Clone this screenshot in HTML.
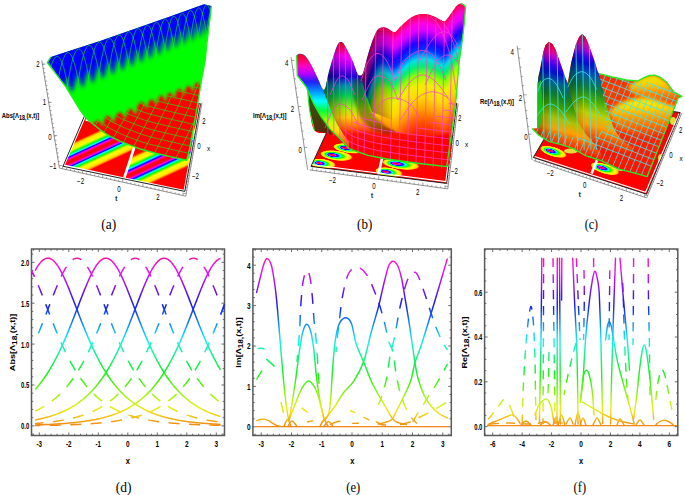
<!DOCTYPE html><html><head><meta charset="utf-8"><style>html,body{margin:0;padding:0;background:#fff;width:685px;height:495px;overflow:hidden}svg{display:block}</style></head><body><svg width="685" height="495" viewBox="0 0 685 495"><defs><linearGradient id="gd" gradientUnits="userSpaceOnUse" x1="0" y1="425.9" x2="0" y2="258.21"><stop offset="0" stop-color="#f28313"/><stop offset="0.04" stop-color="#f2b013"/><stop offset="0.08" stop-color="#f2dd13"/><stop offset="0.12" stop-color="#dbf213"/><stop offset="0.17" stop-color="#aef213"/><stop offset="0.21" stop-color="#81f213"/><stop offset="0.25" stop-color="#54f213"/><stop offset="0.29" stop-color="#28f213"/><stop offset="0.33" stop-color="#13f22c"/><stop offset="0.38" stop-color="#13f259"/><stop offset="0.42" stop-color="#13f286"/><stop offset="0.46" stop-color="#13f2b3"/><stop offset="0.5" stop-color="#13f2e0"/><stop offset="0.54" stop-color="#13d8f2"/><stop offset="0.58" stop-color="#13abf2"/><stop offset="0.62" stop-color="#137ef2"/><stop offset="0.67" stop-color="#1351f2"/><stop offset="0.71" stop-color="#1324f2"/><stop offset="0.75" stop-color="#2f13f2"/><stop offset="0.79" stop-color="#5c13f2"/><stop offset="0.83" stop-color="#8913f2"/><stop offset="0.88" stop-color="#b613f2"/><stop offset="0.92" stop-color="#e313f2"/><stop offset="0.96" stop-color="#f213d5"/><stop offset="1" stop-color="#f213a8"/></linearGradient><clipPath id="cpd"><rect x="31.5" y="249" width="193" height="186.5"/></clipPath><filter id="bl15" x="-20%" y="-20%" width="140%" height="140%"><feGaussianBlur stdDeviation="1.4"/></filter><filter id="bl22" x="-20%" y="-20%" width="140%" height="140%"><feGaussianBlur stdDeviation="2.1"/></filter><filter id="bl08" x="-20%" y="-20%" width="140%" height="140%"><feGaussianBlur stdDeviation="0.7"/></filter><linearGradient id="sa1" gradientUnits="userSpaceOnUse" x1="79.13" y1="128.78" x2="100.87" y2="176.02"><stop offset="0" stop-color="#ff0000"/><stop offset="0.19" stop-color="#ff0000"/><stop offset="0.21" stop-color="#ff8000"/><stop offset="0.24" stop-color="#ffe500"/><stop offset="0.3" stop-color="#ffff00"/><stop offset="0.33" stop-color="#95ff00"/><stop offset="0.35" stop-color="#00ff00"/><stop offset="0.39" stop-color="#00ffff"/><stop offset="0.41" stop-color="#0000ff"/><stop offset="0.44" stop-color="#ff00ff"/><stop offset="0.47" stop-color="#ff002b"/><stop offset="0.5" stop-color="#ff0000"/><stop offset="0.53" stop-color="#ff002b"/><stop offset="0.56" stop-color="#ff00ff"/><stop offset="0.59" stop-color="#0000ff"/><stop offset="0.61" stop-color="#00ffff"/><stop offset="0.65" stop-color="#00ff00"/><stop offset="0.67" stop-color="#95ff00"/><stop offset="0.7" stop-color="#ffff00"/><stop offset="0.76" stop-color="#ffe500"/><stop offset="0.79" stop-color="#ff8000"/><stop offset="0.81" stop-color="#ff0000"/><stop offset="1" stop-color="#ff0000"/></linearGradient><linearGradient id="sa2" gradientUnits="userSpaceOnUse" x1="139.13" y1="142.38" x2="160.87" y2="189.62"><stop offset="0" stop-color="#ff0000"/><stop offset="0.18" stop-color="#ff0000"/><stop offset="0.21" stop-color="#ff8000"/><stop offset="0.23" stop-color="#ffe500"/><stop offset="0.3" stop-color="#ffff00"/><stop offset="0.32" stop-color="#95ff00"/><stop offset="0.35" stop-color="#00ff00"/><stop offset="0.38" stop-color="#00ffff"/><stop offset="0.41" stop-color="#0000ff"/><stop offset="0.44" stop-color="#ff00ff"/><stop offset="0.47" stop-color="#ff002b"/><stop offset="0.5" stop-color="#ff0000"/><stop offset="0.53" stop-color="#ff002b"/><stop offset="0.56" stop-color="#ff00ff"/><stop offset="0.59" stop-color="#0000ff"/><stop offset="0.62" stop-color="#00ffff"/><stop offset="0.65" stop-color="#00ff00"/><stop offset="0.68" stop-color="#95ff00"/><stop offset="0.7" stop-color="#ffff00"/><stop offset="0.77" stop-color="#ffe500"/><stop offset="0.79" stop-color="#ff8000"/><stop offset="0.82" stop-color="#ff0000"/><stop offset="1" stop-color="#ff0000"/></linearGradient><clipPath id="sfa"><path d="M47.3 62.7 L50.9 56.9 L69.1 50.9 L100 40.9 L170 16.4 L204 4.2 L211.3 6.1 L210 18.2 L207 42.5 L205.2 60 L201.5 80 L197.5 105 L193.5 128 L190 147 L188 155.5 L186.6 160.3 L170.3 156.6 L155.7 153.2 L141.1 149.3 L125.5 143.4 L120.4 141.4 L115.4 138.9 L110.3 136.4 L105.3 133.3 L100.2 129.8 L95.2 125.8 L90.1 121.7 L85.1 116.7 L80 110.1 L74.5 100.9 L65.5 86.4 L54.5 71.8 L47.3 62.7 Z"/></clipPath><clipPath id="rza"><path d="M86 128 L98 120 L99.71 121.2 L101.42 124.5 L103.25 126.75 L104.08 120 L105.79 116.7 L107.5 115.5 L109.75 116.7 L112 120 L114.25 122.75 L115.5 116.5 L117.75 113.2 L120 112 L121.85 113.2 L123.71 116.5 L125.65 119.25 L126.59 113 L128.45 109.7 L130.3 108.5 L132.32 109.7 L134.33 113 L136.4 114.15 L137.47 106.3 L139.48 103 L141.5 101.8 L143.35 103 L145.21 106.3 L147.15 109.4 L148.09 103.5 L149.95 100.2 L151.8 99 L153.49 100.2 L155.18 103.5 L157 105.95 L157.82 99.4 L159.51 96.1 L161.2 94.9 L162.75 96.1 L164.3 99.4 L166 102.55 L166.7 96.7 L168.25 93.4 L169.8 92.2 L171.51 93.4 L173.22 96.7 L175.05 99.3 L175.88 92.9 L177.59 89.6 L179.3 88.4 L180.99 89.6 L182.68 92.9 L184.5 95.85 L185.32 89.8 L187.01 86.5 L188.7 85.3 L190.25 86.5 L191.8 89.8 L193.5 92.6 L194.2 86.4 L195.75 83.1 L197.3 81.9 L198.87 83.1 L200.43 86.4 L202.15 89.2 L202.87 83 L204.43 79.7 L206 78.5 L215 76 L215 170 L150 175 L80 135 Z"/></clipPath><radialGradient id="blobg" fx="0.34" fy="0.5"><stop offset="0" stop-color="#ff0000"/><stop offset="0.1" stop-color="#ff0000"/><stop offset="0.2" stop-color="#ff00ff"/><stop offset="0.31" stop-color="#0000ff"/><stop offset="0.42" stop-color="#00ffff"/><stop offset="0.54" stop-color="#00ff00"/><stop offset="0.66" stop-color="#b0ff00"/><stop offset="0.76" stop-color="#ffff00"/><stop offset="0.9" stop-color="#ffd000"/><stop offset="0.97" stop-color="#ff3000"/><stop offset="1" stop-color="#ff0000"/></radialGradient><clipPath id="flb"><path d="M311 166.4 L446.6 183.4 L456.7 103.3 L337 110 Z"/></clipPath><clipPath id="sfb"><path d="M296.6 55.5 C297.08 55.22 298.38 53.95 299.5 53.8 C300.62 53.65 302.05 53.9 303.3 54.6 C304.55 55.3 305.52 56.02 307 58 C308.48 59.98 310.37 63.08 312.2 66.5 C314.03 69.92 316.28 74.83 318 78.5 C319.72 82.17 321.32 86.92 322.5 88.5 C323.68 90.08 324 91.02 325.1 88 C326.2 84.98 327.6 76.03 329.1 70.4 C330.6 64.77 332.7 58.43 334.1 54.2 C335.5 49.97 336.48 47.02 337.5 45 C338.52 42.98 339.2 42.35 340.2 42.1 C341.2 41.85 342.15 41.82 343.5 43.5 C344.85 45.18 346.67 49.07 348.3 52.2 C349.93 55.33 351.78 58.77 353.3 62.3 C354.82 65.83 356.22 71.2 357.4 73.4 C358.58 75.6 359.45 75.62 360.4 75.5 C361.35 75.38 362 75.62 363.1 72.7 C364.2 69.78 365.65 62.72 367 58 C368.35 53.28 369.5 49.02 371.2 44.4 C372.9 39.78 375.18 33.15 377.2 30.3 C379.22 27.45 381.5 27.6 383.3 27.3 C385.1 27 386.15 27.67 388 28.5 C389.85 29.33 392.4 32.55 394.4 32.3 C396.4 32.05 397.82 29.02 400 27 C402.18 24.98 405 22.12 407.5 20.2 C410 18.28 412.3 16.52 415 15.5 C417.7 14.48 421.2 14.18 423.7 14.1 C426.2 14.02 427.98 14.48 430 15 C432.02 15.52 433.97 16.37 435.8 17.2 C437.63 18.03 439.5 19.33 441 20 C442.5 20.67 443.47 21.78 444.8 21.2 C446.13 20.62 447.78 18.02 449 16.5 C450.22 14.98 450.77 13.93 452.1 12.1 C453.43 10.27 455.48 6.92 457 5.5 C458.52 4.08 460.03 3.72 461.2 3.6 C462.37 3.48 463.28 4.18 464 4.8 C464.72 5.42 465.47 4.07 465.5 7.3 C465.53 10.53 464.92 17.33 464.2 24.2 C463.48 31.07 462 42.53 461.2 48.5 C460.4 54.47 460 54.75 459.4 60 C458.8 65.25 458.13 73.67 457.6 80 C457.07 86.33 457.13 89.67 456.2 98 C455.27 106.33 453.58 118.55 452 130 C450.42 141.45 452.8 161.2 446.7 166.7 C440.6 172.2 425.37 164.28 415.4 163 C405.43 161.72 394.8 160.28 386.9 159 C379 157.72 374.32 157.03 368 155.3 C361.68 153.57 353.52 151.23 349 148.6 C344.48 145.97 343.75 141.68 340.9 139.5 C338.05 137.32 334.32 136.55 331.9 135.5 C329.48 134.45 329.3 134.03 326.4 133.2 C323.5 132.37 317.32 134.37 314.5 130.5 C311.68 126.63 310.7 116.9 309.5 110 C308.3 103.1 309.33 94.85 307.3 89.1 C305.27 83.35 298.97 77.77 297.3 75.5 Z"/></clipPath><linearGradient id="g3b" gradientUnits="userSpaceOnUse" x1="0" y1="12" x2="0" y2="170"><stop offset="0" stop-color="#ff0040"/><stop offset="0.05" stop-color="#ff0090"/><stop offset="0.1" stop-color="#ff00e0"/><stop offset="0.16" stop-color="#c000ff"/><stop offset="0.21" stop-color="#3000ff"/><stop offset="0.25" stop-color="#0020ff"/><stop offset="0.3" stop-color="#0090ff"/><stop offset="0.34" stop-color="#00e0d0"/><stop offset="0.39" stop-color="#00f070"/><stop offset="0.44" stop-color="#80ff00"/><stop offset="0.49" stop-color="#f0f000"/><stop offset="0.56" stop-color="#ffa000"/><stop offset="0.63" stop-color="#ff4000"/><stop offset="0.71" stop-color="#ff0000"/><stop offset="1" stop-color="#ff0000"/></linearGradient><linearGradient id="g2b" gradientUnits="userSpaceOnUse" x1="0" y1="42" x2="0" y2="170"><stop offset="0" stop-color="#e00020"/><stop offset="0.05" stop-color="#ff0070"/><stop offset="0.11" stop-color="#ff00ff"/><stop offset="0.19" stop-color="#a000ff"/><stop offset="0.27" stop-color="#2000d0"/><stop offset="0.34" stop-color="#0090b0"/><stop offset="0.42" stop-color="#00d050"/><stop offset="0.52" stop-color="#a0f000"/><stop offset="0.59" stop-color="#ffd000"/><stop offset="0.66" stop-color="#ff7000"/><stop offset="0.72" stop-color="#ff1000"/><stop offset="1" stop-color="#ff0000"/></linearGradient><linearGradient id="g1b" gradientUnits="userSpaceOnUse" x1="0" y1="54" x2="0" y2="150"><stop offset="0" stop-color="#f00020"/><stop offset="0.06" stop-color="#ff0060"/><stop offset="0.12" stop-color="#ff00c0"/><stop offset="0.2" stop-color="#c000ff"/><stop offset="0.29" stop-color="#2020ff"/><stop offset="0.4" stop-color="#00a0ff"/><stop offset="0.49" stop-color="#00ffff"/><stop offset="0.59" stop-color="#00ff40"/><stop offset="0.71" stop-color="#c0ff00"/><stop offset="0.8" stop-color="#ffe000"/><stop offset="0.89" stop-color="#ff8000"/><stop offset="1" stop-color="#ff2000"/></linearGradient><linearGradient id="gdb" gradientUnits="userSpaceOnUse" x1="0" y1="85" x2="0" y2="132"><stop offset="0" stop-color="#2a5a18"/><stop offset="0.53" stop-color="#3a4a10"/><stop offset="1" stop-color="#5a2a08"/></linearGradient><linearGradient id="shb2" gradientUnits="userSpaceOnUse" x1="322" y1="0" x2="346" y2="0"><stop offset="0" stop-color="#000" stop-opacity="0.5"/><stop offset="1" stop-color="#000" stop-opacity="0"/></linearGradient><linearGradient id="shb3" gradientUnits="userSpaceOnUse" x1="362" y1="0" x2="395" y2="0"><stop offset="0" stop-color="#000" stop-opacity="0.6"/><stop offset="0.5" stop-color="#000" stop-opacity="0.3"/><stop offset="1" stop-color="#000" stop-opacity="0"/></linearGradient><clipPath id="frb"><path d="M343 128 L360 118 L372 112 L387 127 L406 134 L430 122 L446 108 L456 92 L460 175 L330 175 Z"/></clipPath><clipPath id="flc"><path d="M533.3 157.5 L646.6 194.2 L680.2 112.6 L570 95 Z"/></clipPath><clipPath id="sfc"><path d="M537.6 84 L538.5 76 L540 69.4 L543.3 51.7 L545.5 45 L548.9 41.7 L552.5 44 L555.6 49.4 L561.1 65 L565.6 78.3 L568.5 84 L568.2 80.6 L571.1 62.8 L575.6 45 L579 37 L582.2 33.9 L585.5 37 L588.9 45 L594.4 60.6 L597.8 71.7 L599.1 73.7 L612 77 L626.4 80 L637.4 81 L644.6 77.3 L649 75.5 L654.7 75.2 L660 77 L666.5 81.9 L673.8 91.9 L682 96.4 L678.2 98 L647.2 176.6 L634 172.9 L617.9 168.8 L601.7 160.8 L585.6 155.7 L573.4 148.6 L561.3 144.6 L549.2 141.6 L539.1 135.5 L532.1 128.5 L537.5 128.3 Z"/></clipPath><linearGradient id="gp1c" gradientTransform="rotate(16 550 80)" gradientUnits="userSpaceOnUse" x1="0" y1="41" x2="0" y2="144"><stop offset="0" stop-color="#d00030"/><stop offset="0.06" stop-color="#e00050"/><stop offset="0.12" stop-color="#e000a0"/><stop offset="0.17" stop-color="#a000e0"/><stop offset="0.23" stop-color="#4000f0"/><stop offset="0.3" stop-color="#0010d0"/><stop offset="0.39" stop-color="#006090"/><stop offset="0.5" stop-color="#107a30"/><stop offset="0.61" stop-color="#40a000"/><stop offset="0.72" stop-color="#b0c000"/><stop offset="0.82" stop-color="#ffa000"/><stop offset="0.9" stop-color="#ff5000"/><stop offset="1" stop-color="#ff1000"/></linearGradient><linearGradient id="gp2c" gradientTransform="rotate(16 584 75)" gradientUnits="userSpaceOnUse" x1="0" y1="33" x2="0" y2="142"><stop offset="0" stop-color="#d00030"/><stop offset="0.06" stop-color="#e00050"/><stop offset="0.11" stop-color="#e000a0"/><stop offset="0.17" stop-color="#a000e0"/><stop offset="0.22" stop-color="#4000f0"/><stop offset="0.28" stop-color="#0010d0"/><stop offset="0.38" stop-color="#0060a0"/><stop offset="0.49" stop-color="#108040"/><stop offset="0.6" stop-color="#50b000"/><stop offset="0.71" stop-color="#c0d000"/><stop offset="0.81" stop-color="#ffa000"/><stop offset="0.9" stop-color="#ff5000"/><stop offset="1" stop-color="#ff1000"/></linearGradient><linearGradient id="gshc" gradientUnits="userSpaceOnUse" x1="0" y1="70" x2="0" y2="180"><stop offset="0" stop-color="#ff2000"/><stop offset="0.18" stop-color="#ff3a00"/><stop offset="0.45" stop-color="#ff2a00"/><stop offset="1" stop-color="#ff1000"/></linearGradient><linearGradient id="shc1" gradientUnits="userSpaceOnUse" x1="537" y1="0" x2="552" y2="0"><stop offset="0" stop-color="#000" stop-opacity="0.35"/><stop offset="1" stop-color="#000" stop-opacity="0"/></linearGradient><linearGradient id="shc2" gradientUnits="userSpaceOnUse" x1="567" y1="0" x2="586" y2="0"><stop offset="0" stop-color="#000" stop-opacity="0.35"/><stop offset="1" stop-color="#000" stop-opacity="0"/></linearGradient><radialGradient id="bmpc"><stop offset="0" stop-color="#f0f000"/><stop offset="0.45" stop-color="#ffd000"/><stop offset="0.8" stop-color="#ff7000"/><stop offset="1" stop-color="#ff3a00" stop-opacity="0"/></radialGradient><linearGradient id="bm1c" gradientUnits="userSpaceOnUse" x1="0" y1="74" x2="0" y2="102"><stop offset="0" stop-color="#d8f000"/><stop offset="0.36" stop-color="#ffd000"/><stop offset="0.71" stop-color="#ff8000"/><stop offset="1" stop-color="#ff4000"/></linearGradient><linearGradient id="bm2c" gradientUnits="userSpaceOnUse" x1="0" y1="96" x2="0" y2="136"><stop offset="0" stop-color="#f0f000"/><stop offset="0.25" stop-color="#ffe000"/><stop offset="0.5" stop-color="#ffa000"/><stop offset="0.8" stop-color="#ff6000"/><stop offset="1" stop-color="#ff3000"/></linearGradient><clipPath id="shz"><path d="M599 73 L685 90 L685 185 L528 185 L530 126 L560 134 L590 140 L606 128 L604 100 Z"/></clipPath><linearGradient id="ge" gradientUnits="userSpaceOnUse" x1="0" y1="426.8" x2="0" y2="258.33"><stop offset="0" stop-color="#f28313"/><stop offset="0.04" stop-color="#f2b013"/><stop offset="0.08" stop-color="#f2dd13"/><stop offset="0.12" stop-color="#dbf213"/><stop offset="0.17" stop-color="#aef213"/><stop offset="0.21" stop-color="#81f213"/><stop offset="0.25" stop-color="#54f213"/><stop offset="0.29" stop-color="#28f213"/><stop offset="0.33" stop-color="#13f22c"/><stop offset="0.38" stop-color="#13f259"/><stop offset="0.42" stop-color="#13f286"/><stop offset="0.46" stop-color="#13f2b3"/><stop offset="0.5" stop-color="#13f2e0"/><stop offset="0.54" stop-color="#13d8f2"/><stop offset="0.58" stop-color="#13abf2"/><stop offset="0.62" stop-color="#137ef2"/><stop offset="0.67" stop-color="#1351f2"/><stop offset="0.71" stop-color="#1324f2"/><stop offset="0.75" stop-color="#2f13f2"/><stop offset="0.79" stop-color="#5c13f2"/><stop offset="0.83" stop-color="#8913f2"/><stop offset="0.88" stop-color="#b613f2"/><stop offset="0.92" stop-color="#e313f2"/><stop offset="0.96" stop-color="#f213d5"/><stop offset="1" stop-color="#f213a8"/></linearGradient><linearGradient id="gf" gradientUnits="userSpaceOnUse" x1="0" y1="426.6" x2="0" y2="258.2"><stop offset="0" stop-color="#f28313"/><stop offset="0.04" stop-color="#f2b013"/><stop offset="0.08" stop-color="#f2dd13"/><stop offset="0.12" stop-color="#dbf213"/><stop offset="0.17" stop-color="#aef213"/><stop offset="0.21" stop-color="#81f213"/><stop offset="0.25" stop-color="#54f213"/><stop offset="0.29" stop-color="#28f213"/><stop offset="0.33" stop-color="#13f22c"/><stop offset="0.38" stop-color="#13f259"/><stop offset="0.42" stop-color="#13f286"/><stop offset="0.46" stop-color="#13f2b3"/><stop offset="0.5" stop-color="#13f2e0"/><stop offset="0.54" stop-color="#13d8f2"/><stop offset="0.58" stop-color="#13abf2"/><stop offset="0.62" stop-color="#137ef2"/><stop offset="0.67" stop-color="#1351f2"/><stop offset="0.71" stop-color="#1324f2"/><stop offset="0.75" stop-color="#2f13f2"/><stop offset="0.79" stop-color="#5c13f2"/><stop offset="0.83" stop-color="#8913f2"/><stop offset="0.88" stop-color="#b613f2"/><stop offset="0.92" stop-color="#e313f2"/><stop offset="0.96" stop-color="#f213d5"/><stop offset="1" stop-color="#f213a8"/></linearGradient></defs><rect width="685" height="495" fill="#fff"/><g stroke="#5a5a5a" fill="none"><rect x="31.5" y="249" width="193" height="186.5" stroke-width="1.5"/><path d="M33.4 435.5 v-1.8 M33.4 249 v1.8 M39.3 435.5 v-3 M39.3 249 v3 M45.2 435.5 v-1.8 M45.2 249 v1.8 M51.1 435.5 v-1.8 M51.1 249 v1.8 M57 435.5 v-1.8 M57 249 v1.8 M62.9 435.5 v-1.8 M62.9 249 v1.8 M68.8 435.5 v-3 M68.8 249 v3 M74.7 435.5 v-1.8 M74.7 249 v1.8 M80.6 435.5 v-1.8 M80.6 249 v1.8 M86.5 435.5 v-1.8 M86.5 249 v1.8 M92.4 435.5 v-1.8 M92.4 249 v1.8 M98.3 435.5 v-3 M98.3 249 v3 M104.2 435.5 v-1.8 M104.2 249 v1.8 M110.1 435.5 v-1.8 M110.1 249 v1.8 M116 435.5 v-1.8 M116 249 v1.8 M121.9 435.5 v-1.8 M121.9 249 v1.8 M127.8 435.5 v-3 M127.8 249 v3 M133.7 435.5 v-1.8 M133.7 249 v1.8 M139.6 435.5 v-1.8 M139.6 249 v1.8 M145.5 435.5 v-1.8 M145.5 249 v1.8 M151.4 435.5 v-1.8 M151.4 249 v1.8 M157.3 435.5 v-3 M157.3 249 v3 M163.2 435.5 v-1.8 M163.2 249 v1.8 M169.1 435.5 v-1.8 M169.1 249 v1.8 M175 435.5 v-1.8 M175 249 v1.8 M180.9 435.5 v-1.8 M180.9 249 v1.8 M186.8 435.5 v-3 M186.8 249 v3 M192.7 435.5 v-1.8 M192.7 249 v1.8 M198.6 435.5 v-1.8 M198.6 249 v1.8 M204.5 435.5 v-1.8 M204.5 249 v1.8 M210.4 435.5 v-1.8 M210.4 249 v1.8 M216.3 435.5 v-3 M216.3 249 v3 M222.2 435.5 v-1.8 M222.2 249 v1.8 M31.5 434.08 h1.8 M224.5 434.08 h-1.8 M31.5 425.9 h3 M224.5 425.9 h-3 M31.5 417.72 h1.8 M224.5 417.72 h-1.8 M31.5 409.54 h1.8 M224.5 409.54 h-1.8 M31.5 401.36 h1.8 M224.5 401.36 h-1.8 M31.5 393.18 h1.8 M224.5 393.18 h-1.8 M31.5 385 h3 M224.5 385 h-3 M31.5 376.82 h1.8 M224.5 376.82 h-1.8 M31.5 368.64 h1.8 M224.5 368.64 h-1.8 M31.5 360.46 h1.8 M224.5 360.46 h-1.8 M31.5 352.28 h1.8 M224.5 352.28 h-1.8 M31.5 344.1 h3 M224.5 344.1 h-3 M31.5 335.92 h1.8 M224.5 335.92 h-1.8 M31.5 327.74 h1.8 M224.5 327.74 h-1.8 M31.5 319.56 h1.8 M224.5 319.56 h-1.8 M31.5 311.38 h1.8 M224.5 311.38 h-1.8 M31.5 303.2 h3 M224.5 303.2 h-3 M31.5 295.02 h1.8 M224.5 295.02 h-1.8 M31.5 286.84 h1.8 M224.5 286.84 h-1.8 M31.5 278.66 h1.8 M224.5 278.66 h-1.8 M31.5 270.48 h1.8 M224.5 270.48 h-1.8 M31.5 262.3 h3 M224.5 262.3 h-3 M31.5 254.12 h1.8 M224.5 254.12 h-1.8 " stroke-width="0.9"/></g><text x="39.3" y="447" font-size="9.5" text-anchor="middle" font-weight="bold" font-family="'Liberation Sans', sans-serif"  textLength="5.5" lengthAdjust="spacingAndGlyphs">-3</text><text x="68.8" y="447" font-size="9.5" text-anchor="middle" font-weight="bold" font-family="'Liberation Sans', sans-serif"  textLength="5.5" lengthAdjust="spacingAndGlyphs">-2</text><text x="98.3" y="447" font-size="9.5" text-anchor="middle" font-weight="bold" font-family="'Liberation Sans', sans-serif"  textLength="5.5" lengthAdjust="spacingAndGlyphs">-1</text><text x="127.8" y="447" font-size="9.5" text-anchor="middle" font-weight="bold" font-family="'Liberation Sans', sans-serif"  textLength="3.6" lengthAdjust="spacingAndGlyphs">0</text><text x="157.3" y="447" font-size="9.5" text-anchor="middle" font-weight="bold" font-family="'Liberation Sans', sans-serif"  textLength="3.6" lengthAdjust="spacingAndGlyphs">1</text><text x="186.8" y="447" font-size="9.5" text-anchor="middle" font-weight="bold" font-family="'Liberation Sans', sans-serif"  textLength="3.6" lengthAdjust="spacingAndGlyphs">2</text><text x="216.3" y="447" font-size="9.5" text-anchor="middle" font-weight="bold" font-family="'Liberation Sans', sans-serif"  textLength="3.6" lengthAdjust="spacingAndGlyphs">3</text><text x="29.2" y="429.3" font-size="9.5" text-anchor="end" font-weight="bold" font-family="'Liberation Sans', sans-serif"  textLength="8.2" lengthAdjust="spacingAndGlyphs">0.0</text><text x="29.2" y="388.4" font-size="9.5" text-anchor="end" font-weight="bold" font-family="'Liberation Sans', sans-serif"  textLength="8.2" lengthAdjust="spacingAndGlyphs">0.5</text><text x="29.2" y="347.5" font-size="9.5" text-anchor="end" font-weight="bold" font-family="'Liberation Sans', sans-serif"  textLength="8.2" lengthAdjust="spacingAndGlyphs">1.0</text><text x="29.2" y="306.6" font-size="9.5" text-anchor="end" font-weight="bold" font-family="'Liberation Sans', sans-serif"  textLength="8.2" lengthAdjust="spacingAndGlyphs">1.5</text><text x="29.2" y="265.7" font-size="9.5" text-anchor="end" font-weight="bold" font-family="'Liberation Sans', sans-serif"  textLength="8.2" lengthAdjust="spacingAndGlyphs">2.0</text><text x="127.8" y="463.5" font-size="9" text-anchor="middle" font-weight="bold" font-family="'Liberation Sans', sans-serif"  textLength="4.2" lengthAdjust="spacingAndGlyphs">x</text><text transform="translate(14.6 342.4) rotate(-90)" font-size="7.2" font-weight="bold" text-anchor="middle" font-family="'Liberation Sans', sans-serif" textLength="57.5" lengthAdjust="spacingAndGlyphs">Abs[&#923;<tspan font-size="6.6" dy="2">18,</tspan><tspan dy="-2">(x,t)]</tspan></text><g stroke="#5a5a5a" fill="none"><rect x="252.9" y="249" width="198.4" height="186.5" stroke-width="1.5"/><path d="M255.2 435.5 v-1.8 M255.2 249 v1.8 M261.25 435.5 v-3 M261.25 249 v3 M267.3 435.5 v-1.8 M267.3 249 v1.8 M273.35 435.5 v-1.8 M273.35 249 v1.8 M279.4 435.5 v-1.8 M279.4 249 v1.8 M285.45 435.5 v-1.8 M285.45 249 v1.8 M291.5 435.5 v-3 M291.5 249 v3 M297.55 435.5 v-1.8 M297.55 249 v1.8 M303.6 435.5 v-1.8 M303.6 249 v1.8 M309.65 435.5 v-1.8 M309.65 249 v1.8 M315.7 435.5 v-1.8 M315.7 249 v1.8 M321.75 435.5 v-3 M321.75 249 v3 M327.8 435.5 v-1.8 M327.8 249 v1.8 M333.85 435.5 v-1.8 M333.85 249 v1.8 M339.9 435.5 v-1.8 M339.9 249 v1.8 M345.95 435.5 v-1.8 M345.95 249 v1.8 M352 435.5 v-3 M352 249 v3 M358.05 435.5 v-1.8 M358.05 249 v1.8 M364.1 435.5 v-1.8 M364.1 249 v1.8 M370.15 435.5 v-1.8 M370.15 249 v1.8 M376.2 435.5 v-1.8 M376.2 249 v1.8 M382.25 435.5 v-3 M382.25 249 v3 M388.3 435.5 v-1.8 M388.3 249 v1.8 M394.35 435.5 v-1.8 M394.35 249 v1.8 M400.4 435.5 v-1.8 M400.4 249 v1.8 M406.45 435.5 v-1.8 M406.45 249 v1.8 M412.5 435.5 v-3 M412.5 249 v3 M418.55 435.5 v-1.8 M418.55 249 v1.8 M424.6 435.5 v-1.8 M424.6 249 v1.8 M430.65 435.5 v-1.8 M430.65 249 v1.8 M436.7 435.5 v-1.8 M436.7 249 v1.8 M442.75 435.5 v-3 M442.75 249 v3 M448.8 435.5 v-1.8 M448.8 249 v1.8 M252.9 434.88 h1.8 M451.3 434.88 h-1.8 M252.9 426.8 h3 M451.3 426.8 h-3 M252.9 418.72 h1.8 M451.3 418.72 h-1.8 M252.9 410.64 h1.8 M451.3 410.64 h-1.8 M252.9 402.56 h1.8 M451.3 402.56 h-1.8 M252.9 394.48 h1.8 M451.3 394.48 h-1.8 M252.9 386.4 h3 M451.3 386.4 h-3 M252.9 378.32 h1.8 M451.3 378.32 h-1.8 M252.9 370.24 h1.8 M451.3 370.24 h-1.8 M252.9 362.16 h1.8 M451.3 362.16 h-1.8 M252.9 354.08 h1.8 M451.3 354.08 h-1.8 M252.9 346 h3 M451.3 346 h-3 M252.9 337.92 h1.8 M451.3 337.92 h-1.8 M252.9 329.84 h1.8 M451.3 329.84 h-1.8 M252.9 321.76 h1.8 M451.3 321.76 h-1.8 M252.9 313.68 h1.8 M451.3 313.68 h-1.8 M252.9 305.6 h3 M451.3 305.6 h-3 M252.9 297.52 h1.8 M451.3 297.52 h-1.8 M252.9 289.44 h1.8 M451.3 289.44 h-1.8 M252.9 281.36 h1.8 M451.3 281.36 h-1.8 M252.9 273.28 h1.8 M451.3 273.28 h-1.8 M252.9 265.2 h3 M451.3 265.2 h-3 M252.9 257.12 h1.8 M451.3 257.12 h-1.8 M252.9 249.04 h1.8 M451.3 249.04 h-1.8 " stroke-width="0.9"/></g><text x="261.25" y="447" font-size="9.5" text-anchor="middle" font-weight="bold" font-family="'Liberation Sans', sans-serif"  textLength="5.5" lengthAdjust="spacingAndGlyphs">-3</text><text x="291.5" y="447" font-size="9.5" text-anchor="middle" font-weight="bold" font-family="'Liberation Sans', sans-serif"  textLength="5.5" lengthAdjust="spacingAndGlyphs">-2</text><text x="321.75" y="447" font-size="9.5" text-anchor="middle" font-weight="bold" font-family="'Liberation Sans', sans-serif"  textLength="5.5" lengthAdjust="spacingAndGlyphs">-1</text><text x="352" y="447" font-size="9.5" text-anchor="middle" font-weight="bold" font-family="'Liberation Sans', sans-serif"  textLength="3.6" lengthAdjust="spacingAndGlyphs">0</text><text x="382.25" y="447" font-size="9.5" text-anchor="middle" font-weight="bold" font-family="'Liberation Sans', sans-serif"  textLength="3.6" lengthAdjust="spacingAndGlyphs">1</text><text x="412.5" y="447" font-size="9.5" text-anchor="middle" font-weight="bold" font-family="'Liberation Sans', sans-serif"  textLength="3.6" lengthAdjust="spacingAndGlyphs">2</text><text x="442.75" y="447" font-size="9.5" text-anchor="middle" font-weight="bold" font-family="'Liberation Sans', sans-serif"  textLength="3.6" lengthAdjust="spacingAndGlyphs">3</text><text x="250.6" y="430.2" font-size="9.5" text-anchor="end" font-weight="bold" font-family="'Liberation Sans', sans-serif"  textLength="3.6" lengthAdjust="spacingAndGlyphs">0</text><text x="250.6" y="389.8" font-size="9.5" text-anchor="end" font-weight="bold" font-family="'Liberation Sans', sans-serif"  textLength="3.6" lengthAdjust="spacingAndGlyphs">1</text><text x="250.6" y="349.4" font-size="9.5" text-anchor="end" font-weight="bold" font-family="'Liberation Sans', sans-serif"  textLength="3.6" lengthAdjust="spacingAndGlyphs">2</text><text x="250.6" y="309" font-size="9.5" text-anchor="end" font-weight="bold" font-family="'Liberation Sans', sans-serif"  textLength="3.6" lengthAdjust="spacingAndGlyphs">3</text><text x="250.6" y="268.6" font-size="9.5" text-anchor="end" font-weight="bold" font-family="'Liberation Sans', sans-serif"  textLength="3.6" lengthAdjust="spacingAndGlyphs">4</text><text x="352.3" y="463.5" font-size="9" text-anchor="middle" font-weight="bold" font-family="'Liberation Sans', sans-serif"  textLength="4.2" lengthAdjust="spacingAndGlyphs">x</text><text transform="translate(240.6 342.6) rotate(-90)" font-size="7.2" font-weight="bold" text-anchor="middle" font-family="'Liberation Sans', sans-serif" textLength="50.5" lengthAdjust="spacingAndGlyphs">Im[&#923;<tspan font-size="6.6" dy="2">18,</tspan><tspan dy="-2">(x,t)]</tspan></text><g stroke="#5a5a5a" fill="none"><rect x="484.6" y="249" width="193.2" height="186.5" stroke-width="1.5"/><path d="M485.32 435.5 v-1.8 M485.32 249 v1.8 M492.68 435.5 v-3 M492.68 249 v3 M500.04 435.5 v-1.8 M500.04 249 v1.8 M507.4 435.5 v-1.8 M507.4 249 v1.8 M514.76 435.5 v-1.8 M514.76 249 v1.8 M522.12 435.5 v-3 M522.12 249 v3 M529.48 435.5 v-1.8 M529.48 249 v1.8 M536.84 435.5 v-1.8 M536.84 249 v1.8 M544.2 435.5 v-1.8 M544.2 249 v1.8 M551.56 435.5 v-3 M551.56 249 v3 M558.92 435.5 v-1.8 M558.92 249 v1.8 M566.28 435.5 v-1.8 M566.28 249 v1.8 M573.64 435.5 v-1.8 M573.64 249 v1.8 M581 435.5 v-3 M581 249 v3 M588.36 435.5 v-1.8 M588.36 249 v1.8 M595.72 435.5 v-1.8 M595.72 249 v1.8 M603.08 435.5 v-1.8 M603.08 249 v1.8 M610.44 435.5 v-3 M610.44 249 v3 M617.8 435.5 v-1.8 M617.8 249 v1.8 M625.16 435.5 v-1.8 M625.16 249 v1.8 M632.52 435.5 v-1.8 M632.52 249 v1.8 M639.88 435.5 v-3 M639.88 249 v3 M647.24 435.5 v-1.8 M647.24 249 v1.8 M654.6 435.5 v-1.8 M654.6 249 v1.8 M661.96 435.5 v-1.8 M661.96 249 v1.8 M669.32 435.5 v-3 M669.32 249 v3 M676.68 435.5 v-1.8 M676.68 249 v1.8 M484.6 426.6 h3 M677.8 426.6 h-3 M484.6 415.4 h1.8 M677.8 415.4 h-1.8 M484.6 404.2 h1.8 M677.8 404.2 h-1.8 M484.6 393 h1.8 M677.8 393 h-1.8 M484.6 381.8 h3 M677.8 381.8 h-3 M484.6 370.6 h1.8 M677.8 370.6 h-1.8 M484.6 359.4 h1.8 M677.8 359.4 h-1.8 M484.6 348.2 h1.8 M677.8 348.2 h-1.8 M484.6 337 h3 M677.8 337 h-3 M484.6 325.8 h1.8 M677.8 325.8 h-1.8 M484.6 314.6 h1.8 M677.8 314.6 h-1.8 M484.6 303.4 h1.8 M677.8 303.4 h-1.8 M484.6 292.2 h3 M677.8 292.2 h-3 M484.6 281 h1.8 M677.8 281 h-1.8 M484.6 269.8 h1.8 M677.8 269.8 h-1.8 M484.6 258.6 h1.8 M677.8 258.6 h-1.8 " stroke-width="0.9"/></g><text x="492.68" y="447" font-size="9.5" text-anchor="middle" font-weight="bold" font-family="'Liberation Sans', sans-serif"  textLength="5.5" lengthAdjust="spacingAndGlyphs">-6</text><text x="522.12" y="447" font-size="9.5" text-anchor="middle" font-weight="bold" font-family="'Liberation Sans', sans-serif"  textLength="5.5" lengthAdjust="spacingAndGlyphs">-4</text><text x="551.56" y="447" font-size="9.5" text-anchor="middle" font-weight="bold" font-family="'Liberation Sans', sans-serif"  textLength="5.5" lengthAdjust="spacingAndGlyphs">-2</text><text x="581" y="447" font-size="9.5" text-anchor="middle" font-weight="bold" font-family="'Liberation Sans', sans-serif"  textLength="3.6" lengthAdjust="spacingAndGlyphs">0</text><text x="610.44" y="447" font-size="9.5" text-anchor="middle" font-weight="bold" font-family="'Liberation Sans', sans-serif"  textLength="3.6" lengthAdjust="spacingAndGlyphs">2</text><text x="639.88" y="447" font-size="9.5" text-anchor="middle" font-weight="bold" font-family="'Liberation Sans', sans-serif"  textLength="3.6" lengthAdjust="spacingAndGlyphs">4</text><text x="669.32" y="447" font-size="9.5" text-anchor="middle" font-weight="bold" font-family="'Liberation Sans', sans-serif"  textLength="3.6" lengthAdjust="spacingAndGlyphs">6</text><text x="482.4" y="430" font-size="9.5" text-anchor="end" font-weight="bold" font-family="'Liberation Sans', sans-serif"  textLength="8.2" lengthAdjust="spacingAndGlyphs">0.0</text><text x="482.4" y="385.2" font-size="9.5" text-anchor="end" font-weight="bold" font-family="'Liberation Sans', sans-serif"  textLength="8.2" lengthAdjust="spacingAndGlyphs">0.2</text><text x="482.4" y="340.4" font-size="9.5" text-anchor="end" font-weight="bold" font-family="'Liberation Sans', sans-serif"  textLength="8.2" lengthAdjust="spacingAndGlyphs">0.4</text><text x="482.4" y="295.6" font-size="9.5" text-anchor="end" font-weight="bold" font-family="'Liberation Sans', sans-serif"  textLength="8.2" lengthAdjust="spacingAndGlyphs">0.6</text><text x="581.2" y="463.5" font-size="9" text-anchor="middle" font-weight="bold" font-family="'Liberation Sans', sans-serif"  textLength="4.2" lengthAdjust="spacingAndGlyphs">x</text><text transform="translate(467.2 342.5) rotate(-90)" font-size="7.2" font-weight="bold" text-anchor="middle" font-family="'Liberation Sans', sans-serif" textLength="52" lengthAdjust="spacingAndGlyphs">Re[&#923;<tspan font-size="6.6" dy="2">18,</tspan><tspan dy="-2">(x,t)]</tspan></text><text x="108.75" y="228.6" font-size="14.5" text-anchor="middle" font-weight="normal" font-family="'Liberation Serif', serif"  textLength="14.9" lengthAdjust="spacingAndGlyphs">(a)</text><text x="364.7" y="228.6" font-size="14.5" text-anchor="middle" font-weight="normal" font-family="'Liberation Serif', serif"  textLength="15.2" lengthAdjust="spacingAndGlyphs">(b)</text><text x="591.45" y="228.6" font-size="14.5" text-anchor="middle" font-weight="normal" font-family="'Liberation Serif', serif"  textLength="13.3" lengthAdjust="spacingAndGlyphs">(c)</text><text x="123.6" y="492" font-size="14.5" text-anchor="middle" font-weight="normal" font-family="'Liberation Serif', serif"  textLength="15.8" lengthAdjust="spacingAndGlyphs">(d)</text><text x="353.3" y="492" font-size="14.5" text-anchor="middle" font-weight="normal" font-family="'Liberation Serif', serif"  textLength="14" lengthAdjust="spacingAndGlyphs">(e)</text><text x="579.85" y="492" font-size="14.5" text-anchor="middle" font-weight="normal" font-family="'Liberation Serif', serif"  textLength="12.5" lengthAdjust="spacingAndGlyphs">(f)</text><g fill="none" stroke="url(#gd)" stroke-width="1.5" stroke-linejoin="round"><path d="M35.12 270.61 L36.29 268.56 L37.45 266.66 L38.62 264.93 L39.79 263.38 L40.95 262.02 L42.12 260.86 L43.28 259.9 L44.45 259.15 L45.61 258.62 L46.78 258.3 L47.95 258.21 L49.11 258.34 L50.28 258.69 L51.44 259.25 L52.61 260.04 L53.77 261.03 L54.94 262.22 L56.11 263.61 L57.27 265.19 L58.44 266.95 L59.6 268.87 L60.77 270.95 L61.94 273.17 L63.1 275.53 L64.27 278.01 L65.43 280.59 L66.6 283.28 L67.76 286.04 L68.93 288.88 L70.1 291.78 L71.26 294.73 L72.43 297.72 L73.59 300.74 L74.76 303.78 L75.92 306.82 L77.09 309.87 L78.26 312.91 L79.42 315.94 L80.59 318.95 L81.75 321.93 L82.92 324.88 L84.08 327.79 L85.25 330.66 L86.42 333.49 L87.58 336.27 L88.75 338.99 L89.91 341.67 L91.08 344.29 L92.24 346.85 L93.41 349.36 L94.58 351.8 L95.74 354.19 L96.91 356.52 L98.07 358.78 L99.24 360.99 L100.4 363.13 L101.57 365.22 L102.74 367.25 L103.9 369.22 L105.07 371.13 L106.23 372.98 L107.4 374.78 L108.57 376.52 L109.73 378.21 L110.9 379.85 L112.06 381.43 L113.23 382.96 L114.39 384.45 L115.56 385.89 L116.73 387.27 L117.89 388.62 L119.06 389.92 L120.22 391.17 L121.39 392.39 L122.55 393.56 L123.72 394.7 L124.89 395.79 L126.05 396.85 L127.22 397.87 L128.38 398.86 L129.55 399.81 L130.71 400.73 L131.88 401.62 L133.05 402.48 L134.21 403.31 L135.38 404.11 L136.54 404.88 L137.71 405.63 L138.87 406.34 L140.04 407.04 L141.21 407.71 L142.37 408.35 L143.54 408.98 L144.7 409.58 L145.87 410.16 L147.03 410.72 L148.2 411.26 L149.37 411.78 L150.53 412.28 L151.7 412.77 L152.86 413.23 L154.03 413.68 L155.2 414.12 L156.36 414.54 L157.53 414.94 L158.69 415.33 L159.86 415.71 L161.02 416.07 L162.19 416.42 L163.36 416.76 L164.52 417.09 L165.69 417.4 L166.85 417.7 L168.02 418 L169.18 418.28 L170.35 418.55 L171.52 418.81 L172.68 419.07 L173.85 419.31 L175.01 419.54 L176.18 419.77 L177.34 419.99 L178.51 420.2 L179.68 420.4 L180.84 420.6 L182.01 420.79 L183.17 420.97 L184.34 421.15 L185.5 421.32 L186.67 421.48 L187.84 421.64 L189 421.79 L190.17 421.94 L191.33 422.08 L192.5 422.22 L193.66 422.35 L194.83 422.47 L196 422.6 L197.16 422.71 L198.33 422.83 L199.49 422.94 L200.66 423.04 L201.83 423.14 L202.99 423.24 L204.16 423.34 L205.32 423.43 L206.49 423.52 L207.65 423.6 L208.82 423.68 L209.99 423.76 L211.15 423.84 L212.32 423.91 L213.48 423.98 L214.65 424.05 L215.81 424.12 L216.98 424.18 L218.15 424.24 L219.31 424.3 L220.48 424.36"/><path d="M35.12 389.53 L36.29 388.21 L37.45 386.86 L38.62 385.45 L39.79 384 L40.95 382.5 L42.12 380.95 L43.28 379.35 L44.45 377.7 L45.61 376 L46.78 374.24 L47.95 372.42 L49.11 370.55 L50.28 368.62 L51.44 366.64 L52.61 364.59 L53.77 362.49 L54.94 360.32 L56.11 358.1 L57.27 355.81 L58.44 353.47 L59.6 351.07 L60.77 348.6 L61.94 346.08 L63.1 343.5 L64.27 340.86 L65.43 338.17 L66.6 335.42 L67.76 332.63 L68.93 329.79 L70.1 326.9 L71.26 323.98 L72.43 321.02 L73.59 318.03 L74.76 315.02 L75.92 311.99 L77.09 308.94 L78.26 305.89 L79.42 302.85 L80.59 299.82 L81.75 296.81 L82.92 293.83 L84.08 290.9 L85.25 288.01 L86.42 285.19 L87.58 282.45 L88.75 279.8 L89.91 277.24 L91.08 274.8 L92.24 272.48 L93.41 270.3 L94.58 268.27 L95.74 266.39 L96.91 264.69 L98.07 263.17 L99.24 261.84 L100.4 260.7 L101.57 259.78 L102.74 259.06 L103.9 258.56 L105.07 258.28 L106.23 258.22 L107.4 258.38 L108.57 258.76 L109.73 259.36 L110.9 260.17 L112.06 261.19 L113.23 262.42 L114.39 263.83 L115.56 265.44 L116.73 267.22 L117.89 269.17 L119.06 271.27 L120.22 273.51 L121.39 275.89 L122.55 278.38 L123.72 280.99 L124.89 283.68 L126.05 286.46 L127.22 289.31 L128.38 292.22 L129.55 295.17 L130.71 298.17 L131.88 301.19 L133.05 304.23 L134.21 307.27 L135.38 310.32 L136.54 313.36 L137.71 316.38 L138.87 319.39 L140.04 322.36 L141.21 325.31 L142.37 328.21 L143.54 331.08 L144.7 333.9 L145.87 336.67 L147.03 339.39 L148.2 342.06 L149.37 344.67 L150.53 347.23 L151.7 349.72 L152.86 352.16 L154.03 354.54 L155.2 356.86 L156.36 359.11 L157.53 361.31 L158.69 363.45 L159.86 365.52 L161.02 367.54 L162.19 369.5 L163.36 371.41 L164.52 373.25 L165.69 375.04 L166.85 376.77 L168.02 378.46 L169.18 380.08 L170.35 381.66 L171.52 383.19 L172.68 384.66 L173.85 386.09 L175.01 387.48 L176.18 388.81 L177.34 390.11 L178.51 391.36 L179.68 392.56 L180.84 393.73 L182.01 394.86 L183.17 395.95 L184.34 397 L185.5 398.02 L186.67 399 L187.84 399.95 L189 400.87 L190.17 401.75 L191.33 402.61 L192.5 403.43 L193.66 404.22 L194.83 404.99 L196 405.73 L197.16 406.45 L198.33 407.14 L199.49 407.8 L200.66 408.45 L201.83 409.07 L202.99 409.66 L204.16 410.24 L205.32 410.8 L206.49 411.34 L207.65 411.85 L208.82 412.35 L209.99 412.84 L211.15 413.3 L212.32 413.75 L213.48 414.18 L214.65 414.6 L215.81 415 L216.98 415.39 L218.15 415.76 L219.31 416.13 L220.48 416.47"/><path d="M35.12 419.89 L36.29 419.67 L37.45 419.44 L38.62 419.2 L39.79 418.95 L40.95 418.7 L42.12 418.43 L43.28 418.15 L44.45 417.87 L45.61 417.57 L46.78 417.26 L47.95 416.94 L49.11 416.61 L50.28 416.27 L51.44 415.91 L52.61 415.54 L53.77 415.16 L54.94 414.76 L56.11 414.35 L57.27 413.92 L58.44 413.48 L59.6 413.02 L60.77 412.55 L61.94 412.06 L63.1 411.55 L64.27 411.02 L65.43 410.47 L66.6 409.9 L67.76 409.31 L68.93 408.7 L70.1 408.06 L71.26 407.41 L72.43 406.73 L73.59 406.02 L74.76 405.29 L75.92 404.53 L77.09 403.75 L78.26 402.94 L79.42 402.1 L80.59 401.22 L81.75 400.32 L82.92 399.39 L84.08 398.42 L85.25 397.41 L86.42 396.38 L87.58 395.3 L88.75 394.19 L89.91 393.04 L91.08 391.84 L92.24 390.61 L93.41 389.34 L94.58 388.02 L95.74 386.65 L96.91 385.24 L98.07 383.78 L99.24 382.28 L100.4 380.72 L101.57 379.11 L102.74 377.45 L103.9 375.74 L105.07 373.97 L106.23 372.15 L107.4 370.27 L108.57 368.33 L109.73 366.34 L110.9 364.28 L112.06 362.17 L113.23 360 L114.39 357.77 L115.56 355.47 L116.73 353.12 L117.89 350.7 L119.06 348.23 L120.22 345.7 L121.39 343.11 L122.55 340.47 L123.72 337.77 L124.89 335.01 L126.05 332.21 L127.22 329.37 L128.38 326.47 L129.55 323.55 L130.71 320.58 L131.88 317.59 L133.05 314.57 L134.21 311.54 L135.38 308.49 L136.54 305.44 L137.71 302.4 L138.87 299.37 L140.04 296.37 L141.21 293.39 L142.37 290.47 L143.54 287.59 L144.7 284.78 L145.87 282.05 L147.03 279.41 L148.2 276.87 L149.37 274.45 L150.53 272.15 L151.7 269.99 L152.86 267.98 L154.03 266.13 L155.2 264.45 L156.36 262.96 L157.53 261.66 L158.69 260.55 L159.86 259.66 L161.02 258.97 L162.19 258.5 L163.36 258.25 L164.52 258.23 L165.69 258.42 L166.85 258.83 L168.02 259.46 L169.18 260.31 L170.35 261.36 L171.52 262.61 L172.68 264.06 L173.85 265.69 L175.01 267.5 L176.18 269.47 L177.34 271.59 L178.51 273.86 L179.68 276.25 L180.84 278.76 L182.01 281.38 L183.17 284.09 L184.34 286.88 L185.5 289.74 L186.67 292.65 L187.84 295.61 L189 298.61 L190.17 301.64 L191.33 304.68 L192.5 307.72 L193.66 310.77 L194.83 313.81 L196 316.83 L197.16 319.83 L198.33 322.8 L199.49 325.74 L200.66 328.64 L201.83 331.5 L202.99 334.31 L204.16 337.08 L205.32 339.79 L206.49 342.45 L207.65 345.05 L208.82 347.6 L209.99 350.09 L211.15 352.52 L212.32 354.88 L213.48 357.19 L214.65 359.44 L215.81 361.63 L216.98 363.76 L218.15 365.83 L219.31 367.84 L220.48 369.79"/><path d="M35.12 424.92 L36.29 424.88 L37.45 424.84 L38.62 424.81 L39.79 424.77 L40.95 424.72 L42.12 424.68 L43.28 424.63 L44.45 424.59 L45.61 424.54 L46.78 424.49 L47.95 424.44 L49.11 424.38 L50.28 424.33 L51.44 424.27 L52.61 424.21 L53.77 424.14 L54.94 424.08 L56.11 424.01 L57.27 423.94 L58.44 423.87 L59.6 423.79 L60.77 423.72 L61.94 423.64 L63.1 423.55 L64.27 423.47 L65.43 423.38 L66.6 423.28 L67.76 423.18 L68.93 423.08 L70.1 422.98 L71.26 422.87 L72.43 422.76 L73.59 422.64 L74.76 422.52 L75.92 422.4 L77.09 422.27 L78.26 422.13 L79.42 421.99 L80.59 421.85 L81.75 421.7 L82.92 421.54 L84.08 421.38 L85.25 421.22 L86.42 421.04 L87.58 420.86 L88.75 420.68 L89.91 420.48 L91.08 420.28 L92.24 420.08 L93.41 419.86 L94.58 419.64 L95.74 419.4 L96.91 419.16 L98.07 418.92 L99.24 418.66 L100.4 418.39 L101.57 418.11 L102.74 417.82 L103.9 417.52 L105.07 417.21 L106.23 416.89 L107.4 416.56 L108.57 416.22 L109.73 415.86 L110.9 415.49 L112.06 415.1 L113.23 414.7 L114.39 414.29 L115.56 413.86 L116.73 413.42 L117.89 412.95 L119.06 412.48 L120.22 411.98 L121.39 411.47 L122.55 410.94 L123.72 410.38 L124.89 409.81 L126.05 409.22 L127.22 408.61 L128.38 407.97 L129.55 407.31 L130.71 406.62 L131.88 405.92 L133.05 405.18 L134.21 404.42 L135.38 403.63 L136.54 402.82 L137.71 401.97 L138.87 401.09 L140.04 400.19 L141.21 399.25 L142.37 398.27 L143.54 397.26 L144.7 396.22 L145.87 395.14 L147.03 394.02 L148.2 392.86 L149.37 391.66 L150.53 390.43 L151.7 389.14 L152.86 387.82 L154.03 386.45 L155.2 385.03 L156.36 383.56 L157.53 382.05 L158.69 380.49 L159.86 378.87 L161.02 377.2 L162.19 375.48 L163.36 373.71 L164.52 371.88 L165.69 369.99 L166.85 368.04 L168.02 366.04 L169.18 363.98 L170.35 361.85 L171.52 359.67 L172.68 357.43 L173.85 355.13 L175.01 352.76 L176.18 350.34 L177.34 347.86 L178.51 345.32 L179.68 342.72 L180.84 340.07 L182.01 337.36 L183.17 334.6 L184.34 331.79 L185.5 328.94 L186.67 326.04 L187.84 323.11 L189 320.14 L190.17 317.14 L191.33 314.12 L192.5 311.09 L193.66 308.04 L194.83 304.99 L196 301.95 L197.16 298.93 L198.33 295.93 L199.49 292.96 L200.66 290.04 L201.83 287.17 L202.99 284.37 L204.16 281.66 L205.32 279.03 L206.49 276.51 L207.65 274.1 L208.82 271.82 L209.99 269.68 L211.15 267.7 L212.32 265.87 L213.48 264.22 L214.65 262.76 L215.81 261.48 L216.98 260.41 L218.15 259.54 L219.31 258.89 L220.48 258.45"/></g><g fill="none" stroke="url(#gd)" stroke-width="1.5" stroke-dasharray="11 9.5" stroke-dashoffset="6.4" stroke-linejoin="round" clip-path="url(#cpd)"><path d="M18.65 258.21 L19.39 258.25 L20.13 258.39 L20.87 258.61 L21.61 258.92 L22.35 259.32 L23.09 259.8 L23.83 260.37 L24.56 261.02 L25.3 261.76 L26.04 262.57 L26.78 263.46 L27.52 264.43 L28.26 265.47 L29 266.58 L29.74 267.76 L30.48 269.01 L31.22 270.31 L31.96 271.68 L32.7 273.11 L33.44 274.58 L34.18 276.11 L34.91 277.69 L35.65 279.31 L36.39 280.97 L37.13 282.67 L37.87 284.4 L38.61 286.17 L39.35 287.96 L40.09 289.79 L40.83 291.63 L41.57 293.49 L42.31 295.38 L43.05 297.27 L43.79 299.18 L44.53 301.1 L45.26 303.02 L46 304.95 L46.74 306.89 L47.48 308.82 L48.22 310.75 L48.96 312.68 L49.7 314.6 L50.44 316.52 L51.18 318.42 L51.92 320.32 L52.66 322.2 L53.4 324.08 L54.14 325.93 L54.88 327.78 L55.61 329.6 L56.35 331.41 L57.09 333.2 L57.83 334.97 L58.57 336.73 L59.31 338.46 L60.05 340.17 L60.79 341.85 L61.53 343.52 L62.27 345.16 L63.01 346.78 L63.75 348.38 L64.49 349.95 L65.23 351.5 L65.96 353.03 L66.7 354.53 L67.44 356 L68.18 357.46 L68.92 358.89 L69.66 360.29 L70.4 361.67 L71.14 363.03 L71.88 364.36 L72.62 365.67 L73.36 366.95 L74.1 368.21 L74.84 369.45 L75.58 370.66 L76.31 371.85 L77.05 373.02 L77.79 374.17 L78.53 375.29 L79.27 376.39 L80.01 377.47 L80.75 378.53 L81.49 379.57 L82.23 380.58 L82.97 381.58 L83.71 382.55 L84.45 383.51 L85.19 384.45 L85.93 385.36 L86.66 386.26 L87.4 387.14 L88.14 388 L88.88 388.84 L89.62 389.67 L90.36 390.47 L91.1 391.26 L91.84 392.04 L92.58 392.79 L93.32 393.53 L94.06 394.26 L94.8 394.97 L95.54 395.66 L96.28 396.34 L97.02 397 L97.75 397.65 L98.49 398.28 L99.23 398.91 L99.97 399.51 L100.71 400.11 L101.45 400.69 L102.19 401.26 L102.93 401.81 L103.67 402.36 L104.41 402.89 L105.15 403.41 L105.89 403.92 L106.63 404.41 L107.37 404.9 L108.1 405.37 L108.84 405.84 L109.58 406.29 L110.32 406.74 L111.06 407.17 L111.8 407.59 L112.54 408.01 L113.28 408.41 L114.02 408.81 L114.76 409.2 L115.5 409.58 L116.24 409.95 L116.98 410.31 L117.72 410.66 L118.45 411.01 L119.19 411.35 L119.93 411.68 L120.67 412 L121.41 412.32 L122.15 412.63 L122.89 412.93 L123.63 413.22 L124.37 413.51 L125.11 413.79 L125.85 414.07 L126.59 414.34 L127.33 414.6 L128.07 414.86 L128.8 415.11 L129.54 415.35 L130.28 415.59 L131.02 415.83 L131.76 416.06 L132.5 416.28 L133.24 416.5 L133.98 416.71 L134.72 416.92 L135.46 417.13 L136.2 417.33 L136.94 417.52 L137.68 417.71 L138.42 417.9 L139.15 418.08 L139.89 418.26 L140.63 418.43 L141.37 418.6 L142.11 418.77 L142.85 418.93 L143.59 419.09 L144.33 419.25 L145.07 419.4 L145.81 419.54 L146.55 419.69 L147.29 419.83 L148.03 419.97 L148.77 420.1 L149.5 420.24 L150.24 420.37 L150.98 420.49 L151.72 420.61 L152.46 420.73 L153.2 420.85 L153.94 420.97 L154.68 421.08 L155.42 421.19 L156.16 421.3 L156.9 421.4 L157.64 421.5 L158.38 421.6 L159.12 421.7 L159.85 421.8 L160.59 421.89 L161.33 421.98 L162.07 422.07 L162.81 422.16 L163.55 422.24 L164.29 422.33 L165.03 422.41 L165.77 422.49 L166.51 422.57 L167.25 422.64 L167.99 422.72 L168.73 422.79 L169.47 422.86 L170.21 422.93 L170.94 423 L171.68 423.06 L172.42 423.13 L173.16 423.19 L173.9 423.25 L174.64 423.31 L175.38 423.37 L176.12 423.43 L176.86 423.49 L177.6 423.54 L178.34 423.59 L179.08 423.65 L179.82 423.7 L180.56 423.75 L181.29 423.8 L182.03 423.85 L182.77 423.89 L183.51 423.94 L184.25 423.98 L184.99 424.03 L185.73 424.07 L186.47 424.11 L187.21 424.15 L187.95 424.19 L188.69 424.23 L189.43 424.27 L190.17 424.31 L190.91 424.34 L191.64 424.38 L192.38 424.41 L193.12 424.45 L193.86 424.48 L194.6 424.51 L195.34 424.54 L196.08 424.57 L196.82 424.6 L197.56 424.63 L198.3 424.66 L199.04 424.69 L199.78 424.72 L200.52 424.75 L201.26 424.77 L201.99 424.8 L202.73 424.82 L203.47 424.85 L204.21 424.87 L204.95 424.89 L205.69 424.92 L206.43 424.94 L207.17 424.96 L207.91 424.98 L208.65 425 L209.39 425.02 L210.13 425.04 L210.87 425.06 L211.61 425.08 L212.34 425.1 L213.08 425.12 L213.82 425.14 L214.56 425.16 L215.3 425.17 L216.04 425.19 L216.78 425.2 L217.52 425.22 L218.26 425.24 L219 425.25 L219.74 425.27 L220.48 425.28"/><path d="M18.65 258.21 L19.4 258.26 L20.15 258.39 L20.9 258.62 L21.65 258.94 L22.39 259.35 L23.14 259.84 L23.89 260.43 L24.64 261.09 L25.39 261.85 L26.14 262.68 L26.89 263.59 L27.64 264.58 L28.38 265.65 L29.13 266.79 L29.88 268 L30.63 269.27 L31.38 270.61 L32.13 272.01 L32.88 273.46 L33.63 274.97 L34.37 276.53 L35.12 278.14"/><path d="M76.91 258.21 L77.65 258.25 L78.39 258.39 L79.13 258.61 L79.87 258.92 L80.61 259.32 L81.35 259.8 L82.09 260.37 L82.83 261.03 L83.57 261.76 L84.31 262.58 L85.05 263.47 L85.79 264.44 L86.53 265.48 L87.27 266.6 L88.01 267.78 L88.75 269.03 L89.49 270.34 L90.23 271.71 L90.97 273.13 L91.71 274.61 L92.45 276.14 L93.19 277.72 L93.93 279.35 L94.67 281.01 L95.41 282.71 L96.15 284.45 L96.89 286.22 L97.63 288.01 L98.37 289.84 L99.11 291.68 L99.85 293.55 L100.59 295.44 L101.33 297.33 L102.07 299.24 L102.81 301.16 L103.55 303.09 L104.29 305.02 L105.03 306.96 L105.77 308.89 L106.51 310.83 L107.25 312.76 L107.99 314.68 L108.73 316.6 L109.47 318.51 L110.21 320.4 L110.95 322.29 L111.69 324.16 L112.43 326.02 L113.17 327.87 L113.91 329.69 L114.65 331.5 L115.39 333.29 L116.13 335.07 L116.87 336.82 L117.61 338.55 L118.35 340.26 L119.09 341.95 L119.83 343.61 L120.57 345.26 L121.31 346.88 L122.05 348.47 L122.79 350.05 L123.53 351.6 L124.27 353.12 L125.01 354.62 L125.75 356.1 L126.49 357.55 L127.23 358.98 L127.97 360.38 L128.71 361.76 L129.45 363.12 L130.19 364.45 L130.93 365.76 L131.67 367.04 L132.41 368.3 L133.15 369.54 L133.89 370.75 L134.63 371.94 L135.37 373.11 L136.11 374.26 L136.85 375.38 L137.59 376.48 L138.33 377.56 L139.07 378.62 L139.81 379.65 L140.55 380.67 L141.29 381.66 L142.03 382.64 L142.77 383.59 L143.51 384.53 L144.25 385.44 L144.99 386.34 L145.73 387.22 L146.47 388.08 L147.21 388.92 L147.95 389.74 L148.69 390.55 L149.43 391.34 L150.17 392.11 L150.91 392.87 L151.65 393.6 L152.39 394.33 L153.13 395.04 L153.87 395.73 L154.61 396.41 L155.35 397.07 L156.09 397.72 L156.83 398.35 L157.58 398.97 L158.32 399.58 L159.06 400.17 L159.8 400.75 L160.54 401.32 L161.28 401.87 L162.02 402.42 L162.76 402.95 L163.5 403.47 L164.24 403.97 L164.98 404.47 L165.72 404.96 L166.46 405.43 L167.2 405.89 L167.94 406.35 L168.68 406.79 L169.42 407.22 L170.16 407.65 L170.9 408.06 L171.64 408.47 L172.38 408.86 L173.12 409.25 L173.86 409.63 L174.6 410 L175.34 410.36 L176.08 410.71 L176.82 411.05 L177.56 411.39 L178.3 411.72 L179.04 412.04 L179.78 412.36 L180.52 412.67 L181.26 412.97 L182 413.26 L182.74 413.55 L183.48 413.83 L184.22 414.11 L184.96 414.37 L185.7 414.64 L186.44 414.89 L187.18 415.14 L187.92 415.39 L188.66 415.63 L189.4 415.86 L190.14 416.09 L190.88 416.31 L191.62 416.53 L192.36 416.75 L193.1 416.95 L193.84 417.16 L194.58 417.36 L195.32 417.55 L196.06 417.74 L196.8 417.93 L197.54 418.11 L198.28 418.29 L199.02 418.46 L199.76 418.63 L200.5 418.8 L201.24 418.96 L201.98 419.12 L202.72 419.27 L203.46 419.42 L204.2 419.57 L204.94 419.71 L205.68 419.85 L206.42 419.99 L207.16 420.13 L207.9 420.26 L208.64 420.39 L209.38 420.51 L210.12 420.64 L210.86 420.76 L211.6 420.87 L212.34 420.99 L213.08 421.1 L213.82 421.21 L214.56 421.32 L215.3 421.42 L216.04 421.52 L216.78 421.62 L217.52 421.72 L218.26 421.82 L219 421.91 L219.74 422 L220.48 422.09"/><path d="M76.91 258.21 L76.17 258.26 L75.42 258.39 L74.67 258.62 L73.93 258.93 L73.18 259.34 L72.44 259.83 L71.69 260.41 L70.94 261.07 L70.2 261.82 L69.45 262.65 L68.7 263.56 L67.96 264.54 L67.21 265.6 L66.47 266.73 L65.72 267.93 L64.97 269.2 L64.23 270.53 L63.48 271.92 L62.73 273.37 L61.99 274.87 L61.24 276.42 L60.5 278.02 L59.75 279.66 L59 281.35 L58.26 283.07 L57.51 284.83 L56.76 286.62 L56.02 288.44 L55.27 290.29 L54.53 292.15 L53.78 294.04 L53.03 295.94 L52.29 297.86 L51.54 299.79 L50.79 301.73 L50.05 303.68 L49.3 305.62 L48.56 307.58 L47.81 309.53 L47.06 311.47 L46.32 313.42 L45.57 315.36 L44.82 317.29 L44.08 319.21 L43.33 321.12 L42.59 323.02 L41.84 324.9 L41.09 326.77 L40.35 328.62 L39.6 330.46 L38.85 332.27 L38.11 334.07 L37.36 335.85 L36.62 337.61 L35.87 339.34 L35.12 341.06"/><path d="M135.18 258.21 L135.92 258.25 L136.66 258.39 L137.4 258.61 L138.14 258.93 L138.88 259.33 L139.63 259.81 L140.37 260.38 L141.11 261.04 L141.85 261.78 L142.59 262.6 L143.33 263.5 L144.08 264.47 L144.82 265.52 L145.56 266.64 L146.3 267.82 L147.04 269.08 L147.78 270.39 L148.53 271.77 L149.27 273.2 L150.01 274.68 L150.75 276.22 L151.49 277.81 L152.24 279.43 L152.98 281.1 L153.72 282.81 L154.46 284.56 L155.2 286.33 L155.94 288.13 L156.69 289.96 L157.43 291.82 L158.17 293.69 L158.91 295.58 L159.65 297.48 L160.39 299.4 L161.14 301.32 L161.88 303.25 L162.62 305.19 L163.36 307.13 L164.1 309.07 L164.85 311.01 L165.59 312.94 L166.33 314.87 L167.07 316.79 L167.81 318.7 L168.55 320.6 L169.3 322.49 L170.04 324.37 L170.78 326.23 L171.52 328.08 L172.26 329.91 L173 331.72 L173.75 333.51 L174.49 335.28 L175.23 337.04 L175.97 338.77 L176.71 340.48 L177.46 342.17 L178.2 343.84 L178.94 345.48 L179.68 347.1 L180.42 348.7 L181.16 350.27 L181.91 351.82 L182.65 353.35 L183.39 354.85 L184.13 356.33 L184.87 357.78 L185.61 359.21 L186.36 360.61 L187.1 361.99 L187.84 363.34 L188.58 364.67 L189.32 365.98 L190.06 367.26 L190.81 368.52 L191.55 369.76 L192.29 370.97 L193.03 372.16 L193.77 373.32 L194.52 374.47 L195.26 375.59 L196 376.69 L196.74 377.77 L197.48 378.82 L198.22 379.86 L198.97 380.87 L199.71 381.86 L200.45 382.84 L201.19 383.79 L201.93 384.72 L202.67 385.64 L203.42 386.53 L204.16 387.41 L204.9 388.26 L205.64 389.1 L206.38 389.93 L207.13 390.73 L207.87 391.52 L208.61 392.29 L209.35 393.04 L210.09 393.78 L210.83 394.5 L211.58 395.2 L212.32 395.9 L213.06 396.57 L213.8 397.23 L214.54 397.88 L215.28 398.51 L216.03 399.13 L216.77 399.73 L217.51 400.32 L218.25 400.9 L218.99 401.47 L219.74 402.02 L220.48 402.56"/><path d="M135.18 258.21 L134.43 258.25 L133.69 258.39 L132.95 258.61 L132.21 258.92 L131.47 259.32 L130.73 259.81 L129.99 260.38 L129.25 261.04 L128.5 261.77 L127.76 262.59 L127.02 263.49 L126.28 264.46 L125.54 265.51 L124.8 266.62 L124.06 267.81 L123.32 269.06 L122.58 270.37 L121.83 271.74 L121.09 273.17 L120.35 274.66 L119.61 276.19 L118.87 277.78 L118.13 279.4 L117.39 281.07 L116.65 282.78 L115.91 284.52 L115.16 286.29 L114.42 288.09 L113.68 289.92 L112.94 291.77 L112.2 293.64 L111.46 295.53 L110.72 297.43 L109.98 299.34 L109.24 301.26 L108.49 303.19 L107.75 305.13 L107.01 307.07 L106.27 309 L105.53 310.94 L104.79 312.87 L104.05 314.8 L103.31 316.72 L102.57 318.63 L101.82 320.53 L101.08 322.42 L100.34 324.29 L99.6 326.15 L98.86 328 L98.12 329.83 L97.38 331.64 L96.64 333.43 L95.9 335.21 L95.15 336.96 L94.41 338.69 L93.67 340.4 L92.93 342.09 L92.19 343.76 L91.45 345.4 L90.71 347.02 L89.97 348.62 L89.23 350.19 L88.48 351.74 L87.74 353.27 L87 354.77 L86.26 356.24 L85.52 357.7 L84.78 359.12 L84.04 360.53 L83.3 361.91 L82.56 363.26 L81.81 364.59 L81.07 365.9 L80.33 367.18 L79.59 368.44 L78.85 369.68 L78.11 370.89 L77.37 372.08 L76.63 373.25 L75.88 374.39 L75.14 375.51 L74.4 376.61 L73.66 377.69 L72.92 378.75 L72.18 379.78 L71.44 380.8 L70.7 381.79 L69.96 382.76 L69.21 383.72 L68.47 384.65 L67.73 385.57 L66.99 386.46 L66.25 387.34 L65.51 388.2 L64.77 389.04 L64.03 389.86 L63.29 390.66 L62.54 391.45 L61.8 392.22 L61.06 392.98 L60.32 393.71 L59.58 394.44 L58.84 395.14 L58.1 395.83 L57.36 396.51 L56.62 397.17 L55.87 397.82 L55.13 398.45 L54.39 399.07 L53.65 399.68 L52.91 400.27 L52.17 400.85 L51.43 401.41 L50.69 401.97 L49.95 402.51 L49.2 403.04 L48.46 403.56 L47.72 404.06 L46.98 404.56 L46.24 405.04 L45.5 405.51 L44.76 405.98 L44.02 406.43 L43.28 406.87 L42.53 407.3 L41.79 407.72 L41.05 408.14 L40.31 408.54 L39.57 408.94 L38.83 409.32 L38.09 409.7 L37.35 410.07 L36.61 410.43 L35.86 410.78 L35.12 411.12"/><path d="M193.44 258.21 L194.19 258.26 L194.94 258.39 L195.69 258.62 L196.44 258.94 L197.19 259.35 L197.94 259.85 L198.7 260.44 L199.45 261.11 L200.2 261.87 L200.95 262.71 L201.7 263.63 L202.45 264.62 L203.2 265.7 L203.95 266.84 L204.7 268.05 L205.46 269.34 L206.21 270.68 L206.96 272.09 L207.71 273.55 L208.46 275.07 L209.21 276.64 L209.96 278.25 L210.71 279.91 L211.46 281.62 L212.21 283.36 L212.97 285.13 L213.72 286.94 L214.47 288.78 L215.22 290.64 L215.97 292.52 L216.72 294.42 L217.47 296.34 L218.22 298.28 L218.97 300.22 L219.73 302.17 L220.48 304.13"/><path d="M193.44 258.21 L192.7 258.25 L191.96 258.39 L191.22 258.61 L190.48 258.92 L189.74 259.32 L189 259.8 L188.26 260.37 L187.52 261.03 L186.78 261.76 L186.04 262.58 L185.3 263.47 L184.56 264.44 L183.82 265.48 L183.08 266.59 L182.34 267.77 L181.6 269.02 L180.86 270.33 L180.12 271.7 L179.38 273.12 L178.64 274.6 L177.9 276.13 L177.16 277.71 L176.42 279.33 L175.68 281 L174.94 282.7 L174.2 284.43 L173.46 286.2 L172.72 288 L171.98 289.82 L171.24 291.67 L170.5 293.53 L169.76 295.42 L169.02 297.31 L168.28 299.22 L167.54 301.14 L166.81 303.07 L166.07 305 L165.33 306.93 L164.59 308.87 L163.85 310.8 L163.11 312.73 L162.37 314.65 L161.63 316.57 L160.89 318.48 L160.15 320.38 L159.41 322.26 L158.67 324.14 L157.93 325.99 L157.19 327.84 L156.45 329.66 L155.71 331.47 L154.97 333.26 L154.23 335.04 L153.49 336.79 L152.75 338.52 L152.01 340.23 L151.27 341.92 L150.53 343.58 L149.79 345.23 L149.05 346.85 L148.31 348.44 L147.57 350.02 L146.83 351.57 L146.09 353.09 L145.35 354.59 L144.61 356.07 L143.87 357.52 L143.13 358.95 L142.39 360.35 L141.65 361.73 L140.91 363.09 L140.17 364.42 L139.43 365.73 L138.69 367.01 L137.95 368.27 L137.21 369.51 L136.47 370.72 L135.73 371.91 L134.99 373.08 L134.25 374.23 L133.51 375.35 L132.77 376.45 L132.04 377.53 L131.3 378.59 L130.56 379.63 L129.82 380.64 L129.08 381.64 L128.34 382.61 L127.6 383.57 L126.86 384.5 L126.12 385.42 L125.38 386.31 L124.64 387.19 L123.9 388.05 L123.16 388.89 L122.42 389.72 L121.68 390.52 L120.94 391.31 L120.2 392.09 L119.46 392.84 L118.72 393.58 L117.98 394.31 L117.24 395.01 L116.5 395.71 L115.76 396.38 L115.02 397.05 L114.28 397.7 L113.54 398.33 L112.8 398.95 L112.06 399.56 L111.32 400.15 L110.58 400.73 L109.84 401.3 L109.1 401.85 L108.36 402.4 L107.62 402.93 L106.88 403.45 L106.14 403.96 L105.4 404.45 L104.66 404.94 L103.92 405.41 L103.18 405.88 L102.44 406.33 L101.7 406.77 L100.96 407.21 L100.22 407.63 L99.48 408.04 L98.74 408.45 L98 408.84 L97.27 409.23 L96.53 409.61 L95.79 409.98 L95.05 410.34 L94.31 410.69 L93.57 411.04 L92.83 411.38 L92.09 411.71 L91.35 412.03 L90.61 412.35 L89.87 412.65 L89.13 412.95 L88.39 413.25 L87.65 413.54 L86.91 413.82 L86.17 414.09 L85.43 414.36 L84.69 414.62 L83.95 414.88 L83.21 415.13 L82.47 415.38 L81.73 415.62 L80.99 415.85 L80.25 416.08 L79.51 416.3 L78.77 416.52 L78.03 416.74 L77.29 416.94 L76.55 417.15 L75.81 417.35 L75.07 417.54 L74.33 417.73 L73.59 417.92 L72.85 418.1 L72.11 418.28 L71.37 418.45 L70.63 418.62 L69.89 418.79 L69.15 418.95 L68.41 419.11 L67.67 419.26 L66.93 419.41 L66.19 419.56 L65.45 419.71 L64.71 419.85 L63.97 419.99 L63.23 420.12 L62.5 420.25 L61.76 420.38 L61.02 420.51 L60.28 420.63 L59.54 420.75 L58.8 420.87 L58.06 420.98 L57.32 421.09 L56.58 421.2 L55.84 421.31 L55.1 421.41 L54.36 421.52 L53.62 421.62 L52.88 421.71 L52.14 421.81 L51.4 421.9 L50.66 421.99 L49.92 422.08 L49.18 422.17 L48.44 422.26 L47.7 422.34 L46.96 422.42 L46.22 422.5 L45.48 422.58 L44.74 422.65 L44 422.73 L43.26 422.8 L42.52 422.87 L41.78 422.94 L41.04 423.01 L40.3 423.07 L39.56 423.14 L38.82 423.2 L38.08 423.26 L37.34 423.32 L36.6 423.38 L35.86 423.44 L35.12 423.49"/><path d="M251.7 258.21 L250.96 258.26 L250.21 258.39 L249.47 258.61 L248.73 258.93 L247.98 259.33 L247.24 259.82 L246.5 260.39 L245.75 261.05 L245.01 261.8 L244.27 262.62 L243.52 263.52 L242.78 264.5 L242.04 265.55 L241.29 266.67 L240.55 267.86 L239.81 269.12 L239.06 270.44 L238.32 271.82 L237.58 273.26 L236.83 274.75 L236.09 276.29 L235.35 277.88 L234.6 279.52 L233.86 281.19 L233.11 282.91 L232.37 284.66 L231.63 286.44 L230.88 288.25 L230.14 290.08 L229.4 291.94 L228.65 293.82 L227.91 295.71 L227.17 297.62 L226.42 299.54 L225.68 301.47 L224.94 303.41 L224.19 305.35 L223.45 307.29 L222.71 309.24 L221.96 311.18 L221.22 313.12 L220.48 315.05"/><path d="M251.7 258.21 L250.96 258.25 L250.22 258.39 L249.48 258.61 L248.74 258.92 L248 259.32 L247.26 259.8 L246.53 260.37 L245.79 261.02 L245.05 261.76 L244.31 262.57 L243.57 263.46 L242.83 264.43 L242.09 265.47 L241.35 266.58 L240.61 267.76 L239.87 269 L239.13 270.31 L238.39 271.68 L237.66 273.1 L236.92 274.58 L236.18 276.11 L235.44 277.68 L234.7 279.3 L233.96 280.96 L233.22 282.66 L232.48 284.4 L231.74 286.16 L231 287.96 L230.26 289.78 L229.52 291.62 L228.79 293.48 L228.05 295.37 L227.31 297.26 L226.57 299.17 L225.83 301.09 L225.09 303.01 L224.35 304.94 L223.61 306.87 L222.87 308.81 L222.13 310.74 L221.39 312.66 L220.65 314.59 L219.92 316.5 L219.18 318.41 L218.44 320.31 L217.7 322.19 L216.96 324.06 L216.22 325.92 L215.48 327.76 L214.74 329.59 L214 331.4 L213.26 333.19 L212.52 334.96 L211.78 336.71 L211.05 338.44 L210.31 340.15 L209.57 341.84 L208.83 343.5 L208.09 345.15 L207.35 346.77 L206.61 348.36 L205.87 349.94 L205.13 351.49 L204.39 353.01 L203.65 354.51 L202.91 355.99 L202.18 357.44 L201.44 358.87 L200.7 360.27 L199.96 361.65 L199.22 363.01 L198.48 364.34 L197.74 365.65 L197 366.93 L196.26 368.19 L195.52 369.43 L194.78 370.65 L194.04 371.84 L193.31 373.01 L192.57 374.15 L191.83 375.28 L191.09 376.38 L190.35 377.46 L189.61 378.52 L188.87 379.55 L188.13 380.57 L187.39 381.56 L186.65 382.54 L185.91 383.5 L185.17 384.43 L184.44 385.35 L183.7 386.25 L182.96 387.12 L182.22 387.99 L181.48 388.83 L180.74 389.65 L180 390.46 L179.26 391.25 L178.52 392.02 L177.78 392.78 L177.04 393.52 L176.3 394.24 L175.57 394.95 L174.83 395.65 L174.09 396.33 L173.35 396.99 L172.61 397.64 L171.87 398.27 L171.13 398.89 L170.39 399.5 L169.65 400.1 L168.91 400.68 L168.17 401.25 L167.43 401.8 L166.7 402.35 L165.96 402.88 L165.22 403.4 L164.48 403.91 L163.74 404.4 L163 404.89 L162.26 405.36 L161.52 405.83 L160.78 406.28 L160.04 406.73 L159.3 407.16 L158.56 407.59 L157.83 408 L157.09 408.41 L156.35 408.8 L155.61 409.19 L154.87 409.57 L154.13 409.94 L153.39 410.3 L152.65 410.66 L151.91 411 L151.17 411.34 L150.43 411.67 L149.69 411.99 L148.96 412.31 L148.22 412.62 L147.48 412.92 L146.74 413.21 L146 413.5 L145.26 413.78 L144.52 414.06 L143.78 414.33 L143.04 414.59 L142.3 414.85 L141.56 415.1 L140.82 415.35 L140.09 415.59 L139.35 415.82 L138.61 416.05 L137.87 416.27 L137.13 416.49 L136.39 416.71 L135.65 416.92 L134.91 417.12 L134.17 417.32 L133.43 417.52 L132.69 417.71 L131.95 417.89 L131.22 418.08 L130.48 418.25 L129.74 418.43 L129 418.6 L128.26 418.76 L127.52 418.93 L126.78 419.09 L126.04 419.24 L125.3 419.39 L124.56 419.54 L123.82 419.69 L123.08 419.83 L122.35 419.97 L121.61 420.1 L120.87 420.23 L120.13 420.36 L119.39 420.49 L118.65 420.61 L117.91 420.73 L117.17 420.85 L116.43 420.96 L115.69 421.08 L114.95 421.19 L114.21 421.29 L113.48 421.4 L112.74 421.5 L112 421.6 L111.26 421.7 L110.52 421.8 L109.78 421.89 L109.04 421.98 L108.3 422.07 L107.56 422.16 L106.82 422.24 L106.08 422.33 L105.34 422.41 L104.61 422.49 L103.87 422.56 L103.13 422.64 L102.39 422.71 L101.65 422.79 L100.91 422.86 L100.17 422.93 L99.43 422.99 L98.69 423.06 L97.95 423.13 L97.21 423.19 L96.47 423.25 L95.74 423.31 L95 423.37 L94.26 423.43 L93.52 423.48 L92.78 423.54 L92.04 423.59 L91.3 423.65 L90.56 423.7 L89.82 423.75 L89.08 423.8 L88.34 423.84 L87.6 423.89 L86.86 423.94 L86.13 423.98 L85.39 424.03 L84.65 424.07 L83.91 424.11 L83.17 424.15 L82.43 424.19 L81.69 424.23 L80.95 424.27 L80.21 424.3 L79.47 424.34 L78.73 424.38 L77.99 424.41 L77.26 424.45 L76.52 424.48 L75.78 424.51 L75.04 424.54 L74.3 424.57 L73.56 424.6 L72.82 424.63 L72.08 424.66 L71.34 424.69 L70.6 424.72 L69.86 424.74 L69.12 424.77 L68.39 424.8 L67.65 424.82 L66.91 424.85 L66.17 424.87 L65.43 424.89 L64.69 424.92 L63.95 424.94 L63.21 424.96 L62.47 424.98 L61.73 425 L60.99 425.02 L60.25 425.04 L59.52 425.06 L58.78 425.08 L58.04 425.1 L57.3 425.12 L56.56 425.14 L55.82 425.15 L55.08 425.17 L54.34 425.19 L53.6 425.2 L52.86 425.22 L52.12 425.24 L51.38 425.25 L50.65 425.27 L49.91 425.28 L49.17 425.29 L48.43 425.31 L47.69 425.32 L46.95 425.33 L46.21 425.35 L45.47 425.36 L44.73 425.37 L43.99 425.38 L43.25 425.4 L42.51 425.41 L41.78 425.42 L41.04 425.43 L40.3 425.44 L39.56 425.45 L38.82 425.46 L38.08 425.47 L37.34 425.48 L36.6 425.49 L35.86 425.5 L35.12 425.51"/></g><g><path d="M63 166.3 L184.8 191.4 L200.6 103.8 L90.4 102 Z" fill="#fff" stroke="#222" stroke-width="1"/><path d="M65 164.7 L124.4 177.5 L150 99 L91.8 103 Z" fill="url(#sa1)"/><path d="M124.4 177.5 L183.7 189.7 L199.3 104.6 L150 99 Z" fill="url(#sa2)"/><path d="M124.4 177.5 L150 99" stroke="#fff" stroke-width="2.6"/><path d="M85.6 119.8 L98 122.4" fill="none" stroke="#fff" stroke-width="1.8"/><path d="M41.8 60.5 L59.4 168.1 M59.4 168.1 L185.8 196.2 M185.8 196.2 L202 102.6" stroke="#777" stroke-width="0.8" fill="none"/><path d="M42.41 64.2 h3 M48.65 102.4 h3 M54.08 135.6 h3 M58.99 165.6 h3 M42.41 64.2 h1.6 M43.1 68.42 h1.6 M43.79 72.65 h1.6 M44.48 76.88 h1.6 M45.17 81.1 h1.6 M45.86 85.33 h1.6 M46.55 89.55 h1.6 M47.24 93.78 h1.6 M47.93 98 h1.6 M48.62 102.22 h1.6 M49.32 106.45 h1.6 M50.01 110.67 h1.6 M50.7 114.9 h1.6 M51.39 119.12 h1.6 M52.08 123.35 h1.6 M52.77 127.57 h1.6 M53.46 131.8 h1.6 M54.15 136.03 h1.6 M54.84 140.25 h1.6 M55.54 144.47 h1.6 M56.23 148.7 h1.6 M56.92 152.92 h1.6 M57.61 157.15 h1.6 M58.3 161.38 h1.6 M62.5 168.8 l0 -3 M66.52 169.69 l0 -1.6 M70.53 170.59 l0 -1.6 M74.55 171.48 l0 -1.6 M78.57 172.37 l0 -1.6 M82.58 173.27 l0 -3 M86.6 174.16 l0 -1.6 M90.62 175.05 l0 -1.6 M94.63 175.95 l0 -1.6 M98.65 176.84 l0 -1.6 M102.67 177.73 l0 -3 M106.68 178.63 l0 -1.6 M110.7 179.52 l0 -1.6 M114.72 180.41 l0 -1.6 M118.73 181.31 l0 -1.6 M122.75 182.2 l0 -3 M126.77 183.09 l0 -1.6 M130.78 183.99 l0 -1.6 M134.8 184.88 l0 -1.6 M138.82 185.77 l0 -1.6 M142.83 186.67 l0 -3 M146.85 187.56 l0 -1.6 M150.87 188.45 l0 -1.6 M154.88 189.35 l0 -1.6 M158.9 190.24 l0 -1.6 M162.92 191.13 l0 -3 M166.93 192.03 l0 -1.6 M170.95 192.92 l0 -1.6 M174.97 193.81 l0 -1.6 M178.98 194.71 l0 -1.6 M183 195.6 l0 -3 M186.3 193.4 l-3 0 M186.81 190.44 l-1.6 0 M187.32 187.48 l-1.6 0 M187.83 184.52 l-1.6 0 M188.34 181.56 l-1.6 0 M188.85 178.6 l-3 0 M189.36 175.64 l-1.6 0 M189.87 172.68 l-1.6 0 M190.38 169.72 l-1.6 0 M190.89 166.76 l-1.6 0 M191.4 163.8 l-3 0 M191.91 160.84 l-1.6 0 M192.42 157.88 l-1.6 0 M192.93 154.92 l-1.6 0 M193.44 151.96 l-1.6 0 M193.95 149 l-3 0 M194.46 146.04 l-1.6 0 M194.97 143.08 l-1.6 0 M195.48 140.12 l-1.6 0 M195.99 137.16 l-1.6 0 M196.5 134.2 l-3 0 M197.01 131.24 l-1.6 0 M197.52 128.28 l-1.6 0 M198.03 125.32 l-1.6 0 M198.54 122.36 l-1.6 0 M199.05 119.4 l-3 0 M199.56 116.44 l-1.6 0 M200.07 113.48 l-1.6 0 M200.58 110.52 l-1.6 0 M201.09 107.56 l-1.6 0 M201.6 104.6 l-3 0 " stroke="#777" stroke-width="0.7" fill="none"/><text x="37.9" y="66.6" font-size="8.5" text-anchor="middle" font-family="'Liberation Sans', sans-serif" textLength="3.4" lengthAdjust="spacingAndGlyphs">2</text><text x="44.5" y="105" font-size="8.5" text-anchor="middle" font-family="'Liberation Sans', sans-serif" textLength="3.4" lengthAdjust="spacingAndGlyphs">1</text><text x="50" y="140.2" font-size="8.5" text-anchor="middle" font-family="'Liberation Sans', sans-serif" textLength="3.4" lengthAdjust="spacingAndGlyphs">0</text><text x="53" y="169" font-size="8.5" text-anchor="middle" font-family="'Liberation Sans', sans-serif" textLength="7" lengthAdjust="spacingAndGlyphs">&#8722;1</text><text x="80.6" y="184" font-size="8.5" text-anchor="middle" font-family="'Liberation Sans', sans-serif" textLength="7" lengthAdjust="spacingAndGlyphs">&#8722;2</text><text x="118.9" y="191.6" font-size="8.5" text-anchor="middle" font-family="'Liberation Sans', sans-serif" textLength="3.4" lengthAdjust="spacingAndGlyphs">0</text><text x="158" y="199.8" font-size="8.5" text-anchor="middle" font-family="'Liberation Sans', sans-serif" textLength="3.4" lengthAdjust="spacingAndGlyphs">2</text><text x="116.3" y="200.6" font-size="7.6" text-anchor="middle" font-family="'Liberation Sans', sans-serif" textLength="2.6" lengthAdjust="spacingAndGlyphs">t</text><text x="203.9" y="123.7" font-size="8.5" text-anchor="middle" font-family="'Liberation Sans', sans-serif" textLength="3.4" lengthAdjust="spacingAndGlyphs">2</text><text x="199" y="149" font-size="8.5" text-anchor="middle" font-family="'Liberation Sans', sans-serif" textLength="3.4" lengthAdjust="spacingAndGlyphs">0</text><text x="195.4" y="179.4" font-size="8.5" text-anchor="middle" font-family="'Liberation Sans', sans-serif" textLength="7" lengthAdjust="spacingAndGlyphs">&#8722;2</text><text x="208.6" y="151.4" font-size="7.6" text-anchor="middle" font-family="'Liberation Sans', sans-serif" textLength="3.2" lengthAdjust="spacingAndGlyphs">x</text><text x="20.5" y="117.6" font-size="7" font-weight="bold" text-anchor="middle" font-family="'Liberation Sans', sans-serif" textLength="37.5" lengthAdjust="spacingAndGlyphs">Abs[&#923;<tspan font-size="6.4" dy="2">18,</tspan><tspan dy="-2">(x,t)]</tspan></text><path d="M47.3 62.7 L50.9 56.9 L69.1 50.9 L100 40.9 L170 16.4 L204 4.2 L211.3 6.1 L210 18.2 L207 42.5 L205.2 60 L201.5 80 L197.5 105 L193.5 128 L190 147 L188 155.5 L186.6 160.3 L170.3 156.6 L155.7 153.2 L141.1 149.3 L125.5 143.4 L120.4 141.4 L115.4 138.9 L110.3 136.4 L105.3 133.3 L100.2 129.8 L95.2 125.8 L90.1 121.7 L85.1 116.7 L80 110.1 L74.5 100.9 L65.5 86.4 L54.5 71.8 L47.3 62.7 Z" fill="#00ff00"/><g clip-path="url(#sfa)"><path d="M30 34.91 L225 -31.98 L225 10.6 L211 16.52 L209.16 25.3 L208.01 31.78 L207 35.21 L205.99 32.64 L204.84 27.12 L203.4 19.73 L201.8 28.41 L200.61 34.91 L199.58 38.35 L198.54 35.79 L197.35 30.29 L195.86 22.92 L194.22 31.62 L193 38.13 L191.93 41.59 L190.85 39.04 L189.63 33.56 L188.1 26.21 L186.41 34.92 L185.15 41.45 L184.05 44.92 L182.95 42.38 L181.69 36.92 L180.11 29.58 L178.38 38.32 L177.08 44.86 L175.95 48.34 L174.82 45.82 L173.52 40.37 L171.9 33.06 L170.12 41.81 L168.79 48.37 L167.63 51.87 L166.46 49.36 L165.13 43.92 L163.46 36.63 L161.64 45.4 L160.27 51.98 L159.08 55.48 L157.88 52.99 L156.51 47.57 L154.8 40.29 L152.93 49.08 L151.53 55.67 L150.3 59.19 L149.07 56.71 L147.67 51.31 L145.91 44.05 L144 52.86 L142.56 59.47 L141.3 63 L140.04 60.53 L138.6 55.14 L136.8 47.91 L134.84 56.73 L133.37 63.36 L132.08 66.9 L130.78 64.45 L129.31 59.07 L127.46 51.85 L125.46 60.7 L123.95 67.34 L122.63 70.9 L121.3 68.46 L119.79 63.1 L117.9 55.9 L115.85 64.77 L114.3 71.42 L112.95 74.99 L111.6 72.57 L110.05 67.22 L108.11 60.04 L106.02 68.92 L104.44 75.59 L103.05 79.18 L101.66 76.77 L100.08 71.44 L98.1 64.28 L95.96 73.18 L94.34 79.86 L92.93 83.46 L91.51 81.06 L89.89 75.75 L87.86 68.61 L85.68 77.53 L84.02 84.23 L82.58 87.84 L81.13 85.46 L79.47 80.16 L77.4 73.03 L75.17 81.97 L73.48 88.69 L72 92.32 L70.52 89.94 L68.83 84.66 L66.71 77.55 L64.44 86.51 L62.71 93.24 L61.2 96.88 L59.69 94.52 L57.96 89.25 L55.8 82.17 L30 95 Z" fill="#0000ff" filter="url(#bl22)"/><path d="M86 128 L98 120 L99.71 121.2 L101.42 124.5 L103.25 126.75 L104.08 120 L105.79 116.7 L107.5 115.5 L109.75 116.7 L112 120 L114.25 122.75 L115.5 116.5 L117.75 113.2 L120 112 L121.85 113.2 L123.71 116.5 L125.65 119.25 L126.59 113 L128.45 109.7 L130.3 108.5 L132.32 109.7 L134.33 113 L136.4 114.15 L137.47 106.3 L139.48 103 L141.5 101.8 L143.35 103 L145.21 106.3 L147.15 109.4 L148.09 103.5 L149.95 100.2 L151.8 99 L153.49 100.2 L155.18 103.5 L157 105.95 L157.82 99.4 L159.51 96.1 L161.2 94.9 L162.75 96.1 L164.3 99.4 L166 102.55 L166.7 96.7 L168.25 93.4 L169.8 92.2 L171.51 93.4 L173.22 96.7 L175.05 99.3 L175.88 92.9 L177.59 89.6 L179.3 88.4 L180.99 89.6 L182.68 92.9 L184.5 95.85 L185.32 89.8 L187.01 86.5 L188.7 85.3 L190.25 86.5 L191.8 89.8 L193.5 92.6 L194.2 86.4 L195.75 83.1 L197.3 81.9 L198.87 83.1 L200.43 86.4 L202.15 89.2 L202.87 83 L204.43 79.7 L206 78.5 L215 76 L215 170 L150 175 L80 135 Z" fill="#ff0000" filter="url(#bl15)"/><path d="M30.45 121.76 C30.71 119.81 31.49 113.76 32.01 110.07 C32.52 106.38 33.04 102.89 33.56 99.61 C34.08 96.32 34.6 93.25 35.12 90.38 C35.63 87.5 36.15 84.84 36.67 82.38 C37.19 79.91 37.71 77.66 38.23 75.61 C38.74 73.56 39.26 71.71 39.78 70.07 C40.3 68.43 40.82 66.99 41.34 65.76 C41.85 64.53 42.37 63.5 42.89 62.68 C43.41 61.86 43.93 61.25 44.45 60.84 C44.96 60.43 45.48 60.22 46 60.22 C46.52 60.22 47.04 60.43 47.55 60.84 C48.07 61.25 48.59 61.86 49.11 62.68 C49.63 63.5 50.15 64.53 50.66 65.76 C51.18 66.99 51.7 68.43 52.22 70.07 C52.74 71.71 53.26 73.56 53.77 75.61 C54.29 77.66 54.81 79.91 55.33 82.38 C55.85 84.84 56.37 87.5 56.88 90.38 C57.4 93.25 57.92 96.32 58.44 99.61 C58.96 102.89 59.48 106.38 59.99 110.07 C60.51 113.76 61.29 119.81 61.55 121.76 M41.9 117.93 C42.15 115.98 42.92 109.93 43.42 106.24 C43.93 102.55 44.44 99.06 44.95 95.78 C45.46 92.5 45.97 89.42 46.48 86.55 C46.98 83.68 47.49 81.01 48 78.55 C48.51 76.09 49.02 73.83 49.53 71.78 C50.04 69.73 50.55 67.88 51.05 66.24 C51.56 64.6 52.07 63.16 52.58 61.93 C53.09 60.7 53.6 59.68 54.11 58.86 C54.61 58.04 55.12 57.42 55.63 57.01 C56.14 56.6 56.65 56.39 57.16 56.39 C57.67 56.39 58.17 56.6 58.68 57.01 C59.19 57.42 59.7 58.04 60.21 58.86 C60.72 59.68 61.23 60.7 61.74 61.93 C62.24 63.16 62.75 64.6 63.26 66.24 C63.77 67.88 64.28 69.73 64.79 71.78 C65.3 73.83 65.8 76.09 66.31 78.55 C66.82 81.01 67.33 83.68 67.84 86.55 C68.35 89.42 68.86 92.5 69.37 95.78 C69.87 99.06 70.38 102.55 70.89 106.24 C71.4 109.93 72.16 115.98 72.42 117.93 M53.1 114.19 C53.35 112.24 54.1 106.19 54.6 102.5 C55.1 98.8 55.6 95.32 56.1 92.03 C56.6 88.75 57.1 85.67 57.6 82.8 C58.09 79.93 58.59 77.26 59.09 74.8 C59.59 72.34 60.09 70.08 60.59 68.03 C61.09 65.98 61.59 64.14 62.09 62.5 C62.59 60.85 63.09 59.42 63.59 58.19 C64.09 56.96 64.58 55.93 65.08 55.11 C65.58 54.29 66.08 53.67 66.58 53.26 C67.08 52.85 67.58 52.65 68.08 52.65 C68.58 52.65 69.08 52.85 69.58 53.26 C70.08 53.67 70.58 54.29 71.07 55.11 C71.57 55.93 72.07 56.96 72.57 58.19 C73.07 59.42 73.57 60.85 74.07 62.5 C74.57 64.14 75.07 65.98 75.57 68.03 C76.07 70.08 76.57 72.34 77.07 74.8 C77.56 77.26 78.06 79.93 78.56 82.8 C79.06 85.67 79.56 88.75 80.06 92.03 C80.56 95.32 81.06 98.8 81.56 102.5 C82.06 106.19 82.81 112.24 83.06 114.19 M64.07 110.52 C64.31 108.57 65.05 102.52 65.54 98.83 C66.03 95.14 66.52 91.65 67.01 88.37 C67.5 85.08 67.99 82.01 68.48 79.14 C68.97 76.26 69.46 73.6 69.95 71.14 C70.44 68.67 70.93 66.42 71.42 64.37 C71.91 62.32 72.4 60.47 72.89 58.83 C73.38 57.19 73.87 55.75 74.36 54.52 C74.85 53.29 75.34 52.26 75.83 51.44 C76.32 50.62 76.81 50.01 77.3 49.6 C77.79 49.19 78.28 48.98 78.77 48.98 C79.26 48.98 79.75 49.19 80.24 49.6 C80.73 50.01 81.22 50.62 81.71 51.44 C82.2 52.26 82.69 53.29 83.18 54.52 C83.67 55.75 84.16 57.19 84.65 58.83 C85.14 60.47 85.63 62.32 86.12 64.37 C86.61 66.42 87.1 68.67 87.59 71.14 C88.08 73.6 88.57 76.26 89.06 79.14 C89.55 82.01 90.04 85.08 90.53 88.37 C91.02 91.65 91.51 95.14 92 98.83 C92.49 102.52 93.22 108.57 93.47 110.52 M74.8 106.93 C75.04 104.98 75.77 98.93 76.25 95.24 C76.73 91.55 77.21 88.06 77.69 84.78 C78.17 81.5 78.65 78.42 79.13 75.55 C79.61 72.68 80.09 70.01 80.58 67.55 C81.06 65.09 81.54 62.83 82.02 60.78 C82.5 58.73 82.98 56.88 83.46 55.24 C83.94 53.6 84.42 52.16 84.9 50.93 C85.39 49.7 85.87 48.68 86.35 47.85 C86.83 47.03 87.31 46.42 87.79 46.01 C88.27 45.6 88.75 45.39 89.23 45.39 C89.71 45.39 90.19 45.6 90.68 46.01 C91.16 46.42 91.64 47.03 92.12 47.85 C92.6 48.68 93.08 49.7 93.56 50.93 C94.04 52.16 94.52 53.6 95 55.24 C95.49 56.88 95.97 58.73 96.45 60.78 C96.93 62.83 97.41 65.09 97.89 67.55 C98.37 70.01 98.85 72.68 99.33 75.55 C99.81 78.42 100.3 81.5 100.78 84.78 C101.26 88.06 101.74 91.55 102.22 95.24 C102.7 98.93 103.42 104.98 103.66 106.93 M85.31 103.42 C85.55 101.47 86.26 95.42 86.73 91.73 C87.2 88.03 87.67 84.55 88.14 81.26 C88.62 77.98 89.09 74.91 89.56 72.03 C90.03 69.16 90.5 66.5 90.98 64.03 C91.45 61.57 91.92 59.32 92.39 57.26 C92.86 55.21 93.34 53.37 93.81 51.73 C94.28 50.09 94.75 48.65 95.23 47.42 C95.7 46.19 96.17 45.16 96.64 44.34 C97.11 43.52 97.59 42.91 98.06 42.5 C98.53 42.09 99 41.88 99.47 41.88 C99.95 41.88 100.42 42.09 100.89 42.5 C101.36 42.91 101.84 43.52 102.31 44.34 C102.78 45.16 103.25 46.19 103.72 47.42 C104.2 48.65 104.67 50.09 105.14 51.73 C105.61 53.37 106.08 55.21 106.56 57.26 C107.03 59.32 107.5 61.57 107.97 64.03 C108.45 66.5 108.92 69.16 109.39 72.03 C109.86 74.91 110.33 77.98 110.81 81.26 C111.28 84.55 111.75 88.03 112.22 91.73 C112.69 95.42 113.4 101.47 113.64 103.42 M95.6 99.98 C95.83 98.03 96.52 91.98 96.99 88.29 C97.45 84.6 97.91 81.11 98.38 77.83 C98.84 74.54 99.3 71.47 99.77 68.6 C100.23 65.72 100.69 63.06 101.16 60.6 C101.62 58.13 102.08 55.88 102.55 53.83 C103.01 51.77 103.47 49.93 103.94 48.29 C104.4 46.65 104.87 45.21 105.33 43.98 C105.79 42.75 106.26 41.72 106.72 40.9 C107.18 40.08 107.65 39.47 108.11 39.06 C108.57 38.65 109.04 38.44 109.5 38.44 C109.96 38.44 110.43 38.65 110.89 39.06 C111.35 39.47 111.82 40.08 112.28 40.9 C112.74 41.72 113.21 42.75 113.67 43.98 C114.14 45.21 114.6 46.65 115.06 48.29 C115.53 49.93 115.99 51.77 116.45 53.83 C116.92 55.88 117.38 58.13 117.84 60.6 C118.31 63.06 118.77 65.72 119.23 68.6 C119.7 71.47 120.16 74.54 120.62 77.83 C121.09 81.11 121.55 84.6 122.01 88.29 C122.48 91.98 123.17 98.03 123.4 99.98 M105.66 96.61 C105.89 94.67 106.57 88.61 107.03 84.92 C107.48 81.23 107.94 77.74 108.39 74.46 C108.85 71.18 109.3 68.1 109.76 65.23 C110.21 62.36 110.67 59.69 111.12 57.23 C111.58 54.77 112.03 52.51 112.49 50.46 C112.94 48.41 113.4 46.56 113.85 44.92 C114.31 43.28 114.76 41.84 115.22 40.61 C115.67 39.38 116.13 38.36 116.58 37.54 C117.04 36.72 117.49 36.1 117.95 35.69 C118.4 35.28 118.86 35.08 119.31 35.08 C119.77 35.08 120.22 35.28 120.68 35.69 C121.13 36.1 121.59 36.72 122.04 37.54 C122.5 38.36 122.95 39.38 123.41 40.61 C123.86 41.84 124.32 43.28 124.77 44.92 C125.23 46.56 125.68 48.41 126.14 50.46 C126.59 52.51 127.05 54.77 127.5 57.23 C127.96 59.69 128.41 62.36 128.87 65.23 C129.32 68.1 129.78 71.18 130.23 74.46 C130.69 77.74 131.14 81.23 131.6 84.92 C132.05 88.61 132.74 94.67 132.96 96.61 M115.52 93.32 C115.74 91.37 116.41 85.32 116.86 81.63 C117.3 77.93 117.75 74.45 118.2 71.17 C118.64 67.88 119.09 64.81 119.54 61.93 C119.98 59.06 120.43 56.4 120.88 53.93 C121.32 51.47 121.77 49.22 122.22 47.17 C122.66 45.11 123.11 43.27 123.56 41.63 C124 39.99 124.45 38.55 124.9 37.32 C125.34 36.09 125.79 35.06 126.24 34.24 C126.68 33.42 127.13 32.81 127.58 32.4 C128.02 31.99 128.47 31.78 128.92 31.78 C129.36 31.78 129.81 31.99 130.26 32.4 C130.71 32.81 131.15 33.42 131.6 34.24 C132.05 35.06 132.49 36.09 132.94 37.32 C133.39 38.55 133.83 39.99 134.28 41.63 C134.73 43.27 135.17 45.11 135.62 47.17 C136.07 49.22 136.51 51.47 136.96 53.93 C137.41 56.4 137.85 59.06 138.3 61.93 C138.75 64.81 139.19 67.88 139.64 71.17 C140.09 74.45 140.53 77.93 140.98 81.63 C141.43 85.32 142.1 91.37 142.32 93.32 M125.16 90.09 C125.38 88.15 126.04 82.09 126.48 78.4 C126.92 74.71 127.35 71.22 127.79 67.94 C128.23 64.66 128.67 61.58 129.11 58.71 C129.55 55.84 129.99 53.17 130.42 50.71 C130.86 48.25 131.3 45.99 131.74 43.94 C132.18 41.89 132.62 40.04 133.06 38.4 C133.5 36.76 133.93 35.33 134.37 34.09 C134.81 32.86 135.25 31.84 135.69 31.02 C136.13 30.2 136.57 29.58 137 29.17 C137.44 28.76 137.88 28.56 138.32 28.56 C138.76 28.56 139.2 28.76 139.64 29.17 C140.07 29.58 140.51 30.2 140.95 31.02 C141.39 31.84 141.83 32.86 142.27 34.09 C142.71 35.33 143.14 36.76 143.58 38.4 C144.02 40.04 144.46 41.89 144.9 43.94 C145.34 45.99 145.78 48.25 146.22 50.71 C146.65 53.17 147.09 55.84 147.53 58.71 C147.97 61.58 148.41 64.66 148.85 67.94 C149.29 71.22 149.72 74.71 150.16 78.4 C150.6 82.09 151.26 88.15 151.48 90.09 M134.6 86.94 C134.82 84.99 135.46 78.94 135.89 75.25 C136.32 71.55 136.76 68.07 137.19 64.78 C137.62 61.5 138.05 58.43 138.48 55.55 C138.91 52.68 139.34 50.02 139.77 47.55 C140.2 45.09 140.63 42.84 141.06 40.78 C141.49 38.73 141.92 36.89 142.35 35.25 C142.79 33.6 143.22 32.17 143.65 30.94 C144.08 29.71 144.51 28.68 144.94 27.86 C145.37 27.04 145.8 26.43 146.23 26.02 C146.66 25.6 147.09 25.4 147.52 25.4 C147.95 25.4 148.38 25.6 148.81 26.02 C149.25 26.43 149.68 27.04 150.11 27.86 C150.54 28.68 150.97 29.71 151.4 30.94 C151.83 32.17 152.26 33.6 152.69 35.25 C153.12 36.89 153.55 38.73 153.98 40.78 C154.41 42.84 154.84 45.09 155.27 47.55 C155.71 50.02 156.14 52.68 156.57 55.55 C157 58.43 157.43 61.5 157.86 64.78 C158.29 68.07 158.72 71.55 159.15 75.25 C159.58 78.94 160.23 84.99 160.44 86.94 M143.84 83.85 C144.05 81.9 144.69 75.85 145.11 72.16 C145.53 68.46 145.96 64.98 146.38 61.69 C146.8 58.41 147.23 55.34 147.65 52.46 C148.07 49.59 148.49 46.93 148.92 44.46 C149.34 42 149.76 39.75 150.19 37.69 C150.61 35.64 151.03 33.8 151.46 32.16 C151.88 30.52 152.3 29.08 152.72 27.85 C153.15 26.62 153.57 25.59 153.99 24.77 C154.42 23.95 154.84 23.34 155.26 22.93 C155.68 22.52 156.11 22.31 156.53 22.31 C156.95 22.31 157.38 22.52 157.8 22.93 C158.22 23.34 158.64 23.95 159.07 24.77 C159.49 25.59 159.91 26.62 160.34 27.85 C160.76 29.08 161.18 30.52 161.61 32.16 C162.03 33.8 162.45 35.64 162.87 37.69 C163.3 39.75 163.72 42 164.14 44.46 C164.57 46.93 164.99 49.59 165.41 52.46 C165.83 55.34 166.26 58.41 166.68 61.69 C167.1 64.98 167.53 68.46 167.95 72.16 C168.37 75.85 169.01 81.9 169.22 83.85 M152.89 80.82 C153.1 78.88 153.72 72.82 154.13 69.13 C154.55 65.44 154.96 61.95 155.38 58.67 C155.8 55.39 156.21 52.31 156.63 49.44 C157.04 46.57 157.46 43.9 157.87 41.44 C158.29 38.98 158.7 36.72 159.12 34.67 C159.53 32.62 159.95 30.77 160.36 29.13 C160.78 27.49 161.19 26.06 161.61 24.82 C162.02 23.59 162.44 22.57 162.86 21.75 C163.27 20.93 163.69 20.31 164.1 19.9 C164.52 19.49 164.93 19.29 165.35 19.29 C165.76 19.29 166.18 19.49 166.59 19.9 C167.01 20.31 167.42 20.93 167.84 21.75 C168.25 22.57 168.67 23.59 169.09 24.82 C169.5 26.06 169.92 27.49 170.33 29.13 C170.75 30.77 171.16 32.62 171.58 34.67 C171.99 36.72 172.41 38.98 172.82 41.44 C173.24 43.9 173.65 46.57 174.07 49.44 C174.48 52.31 174.9 55.39 175.31 58.67 C175.73 61.95 176.15 65.44 176.56 69.13 C176.98 72.82 177.6 78.88 177.81 80.82 M161.74 77.86 C161.95 75.92 162.56 69.86 162.97 66.17 C163.37 62.48 163.78 58.99 164.19 55.71 C164.6 52.43 165 49.35 165.41 46.48 C165.82 43.61 166.23 40.94 166.64 38.48 C167.04 36.02 167.45 33.76 167.86 31.71 C168.27 29.66 168.68 27.81 169.08 26.17 C169.49 24.53 169.9 23.09 170.31 21.86 C170.71 20.63 171.12 19.61 171.53 18.79 C171.94 17.97 172.35 17.35 172.75 16.94 C173.16 16.53 173.57 16.33 173.98 16.33 C174.39 16.33 174.79 16.53 175.2 16.94 C175.61 17.35 176.02 17.97 176.42 18.79 C176.83 19.61 177.24 20.63 177.65 21.86 C178.06 23.09 178.46 24.53 178.87 26.17 C179.28 27.81 179.69 29.66 180.1 31.71 C180.5 33.76 180.91 36.02 181.32 38.48 C181.73 40.94 182.13 43.61 182.54 46.48 C182.95 49.35 183.36 52.43 183.77 55.71 C184.17 58.99 184.58 62.48 184.99 66.17 C185.4 69.86 186.01 75.92 186.21 77.86 M170.41 74.97 C170.61 73.02 171.21 66.97 171.61 63.27 C172.01 59.58 172.41 56.09 172.81 52.81 C173.21 49.53 173.61 46.45 174.01 43.58 C174.41 40.71 174.81 38.04 175.21 35.58 C175.62 33.12 176.02 30.86 176.42 28.81 C176.82 26.76 177.22 24.92 177.62 23.27 C178.02 21.63 178.42 20.2 178.82 18.97 C179.22 17.74 179.62 16.71 180.02 15.89 C180.42 15.07 180.82 14.45 181.22 14.04 C181.62 13.63 182.02 13.43 182.43 13.43 C182.83 13.43 183.23 13.63 183.63 14.04 C184.03 14.45 184.43 15.07 184.83 15.89 C185.23 16.71 185.63 17.74 186.03 18.97 C186.43 20.2 186.83 21.63 187.23 23.27 C187.63 24.92 188.03 26.76 188.43 28.81 C188.83 30.86 189.23 33.12 189.64 35.58 C190.04 38.04 190.44 40.71 190.84 43.58 C191.24 46.45 191.64 49.53 192.04 52.81 C192.44 56.09 192.84 59.58 193.24 63.27 C193.64 66.97 194.24 73.02 194.44 74.97 M178.89 72.13 C179.09 70.18 179.68 64.13 180.07 60.44 C180.46 56.75 180.86 53.26 181.25 49.98 C181.64 46.69 182.04 43.62 182.43 40.75 C182.83 37.87 183.22 35.21 183.61 32.75 C184.01 30.28 184.4 28.03 184.79 25.98 C185.19 23.93 185.58 22.08 185.97 20.44 C186.37 18.8 186.76 17.36 187.15 16.13 C187.55 14.9 187.94 13.87 188.33 13.05 C188.73 12.23 189.12 11.62 189.51 11.21 C189.91 10.8 190.3 10.59 190.69 10.59 C191.09 10.59 191.48 10.8 191.87 11.21 C192.27 11.62 192.66 12.23 193.05 13.05 C193.45 13.87 193.84 14.9 194.23 16.13 C194.63 17.36 195.02 18.8 195.42 20.44 C195.81 22.08 196.2 23.93 196.6 25.98 C196.99 28.03 197.38 30.28 197.78 32.75 C198.17 35.21 198.56 37.87 198.96 40.75 C199.35 43.62 199.74 46.69 200.14 49.98 C200.53 53.26 200.92 56.75 201.32 60.44 C201.71 64.13 202.3 70.18 202.5 72.13 M187.19 69.35 C187.39 67.41 187.97 61.35 188.35 57.66 C188.74 53.97 189.13 50.48 189.51 47.2 C189.9 43.92 190.29 40.84 190.67 37.97 C191.06 35.1 191.44 32.43 191.83 29.97 C192.22 27.51 192.6 25.25 192.99 23.2 C193.38 21.15 193.76 19.3 194.15 17.66 C194.54 16.02 194.92 14.59 195.31 13.35 C195.7 12.12 196.08 11.1 196.47 10.28 C196.86 9.46 197.24 8.84 197.63 8.43 C198.01 8.02 198.4 7.82 198.79 7.82 C199.17 7.82 199.56 8.02 199.95 8.43 C200.33 8.84 200.72 9.46 201.11 10.28 C201.49 11.1 201.88 12.12 202.27 13.35 C202.65 14.59 203.04 16.02 203.42 17.66 C203.81 19.3 204.2 21.15 204.58 23.2 C204.97 25.25 205.36 27.51 205.74 29.97 C206.13 32.43 206.52 35.1 206.9 37.97 C207.29 40.84 207.68 43.92 208.06 47.2 C208.45 50.48 208.84 53.97 209.22 57.66 C209.61 61.35 210.19 67.41 210.38 69.35 M195.32 66.64 C195.51 64.69 196.08 58.64 196.46 54.94 C196.84 51.25 197.22 47.77 197.6 44.48 C197.98 41.2 198.36 38.12 198.74 35.25 C199.12 32.38 199.5 29.71 199.88 27.25 C200.26 24.79 200.64 22.53 201.02 20.48 C201.39 18.43 201.77 16.59 202.15 14.94 C202.53 13.3 202.91 11.87 203.29 10.64 C203.67 9.41 204.05 8.38 204.43 7.56 C204.81 6.74 205.19 6.12 205.57 5.71 C205.95 5.3 206.33 5.1 206.71 5.1 C207.09 5.1 207.47 5.3 207.85 5.71 C208.23 6.12 208.61 6.74 208.99 7.56 C209.37 8.38 209.75 9.41 210.13 10.64 C210.51 11.87 210.89 13.3 211.27 14.94 C211.64 16.59 212.02 18.43 212.4 20.48 C212.78 22.53 213.16 24.79 213.54 27.25 C213.92 29.71 214.3 32.38 214.68 35.25 C215.06 38.12 215.44 41.2 215.82 44.48 C216.2 47.77 216.58 51.25 216.96 54.94 C217.34 58.64 217.91 64.69 218.1 66.64 M203.28 63.98 C203.46 62.03 204.02 55.98 204.39 52.29 C204.77 48.59 205.14 45.11 205.51 41.82 C205.89 38.54 206.26 35.46 206.63 32.59 C207.01 29.72 207.38 27.05 207.75 24.59 C208.12 22.13 208.5 19.87 208.87 17.82 C209.24 15.77 209.62 13.93 209.99 12.29 C210.36 10.64 210.73 9.21 211.11 7.98 C211.48 6.75 211.85 5.72 212.23 4.9 C212.6 4.08 212.97 3.46 213.35 3.05 C213.72 2.64 214.09 2.44 214.46 2.44 C214.84 2.44 215.21 2.64 215.58 3.05 C215.96 3.46 216.33 4.08 216.7 4.9 C217.07 5.72 217.45 6.75 217.82 7.98 C218.19 9.21 218.57 10.64 218.94 12.29 C219.31 13.93 219.68 15.77 220.06 17.82 C220.43 19.87 220.8 22.13 221.18 24.59 C221.55 27.05 221.92 29.72 222.3 32.59 C222.67 35.46 223.04 38.54 223.41 41.82 C223.79 45.11 224.16 48.59 224.53 52.29 C224.91 55.98 225.47 62.03 225.65 63.98 " fill="none" stroke="#00ff00" stroke-width="0.6"/><path d="M80.9 102.8 C81.75 103.9 84.32 107.47 86 109.4 C87.68 111.33 89.32 112.88 91 114.4 C92.68 115.92 94.42 117.15 96.1 118.5 C97.78 119.85 99.42 121.25 101.1 122.5 C102.78 123.75 104.52 124.9 106.2 126 C107.88 127.1 109.52 128.17 111.2 129.1 C112.88 130.03 114.62 130.77 116.3 131.6 C117.98 132.43 119.62 133.35 121.3 134.1 C122.98 134.85 122.95 134.78 126.4 136.1 C129.85 137.42 136.97 140.37 142 142 C147.03 143.63 151.73 144.68 156.6 145.9 C161.47 147.12 166.05 148.12 171.2 149.3 C176.35 150.48 182.55 151.93 187.5 153 C192.45 154.07 198.67 155.25 200.9 155.7 M81.8 95.5 C82.65 96.6 85.22 100.17 86.9 102.1 C88.58 104.03 90.22 105.58 91.9 107.1 C93.58 108.62 95.32 109.85 97 111.2 C98.68 112.55 100.32 113.95 102 115.2 C103.68 116.45 105.42 117.6 107.1 118.7 C108.78 119.8 110.42 120.87 112.1 121.8 C113.78 122.73 115.52 123.47 117.2 124.3 C118.88 125.13 120.52 126.05 122.2 126.8 C123.88 127.55 123.85 127.48 127.3 128.8 C130.75 130.12 137.87 133.07 142.9 134.7 C147.93 136.33 152.63 137.38 157.5 138.6 C162.37 139.82 166.95 140.82 172.1 142 C177.25 143.18 183.45 144.63 188.4 145.7 C193.35 146.77 199.57 147.95 201.8 148.4 M82.7 88.2 C83.55 89.3 86.12 92.87 87.8 94.8 C89.48 96.73 91.12 98.28 92.8 99.8 C94.48 101.32 96.22 102.55 97.9 103.9 C99.58 105.25 101.22 106.65 102.9 107.9 C104.58 109.15 106.32 110.3 108 111.4 C109.68 112.5 111.32 113.57 113 114.5 C114.68 115.43 116.42 116.17 118.1 117 C119.78 117.83 121.42 118.75 123.1 119.5 C124.78 120.25 124.75 120.18 128.2 121.5 C131.65 122.82 138.77 125.77 143.8 127.4 C148.83 129.03 153.53 130.08 158.4 131.3 C163.27 132.52 167.85 133.52 173 134.7 C178.15 135.88 184.35 137.33 189.3 138.4 C194.25 139.47 200.47 140.65 202.7 141.1 M83.6 80.9 C84.45 82 87.02 85.57 88.7 87.5 C90.38 89.43 92.02 90.98 93.7 92.5 C95.38 94.02 97.12 95.25 98.8 96.6 C100.48 97.95 102.12 99.35 103.8 100.6 C105.48 101.85 107.22 103 108.9 104.1 C110.58 105.2 112.22 106.27 113.9 107.2 C115.58 108.13 117.32 108.87 119 109.7 C120.68 110.53 122.32 111.45 124 112.2 C125.68 112.95 125.65 112.88 129.1 114.2 C132.55 115.52 139.67 118.47 144.7 120.1 C149.73 121.73 154.43 122.78 159.3 124 C164.17 125.22 168.75 126.22 173.9 127.4 C179.05 128.58 185.25 130.03 190.2 131.1 C195.15 132.17 201.37 133.35 203.6 133.8 M84.5 73.6 C85.35 74.7 87.92 78.27 89.6 80.2 C91.28 82.13 92.92 83.68 94.6 85.2 C96.28 86.72 98.02 87.95 99.7 89.3 C101.38 90.65 103.02 92.05 104.7 93.3 C106.38 94.55 108.12 95.7 109.8 96.8 C111.48 97.9 113.12 98.97 114.8 99.9 C116.48 100.83 118.22 101.57 119.9 102.4 C121.58 103.23 123.22 104.15 124.9 104.9 C126.58 105.65 126.55 105.58 130 106.9 C133.45 108.22 140.57 111.17 145.6 112.8 C150.63 114.43 155.33 115.48 160.2 116.7 C165.07 117.92 169.65 118.92 174.8 120.1 C179.95 121.28 186.15 122.73 191.1 123.8 C196.05 124.87 202.27 126.05 204.5 126.5 M85.4 66.3 C86.25 67.4 88.82 70.97 90.5 72.9 C92.18 74.83 93.82 76.38 95.5 77.9 C97.18 79.42 98.92 80.65 100.6 82 C102.28 83.35 103.92 84.75 105.6 86 C107.28 87.25 109.02 88.4 110.7 89.5 C112.38 90.6 114.02 91.67 115.7 92.6 C117.38 93.53 119.12 94.27 120.8 95.1 C122.48 95.93 124.12 96.85 125.8 97.6 C127.48 98.35 127.45 98.28 130.9 99.6 C134.35 100.92 141.47 103.87 146.5 105.5 C151.53 107.13 156.23 108.18 161.1 109.4 C165.97 110.62 170.55 111.62 175.7 112.8 C180.85 113.98 187.05 115.43 192 116.5 C196.95 117.57 203.17 118.75 205.4 119.2 M86.3 59 C87.15 60.1 89.72 63.67 91.4 65.6 C93.08 67.53 94.72 69.08 96.4 70.6 C98.08 72.12 99.82 73.35 101.5 74.7 C103.18 76.05 104.82 77.45 106.5 78.7 C108.18 79.95 109.92 81.1 111.6 82.2 C113.28 83.3 114.92 84.37 116.6 85.3 C118.28 86.23 120.02 86.97 121.7 87.8 C123.38 88.63 125.02 89.55 126.7 90.3 C128.38 91.05 128.35 90.98 131.8 92.3 C135.25 93.62 142.37 96.57 147.4 98.2 C152.43 99.83 157.13 100.88 162 102.1 C166.87 103.32 171.45 104.32 176.6 105.5 C181.75 106.68 187.95 108.13 192.9 109.2 C197.85 110.27 204.07 111.45 206.3 111.9 M87.2 51.7 C88.05 52.8 90.62 56.37 92.3 58.3 C93.98 60.23 95.62 61.78 97.3 63.3 C98.98 64.82 100.72 66.05 102.4 67.4 C104.08 68.75 105.72 70.15 107.4 71.4 C109.08 72.65 110.82 73.8 112.5 74.9 C114.18 76 115.82 77.07 117.5 78 C119.18 78.93 120.92 79.67 122.6 80.5 C124.28 81.33 125.92 82.25 127.6 83 C129.28 83.75 129.25 83.68 132.7 85 C136.15 86.32 143.27 89.27 148.3 90.9 C153.33 92.53 158.03 93.58 162.9 94.8 C167.77 96.02 172.35 97.02 177.5 98.2 C182.65 99.38 188.85 100.83 193.8 101.9 C198.75 102.97 204.97 104.15 207.2 104.6 M88.1 44.4 C88.95 45.5 91.52 49.07 93.2 51 C94.88 52.93 96.52 54.48 98.2 56 C99.88 57.52 101.62 58.75 103.3 60.1 C104.98 61.45 106.62 62.85 108.3 64.1 C109.98 65.35 111.72 66.5 113.4 67.6 C115.08 68.7 116.72 69.77 118.4 70.7 C120.08 71.63 121.82 72.37 123.5 73.2 C125.18 74.03 126.82 74.95 128.5 75.7 C130.18 76.45 130.15 76.38 133.6 77.7 C137.05 79.02 144.17 81.97 149.2 83.6 C154.23 85.23 158.93 86.28 163.8 87.5 C168.67 88.72 173.25 89.72 178.4 90.9 C183.55 92.08 189.75 93.53 194.7 94.6 C199.65 95.67 205.87 96.85 208.1 97.3 M89 37.1 C89.85 38.2 92.42 41.77 94.1 43.7 C95.78 45.63 97.42 47.18 99.1 48.7 C100.78 50.22 102.52 51.45 104.2 52.8 C105.88 54.15 107.52 55.55 109.2 56.8 C110.88 58.05 112.62 59.2 114.3 60.3 C115.98 61.4 117.62 62.47 119.3 63.4 C120.98 64.33 122.72 65.07 124.4 65.9 C126.08 66.73 127.72 67.65 129.4 68.4 C131.08 69.15 131.05 69.08 134.5 70.4 C137.95 71.72 145.07 74.67 150.1 76.3 C155.13 77.93 159.83 78.98 164.7 80.2 C169.57 81.42 174.15 82.42 179.3 83.6 C184.45 84.78 190.65 86.23 195.6 87.3 C200.55 88.37 206.77 89.55 209 90 M89.9 29.8 C90.75 30.9 93.32 34.47 95 36.4 C96.68 38.33 98.32 39.88 100 41.4 C101.68 42.92 103.42 44.15 105.1 45.5 C106.78 46.85 108.42 48.25 110.1 49.5 C111.78 50.75 113.52 51.9 115.2 53 C116.88 54.1 118.52 55.17 120.2 56.1 C121.88 57.03 123.62 57.77 125.3 58.6 C126.98 59.43 128.62 60.35 130.3 61.1 C131.98 61.85 131.95 61.78 135.4 63.1 C138.85 64.42 145.97 67.37 151 69 C156.03 70.63 160.73 71.68 165.6 72.9 C170.47 74.12 175.05 75.12 180.2 76.3 C185.35 77.48 191.55 78.93 196.5 80 C201.45 81.07 207.67 82.25 209.9 82.7 M95.2 125.8 C99.52 118.3 112.87 96.63 121.1 80.8 C129.33 64.97 140.68 39.13 144.6 30.8 M103.96 132.38 C108.2 124.88 121.31 103.22 129.36 87.38 C137.42 71.55 148.48 45.72 152.31 37.38 M113.41 137.93 C117.56 130.43 130.43 108.76 138.31 92.93 C146.19 77.09 156.97 51.26 160.7 42.93 M123.35 142.55 C127.41 135.05 140.04 113.39 147.75 97.55 C155.45 81.72 165.94 55.89 169.58 47.55 M133.59 146.46 C137.58 138.96 149.96 117.29 157.49 101.46 C165.02 85.63 175.23 59.79 178.77 51.46 M143.94 150.06 C147.84 142.56 159.99 120.89 167.34 105.06 C174.7 89.23 184.61 63.39 188.07 55.06 M154.54 152.89 C158.36 145.39 170.26 123.72 177.44 107.89 C184.62 92.06 194.25 66.22 197.61 57.89 M165.21 155.42 C168.95 147.92 180.61 126.25 187.61 110.42 C194.62 94.58 203.96 68.75 207.23 60.42 M175.9 157.87 C179.55 150.37 190.98 128.71 197.8 112.87 C204.63 97.04 213.68 71.21 216.86 62.87 M186.6 160.3 C190.17 152.8 201.35 131.13 208 115.3 C214.65 99.47 223.42 73.63 226.5 65.3 " fill="none" stroke="#00ff00" stroke-width="0.6" clip-path="url(#rza)"/></g><path d="M211.3 6.1 L210 18.2 L207 42.5 L205.2 60 L201.5 80 L197.5 105 L193.5 128 L190 147 L188 155.5 L186.6 160.3 L170.3 156.6 L155.7 153.2 L141.1 149.3 L125.5 143.4 L120.4 141.4 L115.4 138.9 L110.3 136.4 L105.3 133.3 L100.2 129.8 L95.2 125.8 L90.1 121.7 L85.1 116.7 L80 110.1 L74.5 100.9 L65.5 86.4 L54.5 71.8 L47.3 62.7 L50.9 56.9" fill="none" stroke="#22ee22" stroke-width="1.4" stroke-linejoin="round"/></g><g><path d="M311 166.4 L446.6 183.4 L456.7 103.3 L337 110 Z" fill="#ff0000"/><g clip-path="url(#flb)"><ellipse cx="349" cy="148.4" rx="16" ry="5" transform="rotate(7.5 349 148.4)" fill="url(#blobg)"/><ellipse cx="336.5" cy="155.6" rx="16.5" ry="5.1" transform="rotate(7.5 336.5 155.6)" fill="url(#blobg)"/><ellipse cx="322.5" cy="163.6" rx="13.5" ry="4.8" transform="rotate(7.5 322.5 163.6)" fill="url(#blobg)"/><ellipse cx="401" cy="164.3" rx="19" ry="5.3" transform="rotate(7.5 401 164.3)" fill="url(#blobg)"/><ellipse cx="389" cy="172.2" rx="14" ry="4.8" transform="rotate(7.5 389 172.2)" fill="url(#blobg)"/></g><path d="M381.9 158.8 L378.3 175.4" stroke="#fff" stroke-width="2.6"/><path d="M311 166.4 L446.6 183.4 L456.7 103.3 L337 110 Z" fill="none" stroke="#222" stroke-width="1"/><path d="M312.2 164.8 L445.8 181.6 L455.5 104" fill="none" stroke="#fff" stroke-width="1.1"/><path d="M291 57 L307.6 169.8 M309.5 169.9 L447.8 188.9 M447.8 188.9 L458.2 103.3" stroke="#777" stroke-width="0.8" fill="none"/><path d="M291.5 60.4 h3 M298.28 106.5 h3 M304.3 147.4 h3 M292.86 69.62 h1.6 M294.21 78.84 h1.6 M295.57 88.06 h1.6 M296.93 97.28 h1.6 M299.49 114.68 h1.6 M300.69 122.86 h1.6 M301.9 131.04 h1.6 M303.1 139.22 h1.6 M312.27 170.28 l0 -3 M316.69 170.89 l0 -1.6 M321.12 171.5 l0 -1.6 M325.54 172.1 l0 -1.6 M329.97 172.71 l0 -1.6 M334.39 173.32 l0 -3 M338.82 173.93 l0 -1.6 M343.25 174.54 l0 -1.6 M347.67 175.14 l0 -1.6 M352.1 175.75 l0 -1.6 M356.52 176.36 l0 -3 M360.95 176.97 l0 -1.6 M365.37 177.58 l0 -1.6 M369.8 178.18 l0 -1.6 M374.22 178.79 l0 -1.6 M378.65 179.4 l0 -3 M383.08 180.01 l0 -1.6 M387.5 180.62 l0 -1.6 M391.93 181.22 l0 -1.6 M396.35 181.83 l0 -1.6 M400.78 182.44 l0 -3 M405.2 183.05 l0 -1.6 M409.63 183.66 l0 -1.6 M414.05 184.26 l0 -1.6 M418.48 184.87 l0 -1.6 M422.91 185.48 l0 -3 M427.33 186.09 l0 -1.6 M431.76 186.7 l0 -1.6 M436.18 187.3 l0 -1.6 M440.61 187.91 l0 -1.6 M445.03 188.52 l0 -3 M448.11 186.33 l-3 0 M448.44 183.65 l-1.6 0 M448.76 180.97 l-1.6 0 M449.09 178.29 l-1.6 0 M449.42 175.6 l-1.6 0 M449.74 172.92 l-3 0 M450.07 170.24 l-1.6 0 M450.39 167.56 l-1.6 0 M450.72 164.87 l-1.6 0 M451.04 162.19 l-1.6 0 M451.37 159.51 l-3 0 M451.7 156.83 l-1.6 0 M452.02 154.15 l-1.6 0 M452.35 151.46 l-1.6 0 M452.67 148.78 l-1.6 0 M453 146.1 l-3 0 M453.33 143.42 l-1.6 0 M453.65 140.74 l-1.6 0 M453.98 138.05 l-1.6 0 M454.3 135.37 l-1.6 0 M454.63 132.69 l-3 0 M454.96 130.01 l-1.6 0 M455.28 127.33 l-1.6 0 M455.61 124.64 l-1.6 0 M455.93 121.96 l-1.6 0 M456.26 119.28 l-3 0 M456.58 116.6 l-1.6 0 M456.91 113.91 l-1.6 0 M457.24 111.23 l-1.6 0 M457.56 108.55 l-1.6 0 M457.89 105.87 l-3 0 " stroke="#777" stroke-width="0.7" fill="none"/><text x="286.7" y="66.2" font-size="8.5" text-anchor="middle" font-family="'Liberation Sans', sans-serif" textLength="3.4" lengthAdjust="spacingAndGlyphs">4</text><text x="292.4" y="112.3" font-size="8.5" text-anchor="middle" font-family="'Liberation Sans', sans-serif" textLength="3.4" lengthAdjust="spacingAndGlyphs">2</text><text x="300.3" y="153.2" font-size="8.5" text-anchor="middle" font-family="'Liberation Sans', sans-serif" textLength="3.4" lengthAdjust="spacingAndGlyphs">0</text><text x="332.4" y="183.2" font-size="8.5" text-anchor="middle" font-family="'Liberation Sans', sans-serif" textLength="7" lengthAdjust="spacingAndGlyphs">&#8722;2</text><text x="374" y="188.7" font-size="8.5" text-anchor="middle" font-family="'Liberation Sans', sans-serif" textLength="3.4" lengthAdjust="spacingAndGlyphs">0</text><text x="417.8" y="195.2" font-size="8.5" text-anchor="middle" font-family="'Liberation Sans', sans-serif" textLength="3.4" lengthAdjust="spacingAndGlyphs">2</text><text x="372.1" y="198.4" font-size="7.6" text-anchor="middle" font-family="'Liberation Sans', sans-serif" textLength="2.6" lengthAdjust="spacingAndGlyphs">t</text><text x="459.6" y="120.8" font-size="8.5" text-anchor="middle" font-family="'Liberation Sans', sans-serif" textLength="3.4" lengthAdjust="spacingAndGlyphs">2</text><text x="457.3" y="145.9" font-size="8.5" text-anchor="middle" font-family="'Liberation Sans', sans-serif" textLength="3.4" lengthAdjust="spacingAndGlyphs">0</text><text x="454.4" y="174.1" font-size="8.5" text-anchor="middle" font-family="'Liberation Sans', sans-serif" textLength="7" lengthAdjust="spacingAndGlyphs">&#8722;2</text><text x="466.7" y="147" font-size="7.6" text-anchor="middle" font-family="'Liberation Sans', sans-serif" textLength="3.2" lengthAdjust="spacingAndGlyphs">x</text><text x="269.8" y="118.2" font-size="7" font-weight="bold" text-anchor="middle" font-family="'Liberation Sans', sans-serif" textLength="33.6" lengthAdjust="spacingAndGlyphs">Im[&#923;<tspan font-size="6.4" dy="2">18,</tspan><tspan dy="-2">(x,t)]</tspan></text><g clip-path="url(#sfb)"><rect x="290" y="0" width="175" height="175" fill="url(#g3b)"/><g filter="url(#bl08)"><path d="M352 80 L358 77 L361.5 74.5 L363.1 72.7 L367 58 L371.2 44.4 L374.5 35.5 L377.2 30.3 L380 28 L383.3 27.3 L387 28.2 L391 30.8 L394.4 32 L397.5 30 L401 26 L407.5 20.2 L412 17 L417 15 L423.7 14.1 L430 15 L435.8 17.2 L441 20 L444.8 21.2 L449 16.5 L452.1 12.1 L457 5.5 L461.2 3.6 L464 4.8 L467 7 L466 180 L352 180 Z" fill="#ff0054"/><path d="M352 82 L358 79 L361.5 76.5 L363.1 74.7 L367 60 L371.2 46.4 L374.5 37.5 L377.2 32.3 L380 30 L383.3 29.3 L387 30.2 L391 32.8 L394.4 34 L397.5 32 L401 28 L407.5 22.2 L412 19 L417 17 L423.7 16.1 L430 17 L435.8 19.2 L441 22 L444.8 23.2 L449 18.5 L452.1 14.1 L457 7.5 L461.2 5.6 L464 6.8 L467 9 L466 180 L352 180 Z" fill="#ff007c"/><path d="M352 84 L358 81 L361.5 78.5 L363.1 76.7 L367 62 L371.2 48.4 L374.5 39.5 L377.2 34.3 L380 32 L383.3 31.3 L387 32.2 L391 34.8 L394.4 36 L397.5 34 L401 30 L407.5 24.2 L412 21 L417 19 L423.7 18.1 L430 19 L435.8 21.2 L441 24 L444.8 25.2 L449 20.5 L452.1 16.1 L457 9.5 L461.2 7.6 L464 8.8 L467 11 L466 180 L352 180 Z" fill="#ff00a0"/><path d="M352 86 L358 83 L361.5 80.5 L363.1 78.7 L367 64 L371.2 50.4 L374.5 41.5 L377.2 36.3 L380 34 L383.3 33.3 L387 34.2 L391 36.8 L394.4 38 L397.5 36 L401 32 L407.5 26.2 L412 23 L417 21 L423.7 20.1 L430 21 L435.8 23.2 L441 26 L444.8 27.2 L449 22.5 L452.1 18.1 L457 11.5 L461.2 9.6 L464 10.8 L467 13 L466 180 L352 180 Z" fill="#ff00c0"/><path d="M352 88 L358 85 L361.5 82.5 L363.1 80.7 L367 66 L371.2 52.4 L374.5 43.5 L377.2 38.3 L380 36 L383.3 35.3 L387 36.2 L391 38.8 L394.4 40 L397.5 38 L401 34 L407.5 28.2 L412 25 L417 23 L423.7 22.1 L430 23 L435.8 25.2 L441 28 L444.8 29.2 L449 24.5 L452.1 20.1 L457 13.5 L461.2 11.6 L464 12.8 L467 15 L466 180 L352 180 Z" fill="#ff00e0"/><path d="M352 90 L358 87 L361.5 84.5 L363.1 82.7 L367 68 L371.2 54.4 L374.5 45.5 L377.2 40.3 L380 38 L383.3 37.3 L387 38.2 L391 40.8 L394.4 42 L397.5 40 L401 36 L407.5 30.2 L412 27 L417 25 L423.7 24.1 L430 25 L435.8 27.2 L441 30 L444.8 31.2 L449 26.5 L452.1 22.1 L457 15.5 L461.2 13.6 L464 14.8 L467 17 L466 180 L352 180 Z" fill="#f600e9"/><path d="M352 92 L358 89 L361.5 86.5 L363.1 84.7 L367 70 L371.2 56.4 L374.5 47.5 L377.2 42.3 L380 40 L383.3 39.3 L387 40.2 L391 42.8 L394.4 44 L397.5 42 L401 38 L407.5 32.2 L412 29 L417 27 L423.7 26.1 L430 27 L435.8 29.2 L441 32 L444.8 33.2 L449 28.5 L452.1 24.1 L457 17.5 L461.2 15.6 L464 16.8 L467 19 L466 180 L352 180 Z" fill="#ed00f2"/><path d="M352 94 L358 91 L361.5 88.5 L363.1 86.7 L367 72 L371.2 58.4 L374.5 49.5 L377.2 44.3 L380 42 L383.3 41.3 L387 42.2 L391 44.8 L394.4 46 L397.5 44 L401 40 L407.5 34.2 L412 31 L417 29 L423.7 28.1 L430 29 L435.8 31.2 L441 34 L444.8 35.2 L449 30.5 L452.1 26.1 L457 19.5 L461.2 17.6 L464 18.8 L467 21 L466 180 L352 180 Z" fill="#e400fb"/><path d="M352 96 L358 93 L361.5 90.5 L363.1 88.7 L367 74 L371.2 60.4 L374.5 51.5 L377.2 46.3 L380 44 L383.3 43.3 L387 44.2 L391 46.8 L394.4 48 L397.5 46 L401 42 L407.5 36.2 L412 33 L417 31 L423.7 30.1 L430 31 L435.8 33.2 L441 36 L444.8 37.2 L449 32.5 L452.1 28.1 L457 21.5 L461.2 19.6 L464 20.8 L467 23 L466 180 L352 180 Z" fill="#d000ff"/><path d="M352 98 L358 95 L361.5 92.5 L363.1 90.7 L367 76 L371.2 62.4 L374.5 53.5 L377.2 48.3 L380 46 L383.3 45.3 L387 46.2 L391 48.8 L394.4 50 L397.5 48 L401 44 L407.5 38.2 L412 35 L417 33 L423.7 32.1 L430 33 L435.8 35.2 L441 38 L444.8 39.2 L449 34.5 L452.1 30.1 L457 23.5 L461.2 21.6 L464 22.8 L467 25 L466 180 L352 180 Z" fill="#b000ff"/><path d="M352 100 L358 97 L361.5 94.5 L363.1 92.7 L367 78 L371.2 64.4 L374.5 55.5 L377.2 50.3 L380 48 L383.3 47.3 L387 48.2 L391 50.8 L394.4 52 L397.5 50 L401 46 L407.5 40.2 L412 37 L417 35 L423.7 34.1 L430 35 L435.8 37.2 L441 40 L444.8 41.2 L449 36.5 L452.1 32.1 L457 25.5 L461.2 23.6 L464 24.8 L467 27 L466 180 L352 180 Z" fill="#9000ff"/><path d="M352 102 L358 99 L361.5 96.5 L363.1 94.7 L367 80 L371.2 66.4 L374.5 57.5 L377.2 52.3 L380 50 L383.3 49.3 L387 50.2 L391 52.8 L394.4 54 L397.5 52 L401 48 L407.5 42.2 L412 39 L417 37 L423.7 36.1 L430 37 L435.8 39.2 L441 42 L444.8 43.2 L449 38.5 L452.1 34.1 L457 27.5 L461.2 25.6 L464 26.8 L467 29 L466 180 L352 180 Z" fill="#7000ff"/><path d="M352 104 L358 101 L361.5 98.5 L363.1 96.7 L367 82 L371.2 68.4 L374.5 59.5 L377.2 54.3 L380 52 L383.3 51.3 L387 52.2 L391 54.8 L394.4 56 L397.5 54 L401 50 L407.5 44.2 L412 41 L417 39 L423.7 38.1 L430 39 L435.8 41.2 L441 44 L444.8 45.2 L449 40.5 L452.1 36.1 L457 29.5 L461.2 27.6 L464 28.8 L467 31 L466 180 L352 180 Z" fill="#5000ff"/><path d="M352 106 L358 103 L361.5 100.5 L363.1 98.7 L367 84 L371.2 70.4 L374.5 61.5 L377.2 56.3 L380 54 L383.3 53.3 L387 54.2 L391 56.8 L394.4 58 L397.5 56 L401 52 L407.5 46.2 L412 43 L417 41 L423.7 40.1 L430 41 L435.8 43.2 L441 46 L444.8 47.2 L449 42.5 L452.1 38.1 L457 31.5 L461.2 29.6 L464 30.8 L467 33 L466 180 L352 180 Z" fill="#3000ff"/><path d="M352 108 L358 105 L361.5 102.5 L363.1 100.7 L367 86 L371.2 72.4 L374.5 63.5 L377.2 58.3 L380 56 L383.3 55.3 L387 56.2 L391 58.8 L394.4 60 L397.5 58 L401 54 L407.5 48.2 L412 45 L417 43 L423.7 42.1 L430 43 L435.8 45.2 L441 48 L444.8 49.2 L449 44.5 L452.1 40.1 L457 33.5 L461.2 31.6 L464 32.8 L467 35 L466 180 L352 180 Z" fill="#1b07ff"/><path d="M352 110 L358 107 L361.5 104.5 L363.1 102.7 L367 88 L371.2 74.4 L374.5 65.5 L377.2 60.3 L380 58 L383.3 57.3 L387 58.2 L391 60.8 L394.4 62 L397.5 60 L401 56 L407.5 50.2 L412 47 L417 45 L423.7 44.1 L430 45 L435.8 47.2 L441 50 L444.8 51.2 L449 46.5 L452.1 42.1 L457 35.5 L461.2 33.6 L464 34.8 L467 37 L466 180 L352 180 Z" fill="#1215ff"/><path d="M352 112 L358 109 L361.5 106.5 L363.1 104.7 L367 90 L371.2 76.4 L374.5 67.5 L377.2 62.3 L380 60 L383.3 59.3 L387 60.2 L391 62.8 L394.4 64 L397.5 62 L401 58 L407.5 52.2 L412 49 L417 47 L423.7 46.1 L430 47 L435.8 49.2 L441 52 L444.8 53.2 L449 48.5 L452.1 44.1 L457 37.5 L461.2 35.6 L464 36.8 L467 39 L466 180 L352 180 Z" fill="#0922ff"/><path d="M352 114 L358 111 L361.5 108.5 L363.1 106.7 L367 92 L371.2 78.4 L374.5 69.5 L377.2 64.3 L380 62 L383.3 61.3 L387 62.2 L391 64.8 L394.4 66 L397.5 64 L401 60 L407.5 54.2 L412 51 L417 49 L423.7 48.1 L430 49 L435.8 51.2 L441 54 L444.8 55.2 L449 50.5 L452.1 46.1 L457 39.5 L461.2 37.6 L464 38.8 L467 41 L466 180 L352 180 Z" fill="#0030ff"/><path d="M352 116 L358 113 L361.5 110.5 L363.1 108.7 L367 94 L371.2 80.4 L374.5 71.5 L377.2 66.3 L380 64 L383.3 63.3 L387 64.2 L391 66.8 L394.4 68 L397.5 66 L401 62 L407.5 56.2 L412 53 L417 51 L423.7 50.1 L430 51 L435.8 53.2 L441 56 L444.8 57.2 L449 52.5 L452.1 48.1 L457 41.5 L461.2 39.6 L464 40.8 L467 43 L466 180 L352 180 Z" fill="#0056ff"/><path d="M352 118 L358 115 L361.5 112.5 L363.1 110.7 L367 96 L371.2 82.4 L374.5 73.5 L377.2 68.3 L380 66 L383.3 65.3 L387 66.2 L391 68.8 L394.4 70 L397.5 68 L401 64 L407.5 58.2 L412 55 L417 53 L423.7 52.1 L430 53 L435.8 55.2 L441 58 L444.8 59.2 L449 54.5 L452.1 50.1 L457 43.5 L461.2 41.6 L464 42.8 L467 45 L466 180 L352 180 Z" fill="#007dff"/><path d="M352 120 L358 117 L361.5 114.5 L363.1 112.7 L367 98 L371.2 84.4 L374.5 75.5 L377.2 70.3 L380 68 L383.3 67.3 L387 68.2 L391 70.8 L394.4 72 L397.5 70 L401 66 L407.5 60.2 L412 57 L417 55 L423.7 54.1 L430 55 L435.8 57.2 L441 60 L444.8 61.2 L449 56.5 L452.1 52.1 L457 45.5 L461.2 43.6 L464 44.8 L467 47 L466 180 L352 180 Z" fill="#00a0f9"/><path d="M352 122 L358 119 L361.5 116.5 L363.1 114.7 L367 100 L371.2 86.4 L374.5 77.5 L377.2 72.3 L380 70 L383.3 69.3 L387 70.2 L391 72.8 L394.4 74 L397.5 72 L401 68 L407.5 62.2 L412 59 L417 57 L423.7 56.1 L430 57 L435.8 59.2 L441 62 L444.8 63.2 L449 58.5 L452.1 54.1 L457 47.5 L461.2 45.6 L464 46.8 L467 49 L466 180 L352 180 Z" fill="#00c0ec"/><path d="M352 124 L358 121 L361.5 118.5 L363.1 116.7 L367 102 L371.2 88.4 L374.5 79.5 L377.2 74.3 L380 72 L383.3 71.3 L387 72.2 L391 74.8 L394.4 76 L397.5 74 L401 70 L407.5 64.2 L412 61 L417 59 L423.7 58.1 L430 59 L435.8 61.2 L441 64 L444.8 65.2 L449 60.5 L452.1 56.1 L457 49.5 L461.2 47.6 L464 48.8 L467 51 L466 180 L352 180 Z" fill="#00e0e0"/><path d="M352 126 L358 123 L361.5 120.5 L363.1 118.7 L367 104 L371.2 90.4 L374.5 81.5 L377.2 76.3 L380 74 L383.3 73.3 L387 74.2 L391 76.8 L394.4 78 L397.5 76 L401 72 L407.5 66.2 L412 63 L417 61 L423.7 60.1 L430 61 L435.8 63.2 L441 66 L444.8 67.2 L449 62.5 L452.1 58.1 L457 51.5 L461.2 49.6 L464 50.8 L467 53 L466 180 L352 180 Z" fill="#00e5c0"/><path d="M352 128 L358 125 L361.5 122.5 L363.1 120.7 L367 106 L371.2 92.4 L374.5 83.5 L377.2 78.3 L380 76 L383.3 75.3 L387 76.2 L391 78.8 L394.4 80 L397.5 78 L401 74 L407.5 68.2 L412 65 L417 63 L423.7 62.1 L430 63 L435.8 65.2 L441 68 L444.8 69.2 L449 64.5 L452.1 60.1 L457 53.5 L461.2 51.6 L464 52.8 L467 55 L466 180 L352 180 Z" fill="#00e9a0"/><path d="M352 130 L358 127 L361.5 124.5 L363.1 122.7 L367 108 L371.2 94.4 L374.5 85.5 L377.2 80.3 L380 78 L383.3 77.3 L387 78.2 L391 80.8 L394.4 82 L397.5 80 L401 76 L407.5 70.2 L412 67 L417 65 L423.7 64.1 L430 65 L435.8 67.2 L441 70 L444.8 71.2 L449 66.5 L452.1 62.1 L457 55.5 L461.2 53.6 L464 54.8 L467 57 L466 180 L352 180 Z" fill="#00ee80"/><path d="M352 132 L358 129 L361.5 126.5 L363.1 124.7 L367 110 L371.2 96.4 L374.5 87.5 L377.2 82.3 L380 80 L383.3 79.3 L387 80.2 L391 82.8 L394.4 84 L397.5 82 L401 78 L407.5 72.2 L412 69 L417 67 L423.7 66.1 L430 67 L435.8 69.2 L441 72 L444.8 73.2 L449 68.5 L452.1 64.1 L457 57.5 L461.2 55.6 L464 56.8 L467 59 L466 180 L352 180 Z" fill="#10f264"/><path d="M352 134 L358 131 L361.5 128.5 L363.1 126.7 L367 112 L371.2 98.4 L374.5 89.5 L377.2 84.3 L380 82 L383.3 81.3 L387 82.2 L391 84.8 L394.4 86 L397.5 84 L401 80 L407.5 74.2 L412 71 L417 69 L423.7 68.1 L430 69 L435.8 71.2 L441 74 L444.8 75.2 L449 70.5 L452.1 66.1 L457 59.5 L461.2 57.6 L464 58.8 L467 61 L466 180 L352 180 Z" fill="#30f54b"/><path d="M352 136 L358 133 L361.5 130.5 L363.1 128.7 L367 114 L371.2 100.4 L374.5 91.5 L377.2 86.3 L380 84 L383.3 83.3 L387 84.2 L391 86.8 L394.4 88 L397.5 86 L401 82 L407.5 76.2 L412 73 L417 71 L423.7 70.1 L430 71 L435.8 73.2 L441 76 L444.8 77.2 L449 72.5 L452.1 68.1 L457 61.5 L461.2 59.6 L464 60.8 L467 63 L466 180 L352 180 Z" fill="#50f832"/><path d="M352 138 L358 135 L361.5 132.5 L363.1 130.7 L367 116 L371.2 102.4 L374.5 93.5 L377.2 88.3 L380 86 L383.3 85.3 L387 86.2 L391 88.8 L394.4 90 L397.5 88 L401 84 L407.5 78.2 L412 75 L417 73 L423.7 72.1 L430 73 L435.8 75.2 L441 78 L444.8 79.2 L449 74.5 L452.1 70.1 L457 63.5 L461.2 61.6 L464 62.8 L467 65 L466 180 L352 180 Z" fill="#70fc19"/><path d="M352 140 L358 137 L361.5 134.5 L363.1 132.7 L367 118 L371.2 104.4 L374.5 95.5 L377.2 90.3 L380 88 L383.3 87.3 L387 88.2 L391 90.8 L394.4 92 L397.5 90 L401 86 L407.5 80.2 L412 77 L417 75 L423.7 74.1 L430 75 L435.8 77.2 L441 80 L444.8 81.2 L449 76.5 L452.1 72.1 L457 65.5 L461.2 63.6 L464 64.8 L467 67 L466 180 L352 180 Z" fill="#90ff00"/><path d="M352 142 L358 139 L361.5 136.5 L363.1 134.7 L367 120 L371.2 106.4 L374.5 97.5 L377.2 92.3 L380 90 L383.3 89.3 L387 90.2 L391 92.8 L394.4 94 L397.5 92 L401 88 L407.5 82.2 L412 79 L417 77 L423.7 76.1 L430 77 L435.8 79.2 L441 82 L444.8 83.2 L449 78.5 L452.1 74.1 L457 67.5 L461.2 65.6 L464 66.8 L467 69 L466 180 L352 180 Z" fill="#a3fc00"/><path d="M352 144 L358 141 L361.5 138.5 L363.1 136.7 L367 122 L371.2 108.4 L374.5 99.5 L377.2 94.3 L380 92 L383.3 91.3 L387 92.2 L391 94.8 L394.4 96 L397.5 94 L401 90 L407.5 84.2 L412 81 L417 79 L423.7 78.1 L430 79 L435.8 81.2 L441 84 L444.8 85.2 L449 80.5 L452.1 76.1 L457 69.5 L461.2 67.6 L464 68.8 L467 71 L466 180 L352 180 Z" fill="#b6f900"/><path d="M352 146 L358 143 L361.5 140.5 L363.1 138.7 L367 124 L371.2 110.4 L374.5 101.5 L377.2 96.3 L380 94 L383.3 93.3 L387 94.2 L391 96.8 L394.4 98 L397.5 96 L401 92 L407.5 86.2 L412 83 L417 81 L423.7 80.1 L430 81 L435.8 83.2 L441 86 L444.8 87.2 L449 82.5 L452.1 78.1 L457 71.5 L461.2 69.6 L464 70.8 L467 73 L466 180 L352 180 Z" fill="#caf600"/><path d="M352 148 L358 145 L361.5 142.5 L363.1 140.7 L367 126 L371.2 112.4 L374.5 103.5 L377.2 98.3 L380 96 L383.3 95.3 L387 96.2 L391 98.8 L394.4 100 L397.5 98 L401 94 L407.5 88.2 L412 85 L417 83 L423.7 82.1 L430 83 L435.8 85.2 L441 88 L444.8 89.2 L449 84.5 L452.1 80.1 L457 73.5 L461.2 71.6 L464 72.8 L467 75 L466 180 L352 180 Z" fill="#ddf300"/><path d="M352 150 L358 147 L361.5 144.5 L363.1 142.7 L367 128 L371.2 114.4 L374.5 105.5 L377.2 100.3 L380 98 L383.3 97.3 L387 98.2 L391 100.8 L394.4 102 L397.5 100 L401 96 L407.5 90.2 L412 87 L417 85 L423.7 84.1 L430 85 L435.8 87.2 L441 90 L444.8 91.2 L449 86.5 L452.1 82.1 L457 75.5 L461.2 73.6 L464 74.8 L467 77 L466 180 L352 180 Z" fill="#f0f000"/><path d="M352 152 L358 149 L361.5 146.5 L363.1 144.7 L367 130 L371.2 116.4 L374.5 107.5 L377.2 102.3 L380 100 L383.3 99.3 L387 100.2 L391 102.8 L394.4 104 L397.5 102 L401 98 L407.5 92.2 L412 89 L417 87 L423.7 86.1 L430 87 L435.8 89.2 L441 92 L444.8 93.2 L449 88.5 L452.1 84.1 L457 77.5 L461.2 75.6 L464 76.8 L467 79 L466 180 L352 180 Z" fill="#f2ec00"/><path d="M352 154 L358 151 L361.5 148.5 L363.1 146.7 L367 132 L371.2 118.4 L374.5 109.5 L377.2 104.3 L380 102 L383.3 101.3 L387 102.2 L391 104.8 L394.4 106 L397.5 104 L401 100 L407.5 94.2 L412 91 L417 89 L423.7 88.1 L430 89 L435.8 91.2 L441 94 L444.8 95.2 L449 90.5 L452.1 86.1 L457 79.5 L461.2 77.6 L464 78.8 L467 81 L466 180 L352 180 Z" fill="#f5e800"/><path d="M352 156 L358 153 L361.5 150.5 L363.1 148.7 L367 134 L371.2 120.4 L374.5 111.5 L377.2 106.3 L380 104 L383.3 103.3 L387 104.2 L391 106.8 L394.4 108 L397.5 106 L401 102 L407.5 96.2 L412 93 L417 91 L423.7 90.1 L430 91 L435.8 93.2 L441 96 L444.8 97.2 L449 92.5 L452.1 88.1 L457 81.5 L461.2 79.6 L464 80.8 L467 83 L466 180 L352 180 Z" fill="#f8e400"/><path d="M352 158 L358 155 L361.5 152.5 L363.1 150.7 L367 136 L371.2 122.4 L374.5 113.5 L377.2 108.3 L380 106 L383.3 105.3 L387 106.2 L391 108.8 L394.4 110 L397.5 108 L401 104 L407.5 98.2 L412 95 L417 93 L423.7 92.1 L430 93 L435.8 95.2 L441 98 L444.8 99.2 L449 94.5 L452.1 90.1 L457 83.5 L461.2 81.6 L464 82.8 L467 85 L466 180 L352 180 Z" fill="#fae000"/><path d="M352 160 L358 157 L361.5 154.5 L363.1 152.7 L367 138 L371.2 124.4 L374.5 115.5 L377.2 110.3 L380 108 L383.3 107.3 L387 108.2 L391 110.8 L394.4 112 L397.5 110 L401 106 L407.5 100.2 L412 97 L417 95 L423.7 94.1 L430 95 L435.8 97.2 L441 100 L444.8 101.2 L449 96.5 L452.1 92.1 L457 85.5 L461.2 83.6 L464 84.8 L467 87 L466 180 L352 180 Z" fill="#fcdc00"/><path d="M352 162 L358 159 L361.5 156.5 L363.1 154.7 L367 140 L371.2 126.4 L374.5 117.5 L377.2 112.3 L380 110 L383.3 109.3 L387 110.2 L391 112.8 L394.4 114 L397.5 112 L401 108 L407.5 102.2 L412 99 L417 97 L423.7 96.1 L430 97 L435.8 99.2 L441 102 L444.8 103.2 L449 98.5 L452.1 94.1 L457 87.5 L461.2 85.6 L464 86.8 L467 89 L466 180 L352 180 Z" fill="#ffd800"/><path d="M352 164 L358 161 L361.5 158.5 L363.1 156.7 L367 142 L371.2 128.4 L374.5 119.5 L377.2 114.3 L380 112 L383.3 111.3 L387 112.2 L391 114.8 L394.4 116 L397.5 114 L401 110 L407.5 104.2 L412 101 L417 99 L423.7 98.1 L430 99 L435.8 101.2 L441 104 L444.8 105.2 L449 100.5 L452.1 96.1 L457 89.5 L461.2 87.6 L464 88.8 L467 91 L466 180 L352 180 Z" fill="#ffcf00"/><path d="M352 166 L358 163 L361.5 160.5 L363.1 158.7 L367 144 L371.2 130.4 L374.5 121.5 L377.2 116.3 L380 114 L383.3 113.3 L387 114.2 L391 116.8 L394.4 118 L397.5 116 L401 112 L407.5 106.2 L412 103 L417 101 L423.7 100.1 L430 101 L435.8 103.2 L441 106 L444.8 107.2 L449 102.5 L452.1 98.1 L457 91.5 L461.2 89.6 L464 90.8 L467 93 L466 180 L352 180 Z" fill="#ffc500"/><path d="M352 168 L358 165 L361.5 162.5 L363.1 160.7 L367 146 L371.2 132.4 L374.5 123.5 L377.2 118.3 L380 116 L383.3 115.3 L387 116.2 L391 118.8 L394.4 120 L397.5 118 L401 114 L407.5 108.2 L412 105 L417 103 L423.7 102.1 L430 103 L435.8 105.2 L441 108 L444.8 109.2 L449 104.5 L452.1 100.1 L457 93.5 L461.2 91.6 L464 92.8 L467 95 L466 180 L352 180 Z" fill="#ffbc00"/><path d="M352 170 L358 167 L361.5 164.5 L363.1 162.7 L367 148 L371.2 134.4 L374.5 125.5 L377.2 120.3 L380 118 L383.3 117.3 L387 118.2 L391 120.8 L394.4 122 L397.5 120 L401 116 L407.5 110.2 L412 107 L417 105 L423.7 104.1 L430 105 L435.8 107.2 L441 110 L444.8 111.2 L449 106.5 L452.1 102.1 L457 95.5 L461.2 93.6 L464 94.8 L467 97 L466 180 L352 180 Z" fill="#ffb300"/><path d="M352 172 L358 169 L361.5 166.5 L363.1 164.7 L367 150 L371.2 136.4 L374.5 127.5 L377.2 122.3 L380 120 L383.3 119.3 L387 120.2 L391 122.8 L394.4 124 L397.5 122 L401 118 L407.5 112.2 L412 109 L417 107 L423.7 106.1 L430 107 L435.8 109.2 L441 112 L444.8 113.2 L449 108.5 L452.1 104.1 L457 97.5 L461.2 95.6 L464 96.8 L467 99 L466 180 L352 180 Z" fill="#ffa900"/><path d="M352 174 L358 171 L361.5 168.5 L363.1 166.7 L367 152 L371.2 138.4 L374.5 129.5 L377.2 124.3 L380 122 L383.3 121.3 L387 122.2 L391 124.8 L394.4 126 L397.5 124 L401 120 L407.5 114.2 L412 111 L417 109 L423.7 108.1 L430 109 L435.8 111.2 L441 114 L444.8 115.2 L449 110.5 L452.1 106.1 L457 99.5 L461.2 97.6 L464 98.8 L467 101 L466 180 L352 180 Z" fill="#ffa000"/><path d="M352 176 L358 173 L361.5 170.5 L363.1 168.7 L367 154 L371.2 140.4 L374.5 131.5 L377.2 126.3 L380 124 L383.3 123.3 L387 124.2 L391 126.8 L394.4 128 L397.5 126 L401 122 L407.5 116.2 L412 113 L417 111 L423.7 110.1 L430 111 L435.8 113.2 L441 116 L444.8 117.2 L449 112.5 L452.1 108.1 L457 101.5 L461.2 99.6 L464 100.8 L467 103 L466 180 L352 180 Z" fill="#ff9300"/><path d="M352 178 L358 175 L361.5 172.5 L363.1 170.7 L367 156 L371.2 142.4 L374.5 133.5 L377.2 128.3 L380 126 L383.3 125.3 L387 126.2 L391 128.8 L394.4 130 L397.5 128 L401 124 L407.5 118.2 L412 115 L417 113 L423.7 112.1 L430 113 L435.8 115.2 L441 118 L444.8 119.2 L449 114.5 L452.1 110.1 L457 103.5 L461.2 101.6 L464 102.8 L467 105 L466 180 L352 180 Z" fill="#ff8600"/><path d="M352 180 L358 177 L361.5 174.5 L363.1 172.7 L367 158 L371.2 144.4 L374.5 135.5 L377.2 130.3 L380 128 L383.3 127.3 L387 128.2 L391 130.8 L394.4 132 L397.5 130 L401 126 L407.5 120.2 L412 117 L417 115 L423.7 114.1 L430 115 L435.8 117.2 L441 120 L444.8 121.2 L449 116.5 L452.1 112.1 L457 105.5 L461.2 103.6 L464 104.8 L467 107 L466 180 L352 180 Z" fill="#ff7a00"/><path d="M352 182 L358 179 L361.5 176.5 L363.1 174.7 L367 160 L371.2 146.4 L374.5 137.5 L377.2 132.3 L380 130 L383.3 129.3 L387 130.2 L391 132.8 L394.4 134 L397.5 132 L401 128 L407.5 122.2 L412 119 L417 117 L423.7 116.1 L430 117 L435.8 119.2 L441 122 L444.8 123.2 L449 118.5 L452.1 114.1 L457 107.5 L461.2 105.6 L464 106.8 L467 109 L466 180 L352 180 Z" fill="#ff6d00"/><path d="M352 184 L358 181 L361.5 178.5 L363.1 176.7 L367 162 L371.2 148.4 L374.5 139.5 L377.2 134.3 L380 132 L383.3 131.3 L387 132.2 L391 134.8 L394.4 136 L397.5 134 L401 130 L407.5 124.2 L412 121 L417 119 L423.7 118.1 L430 119 L435.8 121.2 L441 124 L444.8 125.2 L449 120.5 L452.1 116.1 L457 109.5 L461.2 107.6 L464 108.8 L467 111 L466 180 L352 180 Z" fill="#ff6000"/><path d="M352 186 L358 183 L361.5 180.5 L363.1 178.7 L367 164 L371.2 150.4 L374.5 141.5 L377.2 136.3 L380 134 L383.3 133.3 L387 134.2 L391 136.8 L394.4 138 L397.5 136 L401 132 L407.5 126.2 L412 123 L417 121 L423.7 120.1 L430 121 L435.8 123.2 L441 126 L444.8 127.2 L449 122.5 L452.1 118.1 L457 111.5 L461.2 109.6 L464 110.8 L467 113 L466 180 L352 180 Z" fill="#ff5600"/><path d="M352 188 L358 185 L361.5 182.5 L363.1 180.7 L367 166 L371.2 152.4 L374.5 143.5 L377.2 138.3 L380 136 L383.3 135.3 L387 136.2 L391 138.8 L394.4 140 L397.5 138 L401 134 L407.5 128.2 L412 125 L417 123 L423.7 122.1 L430 123 L435.8 125.2 L441 128 L444.8 129.2 L449 124.5 L452.1 120.1 L457 113.5 L461.2 111.6 L464 112.8 L467 115 L466 180 L352 180 Z" fill="#ff4d00"/><path d="M352 190 L358 187 L361.5 184.5 L363.1 182.7 L367 168 L371.2 154.4 L374.5 145.5 L377.2 140.3 L380 138 L383.3 137.3 L387 138.2 L391 140.8 L394.4 142 L397.5 140 L401 136 L407.5 130.2 L412 127 L417 125 L423.7 124.1 L430 125 L435.8 127.2 L441 130 L444.8 131.2 L449 126.5 L452.1 122.1 L457 115.5 L461.2 113.6 L464 114.8 L467 117 L466 180 L352 180 Z" fill="#ff4300"/><path d="M352 192 L358 189 L361.5 186.5 L363.1 184.7 L367 170 L371.2 156.4 L374.5 147.5 L377.2 142.3 L380 140 L383.3 139.3 L387 140.2 L391 142.8 L394.4 144 L397.5 142 L401 138 L407.5 132.2 L412 129 L417 127 L423.7 126.1 L430 127 L435.8 129.2 L441 132 L444.8 133.2 L449 128.5 L452.1 124.1 L457 117.5 L461.2 115.6 L464 116.8 L467 119 L466 180 L352 180 Z" fill="#ff3a00"/><path d="M352 194 L358 191 L361.5 188.5 L363.1 186.7 L367 172 L371.2 158.4 L374.5 149.5 L377.2 144.3 L380 142 L383.3 141.3 L387 142.2 L391 144.8 L394.4 146 L397.5 144 L401 140 L407.5 134.2 L412 131 L417 129 L423.7 128.1 L430 129 L435.8 131.2 L441 134 L444.8 135.2 L449 130.5 L452.1 126.1 L457 119.5 L461.2 117.6 L464 118.8 L467 121 L466 180 L352 180 Z" fill="#ff3000"/><path d="M352 196 L358 193 L361.5 190.5 L363.1 188.7 L367 174 L371.2 160.4 L374.5 151.5 L377.2 146.3 L380 144 L383.3 143.3 L387 144.2 L391 146.8 L394.4 148 L397.5 146 L401 142 L407.5 136.2 L412 133 L417 131 L423.7 130.1 L430 131 L435.8 133.2 L441 136 L444.8 137.2 L449 132.5 L452.1 128.1 L457 121.5 L461.2 119.6 L464 120.8 L467 123 L466 180 L352 180 Z" fill="#ff2800"/><path d="M352 198 L358 195 L361.5 192.5 L363.1 190.7 L367 176 L371.2 162.4 L374.5 153.5 L377.2 148.3 L380 146 L383.3 145.3 L387 146.2 L391 148.8 L394.4 150 L397.5 148 L401 144 L407.5 138.2 L412 135 L417 133 L423.7 132.1 L430 133 L435.8 135.2 L441 138 L444.8 139.2 L449 134.5 L452.1 130.1 L457 123.5 L461.2 121.6 L464 122.8 L467 125 L466 180 L352 180 Z" fill="#ff2000"/><path d="M352 200 L358 197 L361.5 194.5 L363.1 192.7 L367 178 L371.2 164.4 L374.5 155.5 L377.2 150.3 L380 148 L383.3 147.3 L387 148.2 L391 150.8 L394.4 152 L397.5 150 L401 146 L407.5 140.2 L412 137 L417 135 L423.7 134.1 L430 135 L435.8 137.2 L441 140 L444.8 141.2 L449 136.5 L452.1 132.1 L457 125.5 L461.2 123.6 L464 124.8 L467 127 L466 180 L352 180 Z" fill="#ff1800"/><path d="M352 202 L358 199 L361.5 196.5 L363.1 194.7 L367 180 L371.2 166.4 L374.5 157.5 L377.2 152.3 L380 150 L383.3 149.3 L387 150.2 L391 152.8 L394.4 154 L397.5 152 L401 148 L407.5 142.2 L412 139 L417 137 L423.7 136.1 L430 137 L435.8 139.2 L441 142 L444.8 143.2 L449 138.5 L452.1 134.1 L457 127.5 L461.2 125.6 L464 126.8 L467 129 L466 180 L352 180 Z" fill="#ff1000"/><path d="M352 204 L358 201 L361.5 198.5 L363.1 196.7 L367 182 L371.2 168.4 L374.5 159.5 L377.2 154.3 L380 152 L383.3 151.3 L387 152.2 L391 154.8 L394.4 156 L397.5 154 L401 150 L407.5 144.2 L412 141 L417 139 L423.7 138.1 L430 139 L435.8 141.2 L441 144 L444.8 145.2 L449 140.5 L452.1 136.1 L457 129.5 L461.2 127.6 L464 128.8 L467 131 L466 180 L352 180 Z" fill="#ff0800"/><path d="M352 206 L358 203 L361.5 200.5 L363.1 198.7 L367 184 L371.2 170.4 L374.5 161.5 L377.2 156.3 L380 154 L383.3 153.3 L387 154.2 L391 156.8 L394.4 158 L397.5 156 L401 152 L407.5 146.2 L412 143 L417 141 L423.7 140.1 L430 141 L435.8 143.2 L441 146 L444.8 147.2 L449 142.5 L452.1 138.1 L457 131.5 L461.2 129.6 L464 130.8 L467 133 L466 180 L352 180 Z" fill="#ff0000"/><path d="M352 208 L358 205 L361.5 202.5 L363.1 200.7 L367 186 L371.2 172.4 L374.5 163.5 L377.2 158.3 L380 156 L383.3 155.3 L387 156.2 L391 158.8 L394.4 160 L397.5 158 L401 154 L407.5 148.2 L412 145 L417 143 L423.7 142.1 L430 143 L435.8 145.2 L441 148 L444.8 149.2 L449 144.5 L452.1 140.1 L457 133.5 L461.2 131.6 L464 132.8 L467 135 L466 180 L352 180 Z" fill="#ff0000"/><path d="M352 210 L358 207 L361.5 204.5 L363.1 202.7 L367 188 L371.2 174.4 L374.5 165.5 L377.2 160.3 L380 158 L383.3 157.3 L387 158.2 L391 160.8 L394.4 162 L397.5 160 L401 156 L407.5 150.2 L412 147 L417 145 L423.7 144.1 L430 145 L435.8 147.2 L441 150 L444.8 151.2 L449 146.5 L452.1 142.1 L457 135.5 L461.2 133.6 L464 134.8 L467 137 L466 180 L352 180 Z" fill="#ff0000"/></g><path d="M360.4 75.5 L363.1 72.7 L367 58 L371.2 44.4 L377.2 30.3 L383.3 27.3 L392 30 L392 120 L372 112 L362 82 Z" fill="url(#shb3)"/><path d="M322.5 88.5 L325.1 88 L329.1 70.4 L334.1 54.2 L337.5 45 L340.2 42.1 L343.5 43.5 L348.3 52.2 L353.3 62.3 L357.4 73.4 L360.4 75.5 L362 80 L366 96 L371.7 112.3 L379 121 L386.9 127.4 L396 131.5 L405.9 134 L420 137 L420 160 L340 150 L330 128 Z" fill="url(#g2b)"/><path d="M322.5 88.5 L325.1 88 L329.1 70.4 L334.1 54.2 L337.5 45 L340.2 42.1 L343.5 43.5 L348.3 52.2 L353.3 62.3 L357.4 73.4 L360.4 75.5 L362 80 L366 96 L371.7 112.3 L379 121 L386.9 127.4 L396 131.5 L405.9 134 L420 137 L420 160 L340 150 L330 128 Z" fill="url(#shb2)"/><path d="M358 76 L362 80 L366 96 L371.7 112.3 L379 121 L386.9 127.4 L396 131.5 L388 134 L372 130 L360 118 L354 100 L352 85 Z" fill="#203000" opacity="0.45" filter="url(#bl15)"/><path d="M300 140 L330 131 L350 142 L380 141 L405 140 L430 137 L456 132 L460 175 L300 175 Z" fill="#ff0000" filter="url(#bl15)"/><path d="M296.6 55.5 L299.5 53.8 L303.3 54.6 L307 58 L312.2 66.5 L318 78.5 L322.5 88.5 L327 100 L332 113 L337 124 L343 134 L349 142 L349 148.6 L340.9 139.5 L330 129.1 L320.9 116.4 L313.6 103.6 L306.4 87.3 L297.3 75.5 Z" fill="url(#g1b)"/><path d="M306.4 87.3 L313.6 103.6 L320.9 116.4 L330 129.1 L331.9 135.5 L326.4 133.2 L314.5 130.5 L309.5 110 L307.3 89.1 Z" fill="url(#gdb)"/><path d="M327 0 L328.2 175 M333 0 L334.2 175 M339 0 L340.2 175 M345 0 L346.2 175 M351 0 L352.2 175 M357 0 L358.2 175 M367.2 0 L363.7 175 M376.6 0 L373.1 175 M384.2 0 L380.7 175 M393.7 0 L390.2 175 M402.3 0 L398.8 175 M410.8 0 L407.3 175 M419.3 0 L415.8 175 M427.9 0 L424.4 175 M436.4 0 L432.9 175 M445 0 L441.5 175 M452.5 0 L449 175 M361 81 C362.17 77.83 365.33 66.58 368 62 C370.67 57.42 374 53.83 377 53.5 C380 53.17 382.93 55.42 386 60 C389.07 64.58 393.83 77.5 395.4 81 M395 81 C396.67 77.5 400.55 65.08 405 60 C409.45 54.92 416.7 50.83 421.7 50.5 C426.7 50.17 430.95 53.08 435 58 C439.05 62.92 444.17 76.33 446 80 M362 100 C363.67 96.67 369 84 372 80 C375 76 377 75.67 380 76 C383 76.33 387 78 390 82 C393 86 396.67 97 398 100 M398 100 C400 97 405.83 86.17 410 82 C414.17 77.83 418.67 75 423 75 C427.33 75 431.83 78.17 436 82 C440.17 85.83 446 95.33 448 98 M325 128 C326.17 125.33 329.5 116 332 112 C334.5 108 337 104.33 340 104 C343 103.67 347 106.5 350 110 C353 113.5 356.67 122.5 358 125 M330 95 C331.17 92.5 335 83.17 337 80 C339 76.83 340.17 76 342 76 C343.83 76 345.83 76.83 348 80 C350.17 83.17 353.83 92.5 355 95 M420 60 C422 56.67 428.33 44.67 432 40 C435.67 35.33 438.67 32.67 442 32 C445.33 31.33 448.67 32.17 452 36 C455.33 39.83 460.33 51.83 462 55 M425 85 C427 81.17 433.33 67 437 62 C440.67 57 443.83 55.33 447 55 C450.17 54.67 453.5 56.67 456 60 C458.5 63.33 461 72.5 462 75 M400 120 C402.5 116.67 410 104.67 415 100 C420 95.33 425 92.67 430 92 C435 91.33 440.33 93 445 96 C449.67 99 455.83 107.67 458 110 M370 120 C372 117 377.83 105.67 382 102 C386.17 98.33 390.33 97.67 395 98 C399.67 98.33 405.83 100.67 410 104 C414.17 107.33 418.33 115.67 420 118 M440 20 C441.33 21.67 445.33 24.67 448 30 C450.67 35.33 453.83 43.67 456 52 C458.17 60.33 460.17 75.33 461 80 M430 16 C431.67 18 436.67 21.5 440 28 C443.33 34.5 447.33 44.67 450 55 C452.67 65.33 455 84.17 456 90 " fill="none" stroke="#ff40d0" stroke-width="0.8" opacity="0.9"/><path d="M335.4 128.5 C337.73 130.68 343.9 138.3 349.4 141.6 C354.9 144.9 362.08 146.57 368.4 148.3 C374.72 150.03 379.4 150.72 387.3 152 C395.2 153.28 405.83 154.72 415.8 156 C425.77 157.28 440 158.87 447.1 159.7 C454.2 160.53 456.52 160.78 458.4 161 M335.8 121.5 C338.13 123.68 344.3 131.3 349.8 134.6 C355.3 137.9 362.48 139.57 368.8 141.3 C375.12 143.03 379.8 143.72 387.7 145 C395.6 146.28 406.23 147.72 416.2 149 C426.17 150.28 440.4 151.87 447.5 152.7 C454.6 153.53 456.92 153.78 458.8 154 M336.2 114.5 C338.53 116.68 344.7 124.3 350.2 127.6 C355.7 130.9 362.88 132.57 369.2 134.3 C375.52 136.03 380.2 136.72 388.1 138 C396 139.28 406.63 140.72 416.6 142 C426.57 143.28 440.8 144.87 447.9 145.7 C455 146.53 457.32 146.78 459.2 147 M336.6 107.5 C338.93 109.68 345.1 117.3 350.6 120.6 C356.1 123.9 363.28 125.57 369.6 127.3 C375.92 129.03 380.6 129.72 388.5 131 C396.4 132.28 407.03 133.72 417 135 C426.97 136.28 441.2 137.87 448.3 138.7 C455.4 139.53 457.72 139.78 459.6 140 M337 100.5 C339.33 102.68 345.5 110.3 351 113.6 C356.5 116.9 363.68 118.57 370 120.3 C376.32 122.03 381 122.72 388.9 124 C396.8 125.28 407.43 126.72 417.4 128 C427.37 129.28 441.6 130.87 448.7 131.7 C455.8 132.53 458.12 132.78 460 133 M337.4 93.5 C339.73 95.68 345.9 103.3 351.4 106.6 C356.9 109.9 364.08 111.57 370.4 113.3 C376.72 115.03 381.4 115.72 389.3 117 C397.2 118.28 407.83 119.72 417.8 121 C427.77 122.28 442 123.87 449.1 124.7 C456.2 125.53 458.52 125.78 460.4 126 M337.8 86.5 C340.13 88.68 346.3 96.3 351.8 99.6 C357.3 102.9 364.48 104.57 370.8 106.3 C377.12 108.03 381.8 108.72 389.7 110 C397.6 111.28 408.23 112.72 418.2 114 C428.17 115.28 442.4 116.87 449.5 117.7 C456.6 118.53 458.92 118.78 460.8 119 M338.2 79.5 C340.53 81.68 346.7 89.3 352.2 92.6 C357.7 95.9 364.88 97.57 371.2 99.3 C377.52 101.03 382.2 101.72 390.1 103 C398 104.28 408.63 105.72 418.6 107 C428.57 108.28 442.8 109.87 449.9 110.7 C457 111.53 459.32 111.78 461.2 112 M338.6 72.5 C340.93 74.68 347.1 82.3 352.6 85.6 C358.1 88.9 365.28 90.57 371.6 92.3 C377.92 94.03 382.6 94.72 390.5 96 C398.4 97.28 409.03 98.72 419 100 C428.97 101.28 443.2 102.87 450.3 103.7 C457.4 104.53 459.72 104.78 461.6 105 " fill="none" stroke="#ff40d0" stroke-width="0.8" opacity="0.9" clip-path="url(#frb)"/></g><path d="M296.6 55.5 L297.3 75.5 L306.4 87.3 L313.6 103.6 L320.9 116.4 L330 129.1 L340.9 139.5 L349 148.6 L368 155.3 L386.9 159 L415.4 163 L446.7 166.7 L452 130 L456.2 98 L457.6 80 L459.4 60 L461.2 48.5 L464.2 24.2 L465.5 7.3 L464 4.8 L461.2 3.6" fill="none" stroke="#22ee22" stroke-width="1.3" stroke-linejoin="round"/><path d="M307.3 89.1 L309.5 110 L314.5 130.5" fill="none" stroke="#22ee22" stroke-width="1"/></g><g><path d="M533.3 157.5 L646.6 194.2 L680.2 112.6 L570 95 Z" fill="#ff0000"/><g clip-path="url(#flc)"><ellipse cx="553.5" cy="151.8" rx="14" ry="4.9" transform="rotate(17 553.5 151.8)" fill="url(#blobg)"/><ellipse cx="605" cy="168.8" rx="15" ry="5.1" transform="rotate(17 605 168.8)" fill="url(#blobg)"/><ellipse cx="571" cy="151" rx="7" ry="2.5" fill="#e8f040" opacity="0.9"/><ellipse cx="622" cy="168.5" rx="9" ry="2.5" fill="#e8f040" opacity="0.9"/><ellipse cx="673" cy="121" rx="3" ry="4" fill="#e8f040" opacity="0.9"/><ellipse cx="661" cy="158" rx="3" ry="4" fill="#e8f040" opacity="0.9"/></g><path d="M596.9 160.2 L591.6 173.4" stroke="#fff" stroke-width="2.6"/><path d="M533.3 157.5 L646.6 194.2 L680.2 112.6 L570 95 Z" fill="none" stroke="#222" stroke-width="1"/><path d="M534.6 156.5 L645.6 192.2 L679 113.6" fill="none" stroke="#fff" stroke-width="1.1"/><path d="M517.2 45.9 L532 160 M533.5 160.5 L646.7 197.9 M646.7 197.9 L681.8 113" stroke="#777" stroke-width="0.8" fill="none"/><path d="M517.59 48.9 h3 M523.54 94.8 h3 M528.65 134.2 h3 M518.78 58.08 h1.6 M519.97 67.26 h1.6 M521.16 76.44 h1.6 M522.35 85.62 h1.6 M524.56 102.68 h1.6 M525.59 110.56 h1.6 M526.61 118.44 h1.6 M527.63 126.32 h1.6 M535.76 161.25 l0 -3 M539.39 162.44 l0 -1.6 M543.01 163.64 l0 -1.6 M546.63 164.84 l0 -1.6 M550.25 166.04 l0 -1.6 M553.88 167.23 l0 -3 M557.5 168.43 l0 -1.6 M561.12 169.63 l0 -1.6 M564.74 170.82 l0 -1.6 M568.37 172.02 l0 -1.6 M571.99 173.22 l0 -3 M575.61 174.41 l0 -1.6 M579.23 175.61 l0 -1.6 M582.86 176.81 l0 -1.6 M586.48 178 l0 -1.6 M590.1 179.2 l0 -3 M593.72 180.4 l0 -1.6 M597.34 181.59 l0 -1.6 M600.97 182.79 l0 -1.6 M604.59 183.99 l0 -1.6 M608.21 185.18 l0 -3 M611.83 186.38 l0 -1.6 M615.46 187.58 l0 -1.6 M619.08 188.77 l0 -1.6 M622.7 189.97 l0 -1.6 M626.32 191.17 l0 -3 M629.95 192.36 l0 -1.6 M633.57 193.56 l0 -1.6 M637.19 194.76 l0 -1.6 M640.81 195.96 l0 -1.6 M644.44 197.15 l0 -3 M647.75 195.35 l-3 0 M648.85 192.69 l-1.6 0 M649.95 190.03 l-1.6 0 M651.05 187.37 l-1.6 0 M652.15 184.71 l-1.6 0 M653.25 182.05 l-3 0 M654.35 179.39 l-1.6 0 M655.45 176.73 l-1.6 0 M656.55 174.07 l-1.6 0 M657.65 171.41 l-1.6 0 M658.75 168.75 l-3 0 M659.85 166.09 l-1.6 0 M660.95 163.43 l-1.6 0 M662.05 160.77 l-1.6 0 M663.15 158.11 l-1.6 0 M664.25 155.45 l-3 0 M665.35 152.79 l-1.6 0 M666.45 150.13 l-1.6 0 M667.55 147.47 l-1.6 0 M668.65 144.81 l-1.6 0 M669.75 142.15 l-3 0 M670.85 139.49 l-1.6 0 M671.95 136.83 l-1.6 0 M673.05 134.17 l-1.6 0 M674.15 131.51 l-1.6 0 M675.25 128.85 l-3 0 M676.35 126.19 l-1.6 0 M677.45 123.53 l-1.6 0 M678.55 120.87 l-1.6 0 M679.65 118.21 l-1.6 0 M680.75 115.55 l-3 0 " stroke="#777" stroke-width="0.7" fill="none"/><text x="512.3" y="54.7" font-size="8.5" text-anchor="middle" font-family="'Liberation Sans', sans-serif" textLength="3.4" lengthAdjust="spacingAndGlyphs">4</text><text x="520.4" y="100.6" font-size="8.5" text-anchor="middle" font-family="'Liberation Sans', sans-serif" textLength="3.4" lengthAdjust="spacingAndGlyphs">2</text><text x="525.9" y="140" font-size="8.5" text-anchor="middle" font-family="'Liberation Sans', sans-serif" textLength="3.4" lengthAdjust="spacingAndGlyphs">0</text><text x="550.2" y="175.7" font-size="8.5" text-anchor="middle" font-family="'Liberation Sans', sans-serif" textLength="7" lengthAdjust="spacingAndGlyphs">&#8722;2</text><text x="584.8" y="187.8" font-size="8.5" text-anchor="middle" font-family="'Liberation Sans', sans-serif" textLength="3.4" lengthAdjust="spacingAndGlyphs">0</text><text x="621.5" y="200.9" font-size="8.5" text-anchor="middle" font-family="'Liberation Sans', sans-serif" textLength="3.4" lengthAdjust="spacingAndGlyphs">2</text><text x="579.8" y="197" font-size="7.6" text-anchor="middle" font-family="'Liberation Sans', sans-serif" textLength="2.6" lengthAdjust="spacingAndGlyphs">t</text><text x="680.6" y="133" font-size="8.5" text-anchor="middle" font-family="'Liberation Sans', sans-serif" textLength="3.4" lengthAdjust="spacingAndGlyphs">2</text><text x="670.9" y="158" font-size="8.5" text-anchor="middle" font-family="'Liberation Sans', sans-serif" textLength="3.4" lengthAdjust="spacingAndGlyphs">0</text><text x="660" y="186.3" font-size="8.5" text-anchor="middle" font-family="'Liberation Sans', sans-serif" textLength="7" lengthAdjust="spacingAndGlyphs">&#8722;2</text><text x="681" y="161.4" font-size="7.6" text-anchor="middle" font-family="'Liberation Sans', sans-serif" textLength="3.2" lengthAdjust="spacingAndGlyphs">x</text><text x="497" y="103.8" font-size="7" font-weight="bold" text-anchor="middle" font-family="'Liberation Sans', sans-serif" textLength="34" lengthAdjust="spacingAndGlyphs">Re[&#923;<tspan font-size="6.4" dy="2">18,</tspan><tspan dy="-2">(x,t)]</tspan></text><g clip-path="url(#sfc)"><rect x="530" y="30" width="155" height="150" fill="url(#gshc)"/><path d="M628 86 C629.5 85.17 634.17 82.5 637 81 C639.83 79.5 642 77.92 645 77 C648 76.08 651.5 74.67 655 75.5 C658.5 76.33 662.83 79.25 666 82 C669.17 84.75 671 89.33 674 92 C677 94.67 683 95.67 684 98 C685 100.33 683 105.33 680 106 C677 106.67 671.33 103.17 666 102 C660.67 100.83 653.67 100.33 648 99 C642.33 97.67 634.67 94.83 632 94 Z" fill="url(#bm1c)" filter="url(#bl15)"/><path d="M608 112 C609.5 110.83 613.33 107.08 617 105 C620.67 102.92 625.7 100.75 630 99.5 C634.3 98.25 638.63 97.5 642.8 97.5 C646.97 97.5 650.8 98.42 655 99.5 C659.2 100.58 663.83 102.42 668 104 C672.17 105.58 678.33 105 680 109 C681.67 113 681.33 123.83 678 128 C674.67 132.17 666.33 132.67 660 134 C653.67 135.33 647 136.67 640 136 C633 135.33 621.67 131 618 130 Z" fill="url(#bm2c)" filter="url(#bl22)"/><path d="M566 90 C566.37 88.43 567.35 85.13 568.2 80.6 C569.05 76.07 569.87 68.73 571.1 62.8 C572.33 56.87 574.28 49.3 575.6 45 C576.92 40.7 577.9 38.85 579 37 C580.1 35.15 581.12 33.9 582.2 33.9 C583.28 33.9 584.38 35.15 585.5 37 C586.62 38.85 587.42 41.07 588.9 45 C590.38 48.93 592.92 56.15 594.4 60.6 C595.88 65.05 597.02 69.52 597.8 71.7 C598.58 73.88 598.23 70.65 599.1 73.7 C599.97 76.75 601.52 83.95 603 90 C604.48 96.05 606.17 103.67 608 110 C609.83 116.33 611.67 123 614 128 C616.33 133 619 136.33 622 140 C625 143.67 635.67 147 632 150 C628.33 153 609.5 158 600 158 C590.5 158 579.17 151.33 575 150 Z" fill="url(#gp2c)"/><path d="M566 90 C566.37 88.43 567.35 85.13 568.2 80.6 C569.05 76.07 569.87 68.73 571.1 62.8 C572.33 56.87 574.28 49.3 575.6 45 C576.92 40.7 577.9 38.85 579 37 C580.1 35.15 581.12 33.9 582.2 33.9 C583.28 33.9 584.38 35.15 585.5 37 C586.62 38.85 587.42 41.07 588.9 45 C590.38 48.93 592.92 56.15 594.4 60.6 C595.88 65.05 597.02 69.52 597.8 71.7 C598.58 73.88 598.23 70.65 599.1 73.7 C599.97 76.75 601.52 83.95 603 90 C604.48 96.05 606.17 103.67 608 110 C609.83 116.33 611.67 123 614 128 C616.33 133 619 136.33 622 140 C625 143.67 635.67 147 632 150 C628.33 153 609.5 158 600 158 C590.5 158 579.17 151.33 575 150 Z" fill="url(#shc2)"/><path d="M537 140 C537.1 130.67 537.35 94.67 537.6 84 C537.85 73.33 538.1 78.43 538.5 76 C538.9 73.57 539.2 73.45 540 69.4 C540.8 65.35 542.38 55.77 543.3 51.7 C544.22 47.63 544.57 46.67 545.5 45 C546.43 43.33 547.73 41.87 548.9 41.7 C550.07 41.53 551.38 42.72 552.5 44 C553.62 45.28 554.17 45.9 555.6 49.4 C557.03 52.9 559.43 60.18 561.1 65 C562.77 69.82 564.2 74.13 565.6 78.3 C567 82.47 568.27 85.55 569.5 90 C570.73 94.45 571.58 100 573 105 C574.42 110 576 115.33 578 120 C580 124.67 582.17 128.83 585 133 C587.83 137.17 592.5 140.83 595 145 C597.5 149.17 605.83 157.83 600 158 C594.17 158.17 566.67 148 560 146 Z" fill="url(#gp1c)"/><path d="M537 140 C537.1 130.67 537.35 94.67 537.6 84 C537.85 73.33 538.1 78.43 538.5 76 C538.9 73.57 539.2 73.45 540 69.4 C540.8 65.35 542.38 55.77 543.3 51.7 C544.22 47.63 544.57 46.67 545.5 45 C546.43 43.33 547.73 41.87 548.9 41.7 C550.07 41.53 551.38 42.72 552.5 44 C553.62 45.28 554.17 45.9 555.6 49.4 C557.03 52.9 559.43 60.18 561.1 65 C562.77 69.82 564.2 74.13 565.6 78.3 C567 82.47 568.27 85.55 569.5 90 C570.73 94.45 571.58 100 573 105 C574.42 110 576 115.33 578 120 C580 124.67 582.17 128.83 585 133 C587.83 137.17 592.5 140.83 595 145 C597.5 149.17 605.83 157.83 600 158 C594.17 158.17 566.67 148 560 146 Z" fill="url(#shc1)"/><path d="M537 84 L541 80 L543 110 L540 128 L536 128 Z" fill="#10d020" opacity="0.8" filter="url(#bl08)"/><path d="M542.2 20 L544.2 150 M548.9 20 L550.9 150 M556.7 20 L558.7 150 M563.3 20 L565.3 150 M575.6 20 L577.6 150 M582.2 20 L584.2 150 M588.9 20 L590.9 150 M594.4 20 L596.4 150 M537.8 91.7 C538.5 90.08 540.15 84.23 542 82 C543.85 79.77 546.57 77.97 548.9 78.3 C551.23 78.63 553.6 80.67 556 84 C558.4 87.33 562.08 95.92 563.3 98.3 M567.8 87.2 C568.83 85.33 571.6 78.58 574 76 C576.4 73.42 579.53 71.53 582.2 71.7 C584.87 71.87 587.58 74.05 590 77 C592.42 79.95 595.58 87.33 596.7 89.4 M536 118 C537.17 116.33 540.5 110.33 543 108 C545.5 105.67 548.17 103.67 551 104 C553.83 104.33 556.83 106.5 560 110 C563.17 113.5 568.33 122.5 570 125 M566 112 C567.5 110.17 572 103.5 575 101 C578 98.5 581 96.5 584 97 C587 97.5 590 100.5 593 104 C596 107.5 600.5 115.67 602 118 " fill="none" stroke="#40e8e8" stroke-width="0.8"/><g clip-path="url(#shz)"><path d="M532.1 128.5 l46.2 -110 M536.35 132.75 l46.2 -110 M540.92 136.6 l46.2 -110 M546.07 139.71 l46.2 -110 M551.49 142.17 l46.2 -110 M557.33 143.62 l46.2 -110 M563.12 145.2 l46.2 -110 M568.84 147.09 l46.2 -110 M574.44 149.21 l46.2 -110 M579.64 152.23 l46.2 -110 M584.84 155.26 l46.2 -110 M590.49 157.25 l46.2 -110 M596.23 159.07 l46.2 -110 M601.95 160.92 l46.2 -110 M607.34 163.58 l46.2 -110 M612.73 166.25 l46.2 -110 M618.14 168.86 l46.2 -110 M623.97 170.35 l46.2 -110 M629.8 171.83 l46.2 -110 M635.62 173.35 l46.2 -110 M641.41 174.98 l46.2 -110 M647.2 176.6 l46.2 -110 M562.2 131.4 L690 181.24 M564.4 124.8 L690 173.78 M566.6 118.2 L690 166.33 M568.8 111.6 L690 158.87 M571 105 L690 151.41 M573.2 98.4 L690 143.95 M575.4 91.8 L690 136.49 M577.6 85.2 L690 129.04 M579.8 78.6 L690 121.58 M582 72 L690 114.12 M584.2 65.4 L690 106.66 M586.4 58.8 L690 99.2 M588.6 52.2 L690 91.75 M590.8 45.6 L690 84.29 M593 39 L690 76.83 " fill="none" stroke="#40e8e8" stroke-width="0.8"/></g></g><path d="M532.1 128.5 L539.1 135.5 L549.2 141.6 L561.3 144.6 L573.4 148.6 L585.6 155.7 L601.7 160.8 L617.9 168.8 L634 172.9 L647.2 176.6 L678.2 98 L682 96.4 L673.8 91.9 L666.5 81.9 L660 77 L654.7 75.2 L649 75.5 L644.6 77.3 L637.4 81 L626.4 80 L612 77 L599.1 73.7" fill="none" stroke="#22ee22" stroke-width="1.3" stroke-linejoin="round"/></g><g fill="none" stroke="url(#ge)" stroke-width="1.45" stroke-linejoin="round" stroke-linecap="round"><path d="M256.6 292.4 C257.25 289.78 259.25 281.55 260.5 276.7 C261.75 271.85 262.98 266.32 264.1 263.3 C265.22 260.28 266.02 258.35 267.2 258.6 C268.38 258.85 270.03 261.15 271.2 264.8 C272.37 268.45 273.37 275.3 274.2 280.5 C275.03 285.7 275.62 290.75 276.2 296 C276.78 301.25 277.05 304.6 277.7 312 C278.35 319.4 279.17 329.4 280.1 340.4 C281.03 351.4 282.28 367.23 283.3 378 C284.32 388.77 285.28 397.92 286.2 405 C287.12 412.08 288.37 417.92 288.8 420.5"/><path d="M289.3 420.2 C289.82 417 291.35 407.7 292.4 401 C293.45 394.3 294.45 388.17 295.6 380 C296.75 371.83 298.15 359.83 299.3 352 C300.45 344.17 301.28 337.63 302.5 333 C303.72 328.37 305.25 324.53 306.6 324.2 C307.95 323.87 309.43 327.03 310.6 331 C311.77 334.97 312.6 340.17 313.6 348 C314.6 355.83 315.47 368.83 316.6 378 C317.73 387.17 319.1 395.97 320.4 403 C321.7 410.03 323.73 417.33 324.4 420.2"/><path d="M288.5 420.5 C289.5 418.08 292.33 411.25 294.5 406 C296.67 400.75 299.17 393.17 301.5 389 C303.83 384.83 306.2 381.08 308.5 381 C310.8 380.92 313.35 384.83 315.3 388.5 C317.25 392.17 318.75 397.92 320.2 403 C321.65 408.08 323.37 416.33 324 419"/><path d="M324.6 420.4 C325.27 419.33 327.6 417.4 328.6 414 C329.6 410.6 330 406.5 330.6 400 C331.2 393.5 331.6 383.33 332.2 375 C332.8 366.67 333.47 357 334.2 350 C334.93 343 335.6 337.67 336.6 333 C337.6 328.33 338.58 324.53 340.2 322 C341.82 319.47 344.4 317.47 346.3 317.8 C348.2 318.13 349.95 319.63 351.6 324 C353.25 328.37 354.2 337.72 356.2 344 C358.2 350.28 361.17 355.7 363.6 361.7 C366.03 367.7 368.4 374.62 370.8 380 C373.2 385.38 375.63 389.67 378 394 C380.37 398.33 382.47 401.77 385 406 C387.53 410.23 390.7 416.53 393.2 419.4 C395.7 422.27 397.78 422.33 400 423.2 C402.22 424.07 405.42 424.37 406.5 424.6"/><path d="M322 422.5 C324 420.02 330.48 412.48 334 407.6 C337.52 402.72 339.83 397.57 343.1 393.2 C346.37 388.83 350.18 386.65 353.6 381.4 C357.02 376.15 360.7 369.77 363.6 361.7 C366.5 353.63 368.52 342.18 371 333 C373.48 323.82 376.25 315.27 378.5 306.6 C380.75 297.93 382.78 287.85 384.5 281 C386.22 274.15 387.38 268.8 388.8 265.5 C390.22 262.2 391.53 261.2 393 261.2 C394.47 261.2 396.18 262.7 397.6 265.5 C399.02 268.3 400.27 272.58 401.5 278 C402.73 283.42 403.75 290.67 405 298 C406.25 305.33 407.7 313.67 409 322 C410.3 330.33 411.72 340.67 412.8 348 C413.88 355.33 414.55 360.67 415.5 366 C416.45 371.33 417.08 375.17 418.5 380 C419.92 384.83 421.92 390.67 424 395 C426.08 399.33 428.5 402.92 431 406 C433.5 409.08 436.3 411.5 439 413.5 C441.7 415.5 445.83 417.25 447.2 418"/><path d="M378.3 424 C379.42 423.75 382.77 423.27 385 422.5 C387.23 421.73 389.7 421.48 391.7 419.4 C393.7 417.32 394.95 413.9 397 410 C399.05 406.1 401.67 401 404 396 C406.33 391 409.2 385.47 411 380 C412.8 374.53 413.13 368.87 414.8 363.2 C416.47 357.53 418.47 353.7 421 346 C423.53 338.3 427 326.83 430 317 C433 307.17 436.13 296.65 439 287 C441.87 277.35 445.83 263.75 447.2 259.1"/><path d="M284 426.5 C284.58 425.33 286.33 419.5 287.5 419.5 C288.67 419.5 290.42 425.33 291 426.5"/><path d="M288 426.5 C288.67 425.58 290.5 421 292 421 C293.5 421 296.17 425.58 297 426.5"/><path d="M320 426.5 C320.67 425.42 322.67 420 324 420 C325.33 420 327.33 425.42 328 426.5"/><path d="M324 426.5 C324.75 425.67 327 421.5 328.5 421.5 C330 421.5 332.25 425.67 333 426.5"/><path d="M256.8 420.6 C257.42 420.42 259.28 419.72 260.5 419.5 C261.72 419.28 262.85 419.17 264.1 419.3 C265.35 419.43 266.68 419.72 268 420.3 C269.32 420.88 270.63 421.95 272 422.8 C273.37 423.65 274.87 424.83 276.2 425.4 C277.53 425.97 279.37 426.07 280 426.2"/><path d="M256.8 379.2 C257.2 378.5 258.38 376.37 259.2 375 C260.02 373.63 261.28 371.67 261.7 371"/><path d="M256.5 426.6 L448 426.6"/></g><g fill="none" stroke="url(#ge)" stroke-width="1.45" stroke-dasharray="11 9"><path d="M297 362 C297.23 359.17 297.95 350.33 298.4 345 C298.85 339.67 299.35 335.83 299.7 330 C300.05 324.17 300.07 317.17 300.5 310 C300.93 302.83 301.7 292.55 302.3 287 C302.9 281.45 303.42 279.33 304.1 276.7 C304.78 274.07 305.68 272.02 306.4 271.2 C307.12 270.38 307.67 270 308.4 271.8 C309.13 273.6 310.1 277.3 310.8 282 C311.5 286.7 312.03 293.33 312.6 300 C313.17 306.67 313.53 314.5 314.2 322 C314.87 329.5 315.93 336.67 316.6 345 C317.27 353.33 317.77 365.33 318.2 372 C318.63 378.67 319.03 382.83 319.2 385" stroke-dashoffset="3.88"/><path d="M336 352 C336.25 349.33 336.98 340.88 337.5 336 C338.02 331.12 338.25 329.37 339.1 322.7 C339.95 316.03 341.08 304.07 342.6 296 C344.12 287.93 345.92 279.1 348.2 274.3 C350.48 269.5 353.27 267.2 356.3 267.2 C359.33 267.2 363.03 269.42 366.4 274.3 C369.77 279.18 373.65 289.1 376.5 296.5 C379.35 303.9 381.48 311.28 383.5 318.7 C385.52 326.12 387.02 335.37 388.6 341 C390.18 346.63 391.62 346.22 393 352.5 C394.38 358.78 395.28 370.68 396.9 378.7 C398.52 386.72 400.38 394.25 402.7 400.6 C405.02 406.95 408.42 412.98 410.8 416.8 C413.18 420.62 415.97 422.38 417 423.5" stroke-dashoffset="5.92"/><path d="M378.5 405 C379.08 403.33 380.65 399.43 382 395 C383.35 390.57 385.23 385.07 386.6 378.4 C387.97 371.73 388.87 361.92 390.2 355 C391.53 348.08 392.88 345.23 394.6 336.9 C396.32 328.57 398.3 314.6 400.5 305 C402.7 295.4 405.42 284.77 407.8 279.3 C410.18 273.83 412.93 272.42 414.8 272.2 C416.67 271.98 417.3 274.28 419 278 C420.7 281.72 422.33 286.7 425 294.5 C427.67 302.3 431.98 316.72 435 324.8 C438.02 332.88 441.02 338.8 443.1 343 C445.18 347.2 446.77 348.83 447.5 350" stroke-dashoffset="1.25"/><path d="M412.8 421.8 C413.48 420.62 414.53 418.57 416.9 414.7 C419.27 410.83 423.65 403.88 427 398.6 C430.35 393.32 433.58 388.77 437 383 C440.42 377.23 445.75 367.17 447.5 364" stroke-dashoffset="0.00"/><path d="M257.7 348.5 C258.42 348.45 260.85 348.12 262 348.2 C263.15 348.28 264.17 348.87 264.6 349" stroke-dashoffset="0.00"/><path d="M266.2 359 C266.92 359.6 268.93 361.17 270.5 362.6 C272.07 364.03 274.75 366.77 275.6 367.6" stroke-dashoffset="0.00"/><path d="M281 402 L283.5 413" stroke-dashoffset="0.00"/><path d="M301.3 407.7 L307.7 412.5" stroke-dashoffset="0.00"/><path d="M307 422 L313.4 420.6" stroke-dashoffset="0.00"/><path d="M330 424.5 C331.33 424 335.33 422.17 338 421.5 C340.67 420.83 344.67 420.67 346 420.5" stroke-dashoffset="0.00"/><path d="M352.2 423.4 L358.9 423.2" stroke-dashoffset="0.00"/><path d="M363.4 417.2 L369.3 420.2" stroke-dashoffset="0.00"/><path d="M376 421.5 C376.83 422 379.33 423.92 381 424.5 C382.67 425.08 385.17 424.92 386 425" stroke-dashoffset="0.00"/><path d="M350 410.5 L355.2 412.7" stroke-dashoffset="0.00"/><path d="M400 424.6 C401.67 424.17 406.67 423.27 410 422 C413.33 420.73 416.33 418.83 420 417 C423.67 415.17 427.5 413.5 432 411 C436.5 408.5 444.5 403.5 447 402" stroke-dashoffset="0.00"/></g><g fill="none" stroke="url(#gf)" stroke-width="1.4" stroke-linejoin="round" stroke-linecap="round"><path d="M541.8 258.2 C541.73 265.17 541.53 286.37 541.4 300 C541.27 313.63 541.2 326.67 541 340 C540.8 353.33 540.47 366.17 540.2 380 C539.93 393.83 539.53 415.83 539.4 423"/><path d="M557.3 258.2 C557.28 271.83 557.25 312.37 557.2 340 C557.15 367.63 557.03 410 557 424"/><path d="M559.5 258.2 C559.58 271.83 559.85 312.37 560 340 C560.15 367.63 560.33 410 560.4 424"/><path d="M561.8 258.2 L561.6 300"/><path d="M572.7 258.2 C573 265.17 573.87 286.37 574.5 300 C575.13 313.63 576 326.67 576.5 340 C577 353.33 577.25 366 577.5 380 C577.75 394 577.92 416.67 578 424"/><path d="M580.3 402.2 C580.75 398.5 582.13 390.37 583 380 C583.87 369.63 584.42 353.33 585.5 340 C586.58 326.67 588.35 310 589.5 300 C590.65 290 591.52 284.8 592.4 280 C593.28 275.2 594 271.53 594.8 271.2 C595.6 270.87 596.5 274.87 597.2 278 C597.9 281.13 598.53 284.07 599 290 C599.47 295.93 599.68 305.27 600 313.6 C600.32 321.93 600.6 328.93 600.9 340 C601.2 351.07 601.5 366.1 601.8 380 C602.1 393.9 602.55 416.17 602.7 423.4"/><path d="M615.5 258.2 C615.25 265.17 614.47 286.37 614 300 C613.53 313.63 613.12 326.67 612.7 340 C612.28 353.33 611.85 366 611.5 380 C611.15 394 610.75 416.67 610.6 424"/><path d="M620 258.2 C620.58 265.17 622.28 286.37 623.5 300 C624.72 313.63 626.3 328.33 627.3 340 C628.3 351.67 629.13 365 629.5 370"/><path d="M605.5 340 C605.8 337.83 606.7 330.03 607.3 327 C607.9 323.97 608.45 321.97 609.1 321.8 C609.75 321.63 610.45 322.97 611.2 326 C611.95 329.03 612.53 334.03 613.6 340 C614.67 345.97 615.52 352.85 617.6 361.8 C619.68 370.75 623.62 384.5 626.1 393.7 C628.58 402.9 631.18 412.12 632.5 417 C633.82 421.88 633.75 422 634 423"/><path d="M633.5 419.2 C634 415.67 635.5 406.2 636.5 398 C637.5 389.8 638.58 377.67 639.5 370 C640.42 362.33 641.23 356.18 642 352 C642.77 347.82 643.35 344.9 644.1 344.9 C644.85 344.9 645.6 346.98 646.5 352 C647.4 357.02 648.62 367.33 649.5 375 C650.38 382.67 651.1 390.63 651.8 398 C652.5 405.37 653.38 415.67 653.7 419.2"/><path d="M534.9 414.9 C535.42 413.58 536.93 409.13 538 407 C539.07 404.87 539.87 403.45 541.3 402.1 C542.73 400.75 545.15 398.58 546.6 398.9 C548.05 399.22 549.12 402.05 550 404 C550.88 405.95 551.23 407.38 551.9 410.6 C552.57 413.82 553.65 421.18 554 423.3"/><path d="M580.3 402.2 C580.83 397.83 582.43 381.32 583.5 376 C584.57 370.68 585.7 370.3 586.7 370.3 C587.7 370.3 588.62 372.82 589.5 376 C590.38 379.18 591.23 382.9 592 389.4 C592.77 395.9 593.75 410.73 594.1 415"/><path d="M582.5 402.2 C583.75 402.92 587.42 405.03 590 406.5 C592.58 407.97 595.17 409.42 598 411 C600.83 412.58 604.28 414.63 607 416 C609.72 417.37 611.47 418.2 614.3 419.2 C617.13 420.2 620.72 421.2 624 422 C627.28 422.8 632.33 423.67 634 424"/><path d="M488.2 424.4 C489.33 423.92 492.87 422.38 495 421.5 C497.13 420.62 499 419.93 501 419.1 C503 418.27 505.23 417.2 507 416.5 C508.77 415.8 510.13 414.82 511.6 414.9 C513.07 414.98 514.38 415.6 515.8 417 C517.22 418.4 519.38 422.25 520.1 423.3"/><path d="M487.5 425.6 L676.5 425.6"/><path d="M656 424.5 C656.67 424 658.62 422.22 660 421.5 C661.38 420.78 662.88 420.2 664.3 420.2 C665.72 420.2 667.05 420.78 668.5 421.5 C669.95 422.22 672.25 424 673 424.5"/><path d="M566 424 C566.67 423 568.83 418 570 418 C571.17 418 572.5 423 573 424"/><path d="M521 425 C521.83 424.33 524.33 421 526 421 C527.67 421 530.17 424.33 531 425"/><path d="M593 425 C593.67 423.83 595.67 418 597 418 C598.33 418 600.33 423.83 601 425"/><path d="M617 425 C617.5 424 618.83 419 620 419 C621.17 419 623.33 424 624 425"/><path d="M636 425 C636.67 424.17 638.67 420 640 420 C641.33 420 643.33 424.17 644 425"/><path d="M509.5 405.3 C509.83 406.08 510.8 408.22 511.5 410 C512.2 411.78 513.33 415 513.7 416"/><path d="M553 425.5 C553.5 424.08 555.08 417 556 417 C556.92 417 558.08 424.08 558.5 425.5"/><path d="M558 425.5 C558.58 423.75 560.33 415 561.5 415 C562.67 415 564.42 423.75 565 425.5"/><path d="M575 425.5 C575.5 423.25 577 412 578 412 C579 412 580.5 423.25 581 425.5"/><path d="M580 425.5 C580.5 424.25 582 418 583 418 C584 418 585.5 424.25 586 425.5"/><path d="M540 425.5 C540.83 424.83 543.17 421.5 545 421.5 C546.83 421.5 550 424.83 551 425.5"/></g><g fill="none" stroke="url(#gf)" stroke-width="1.4" stroke-dasharray="9 7"><path d="M522.2 423.3 C522.37 417.65 522.67 401.42 523.2 389.4 C523.73 377.38 524.72 361.1 525.4 351.2 C526.08 341.3 526.77 335.53 527.3 330 C527.83 324.47 528 321.93 528.6 318 C529.2 314.07 530.22 306.82 530.9 306.4 C531.58 305.98 532.18 311.07 532.7 315.5 C533.22 319.93 533.62 325.58 534 333 C534.38 340.42 534.75 349.9 535 360 C535.25 370.1 535.33 383.6 535.5 393.6 C535.67 403.6 535.92 415.6 536 420"/><path d="M488.2 419.1 C489.33 417.75 492.07 414.82 495 411 C497.93 407.18 504 398.67 505.8 396.2"/><path d="M576 343 C575.33 345.5 573.33 352.67 572 358 C570.67 363.33 569.33 368.83 568 375 C566.67 381.17 564.67 391.67 564 395"/><path d="M549 352 C548.92 355.83 548.67 367.67 548.5 375 C548.33 382.33 548.08 392.5 548 396"/><path d="M543.6 258.2 C543.57 271.83 543.5 312.37 543.4 340 C543.3 367.63 543.07 410 543 424"/><path d="M553 258.2 C553.08 265.17 553.25 279.7 553.5 300 C553.75 320.3 554.25 359.33 554.5 380 C554.75 400.67 554.92 416.67 555 424"/><path d="M576.4 258.2 C576.7 265.17 577.6 286.37 578.2 300 C578.8 313.63 579.7 333.33 580 340"/><path d="M584 270 C584.05 275 584.37 288.33 584.3 300 C584.23 311.67 583.72 333.33 583.6 340"/><path d="M593.6 258.2 L593.6 270"/><path d="M609.8 270.2 C609.75 275.17 609.63 288.37 609.5 300 C609.37 311.63 609.08 333.33 609 340"/><path d="M622.7 282.7 C622.83 286.33 623.2 294.95 623.5 304.5 C623.8 314.05 624 327.42 624.5 340 C625 352.58 625.92 370 626.5 380 C627.08 390 627.75 396.67 628 400"/><path d="M633.6 258.2 C633.57 265.17 633.5 285.53 633.4 300 C633.3 314.47 633.07 337.5 633 345"/><path d="M648.2 258.2 C648.25 265.17 648.3 285.53 648.5 300 C648.7 314.47 649.15 328.33 649.4 345 C649.65 361.67 649.9 390.83 650 400"/><path d="M655.8 400 C656.08 397.5 656.62 389.95 657.5 385 C658.38 380.05 659.93 372.13 661.1 370.3 C662.27 368.47 663.35 370.72 664.5 374 C665.65 377.28 666.62 383.17 668 390 C669.38 396.83 672 410.83 672.8 415"/><path d="M490 424 C493.33 423.83 503.33 423 510 423 C516.67 423 523.33 424.17 530 424 C536.67 423.83 543.33 422 550 422 C556.67 422 566.67 423.67 570 424"/></g></svg></body></html>
